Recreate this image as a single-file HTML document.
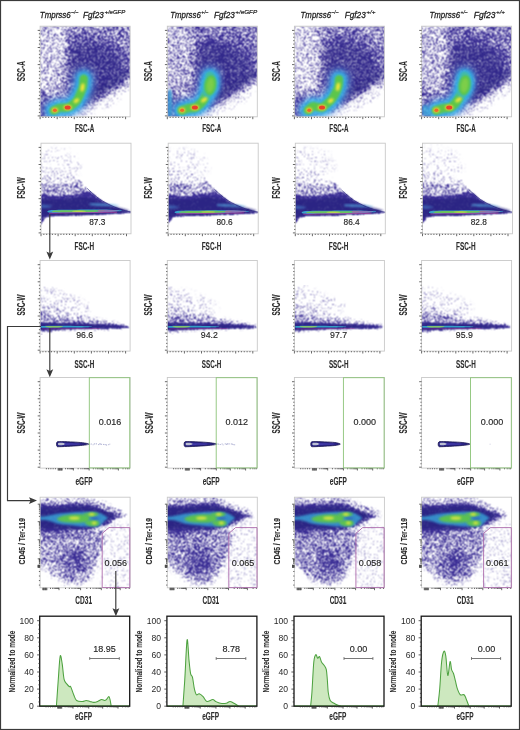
<!DOCTYPE html><html><head><meta charset="utf-8"><style>html,body{margin:0;padding:0;background:#fff;width:520px;height:730px;overflow:hidden}svg{display:block;will-change:transform}</style></head><body><svg width="520" height="730" viewBox="0 0 520 730"><defs><filter id="dz" x="-0.05" y="-0.05" width="1.1" height="1.1" color-interpolation-filters="sRGB">
<feTurbulence type="fractalNoise" baseFrequency="3.7" numOctaves="1" seed="5" result="n"/>
<feColorMatrix in="n" type="matrix" values="0 0 0 0 0 0 0 0 0 0 0 0 0 0 0 1 0 0 0 0" result="na"/>
<feComponentTransfer in="na" result="nu"><feFuncA type="table" tableValues="0 0 0 0 0 0 0 0 0.001 0.002 0.004 0.014 0.031 0.055 0.091 0.131 0.186 0.243 0.316 0.415 0.496 0.588 0.686 0.756 0.820 0.866 0.906 0.944 0.970 0.987 0.996 0.999 1 1 1 1 1 1 1 1 1"/></feComponentTransfer>
<feComposite in="SourceGraphic" in2="nu" operator="arithmetic" k1="0" k2="1" k3="-1" k4="0.5" result="d"/>
<feComponentTransfer in="d" result="t"><feFuncA type="linear" slope="4" intercept="-1.5"/></feComponentTransfer>
<feComponentTransfer in="SourceAlpha" result="m"><feFuncA type="linear" slope="40" intercept="0"/></feComponentTransfer>
<feComposite in="t" in2="m" operator="in" result="tm"/>
<feFlood flood-color="#3c2f96" result="col"/>
<feComposite in="col" in2="tm" operator="in" result="dots"/>
<feConvolveMatrix in="dots" order="3" kernelMatrix="1 2 1 2 4 2 1 2 1" preserveAlpha="false"/>
</filter><filter id="b0" x="-50%" y="-50%" width="200%" height="200%"><feGaussianBlur stdDeviation="1.50"/></filter><filter id="b1" x="-50%" y="-50%" width="200%" height="200%"><feGaussianBlur stdDeviation="3.00"/></filter><filter id="b2" x="-50%" y="-50%" width="200%" height="200%"><feGaussianBlur stdDeviation="4.00"/></filter><clipPath id="c0"><rect x="40.1" y="26.2" width="90" height="90.6"/></clipPath><filter id="b3" x="-50%" y="-50%" width="200%" height="200%"><feGaussianBlur stdDeviation="2.00"/></filter><filter id="b4" x="-50%" y="-50%" width="200%" height="200%"><feGaussianBlur stdDeviation="1.20"/></filter><filter id="b5" x="-50%" y="-50%" width="200%" height="200%"><feGaussianBlur stdDeviation="0.90"/></filter><filter id="b6" x="-50%" y="-50%" width="200%" height="200%"><feGaussianBlur stdDeviation="0.80"/></filter><filter id="b7" x="-50%" y="-50%" width="200%" height="200%"><feGaussianBlur stdDeviation="1.00"/></filter><clipPath id="c1"><rect x="40.1" y="26.2" width="90" height="90.6"/></clipPath><clipPath id="c2"><rect x="41" y="143.2" width="90" height="90.6"/></clipPath><clipPath id="c3"><rect x="41" y="143.2" width="90" height="90.6"/></clipPath><filter id="b8" x="-50%" y="-50%" width="200%" height="200%"><feGaussianBlur stdDeviation="1.30"/></filter><filter id="b9" x="-50%" y="-50%" width="200%" height="200%"><feGaussianBlur stdDeviation="0.60"/></filter><clipPath id="c4"><rect x="40.1" y="260.5" width="90" height="90.6"/></clipPath><filter id="b10" x="-50%" y="-50%" width="200%" height="200%"><feGaussianBlur stdDeviation="0.40"/></filter><filter id="b11" x="-50%" y="-50%" width="200%" height="200%"><feGaussianBlur stdDeviation="0.35"/></filter><clipPath id="c5"><rect x="40.1" y="260.5" width="90" height="90.6"/></clipPath><clipPath id="c6"><rect x="40.1" y="377.5" width="90" height="90.6"/></clipPath><filter id="b12" x="-50%" y="-50%" width="200%" height="200%"><feGaussianBlur stdDeviation="2.50"/></filter><filter id="b13" x="-50%" y="-50%" width="200%" height="200%"><feGaussianBlur stdDeviation="5.00"/></filter><clipPath id="c7"><rect x="40.1" y="497.2" width="90" height="90.6"/></clipPath><filter id="b14" x="-50%" y="-50%" width="200%" height="200%"><feGaussianBlur stdDeviation="1.80"/></filter><clipPath id="c8"><rect x="40.1" y="497.2" width="90" height="90.6"/></clipPath><clipPath id="c9"><rect x="167.3" y="26.2" width="90" height="90.6"/></clipPath><clipPath id="c10"><rect x="167.3" y="26.2" width="90" height="90.6"/></clipPath><clipPath id="c11"><rect x="168.2" y="143.2" width="90" height="90.6"/></clipPath><clipPath id="c12"><rect x="168.2" y="143.2" width="90" height="90.6"/></clipPath><clipPath id="c13"><rect x="167.3" y="260.5" width="90" height="90.6"/></clipPath><clipPath id="c14"><rect x="167.3" y="260.5" width="90" height="90.6"/></clipPath><clipPath id="c15"><rect x="167.3" y="377.5" width="90" height="90.6"/></clipPath><clipPath id="c16"><rect x="167.3" y="497.2" width="90" height="90.6"/></clipPath><clipPath id="c17"><rect x="167.3" y="497.2" width="90" height="90.6"/></clipPath><clipPath id="c18"><rect x="294.4" y="26.2" width="90" height="90.6"/></clipPath><clipPath id="c19"><rect x="294.4" y="26.2" width="90" height="90.6"/></clipPath><clipPath id="c20"><rect x="295.3" y="143.2" width="90" height="90.6"/></clipPath><clipPath id="c21"><rect x="295.3" y="143.2" width="90" height="90.6"/></clipPath><clipPath id="c22"><rect x="294.4" y="260.5" width="90" height="90.6"/></clipPath><clipPath id="c23"><rect x="294.4" y="260.5" width="90" height="90.6"/></clipPath><clipPath id="c24"><rect x="294.4" y="377.5" width="90" height="90.6"/></clipPath><clipPath id="c25"><rect x="294.4" y="497.2" width="90" height="90.6"/></clipPath><clipPath id="c26"><rect x="294.4" y="497.2" width="90" height="90.6"/></clipPath><clipPath id="c27"><rect x="421.6" y="26.2" width="90" height="90.6"/></clipPath><clipPath id="c28"><rect x="421.6" y="26.2" width="90" height="90.6"/></clipPath><clipPath id="c29"><rect x="422.5" y="143.2" width="90" height="90.6"/></clipPath><clipPath id="c30"><rect x="422.5" y="143.2" width="90" height="90.6"/></clipPath><clipPath id="c31"><rect x="421.6" y="260.5" width="90" height="90.6"/></clipPath><clipPath id="c32"><rect x="421.6" y="260.5" width="90" height="90.6"/></clipPath><clipPath id="c33"><rect x="421.6" y="377.5" width="90" height="90.6"/></clipPath><clipPath id="c34"><rect x="421.6" y="497.2" width="90" height="90.6"/></clipPath><clipPath id="c35"><rect x="421.6" y="497.2" width="90" height="90.6"/></clipPath></defs><rect x="0" y="0" width="520" height="730" fill="#fff"/>
<g font-family="Liberation Sans, sans-serif" font-style="italic" fill="#1e1e1e" stroke="#1e1e1e"><text x="39.8" y="17.8" font-size="9.3" stroke-width="0.3" textLength="30.9" lengthAdjust="spacingAndGlyphs">Tmprss6</text><text x="71.2" y="14.1" font-size="5.9" stroke-width="0.2" textLength="7" lengthAdjust="spacingAndGlyphs">–/–</text><text x="83.1" y="17.8" font-size="9.3" stroke-width="0.3" textLength="20.8" lengthAdjust="spacingAndGlyphs">Fgf23</text><text x="104.4" y="14.1" font-size="5.9" stroke-width="0.2" textLength="20.9" lengthAdjust="spacingAndGlyphs">+/eGFP</text></g>
<g font-family="Liberation Sans, sans-serif" font-style="italic" fill="#1e1e1e" stroke="#1e1e1e"><text x="170.3" y="17.8" font-size="9.3" stroke-width="0.3" textLength="30.5" lengthAdjust="spacingAndGlyphs">Tmprss6</text><text x="201.3" y="14.1" font-size="5.9" stroke-width="0.2" textLength="7" lengthAdjust="spacingAndGlyphs">+/–</text><text x="214" y="17.8" font-size="9.3" stroke-width="0.3" textLength="20.8" lengthAdjust="spacingAndGlyphs">Fgf23</text><text x="235.3" y="14.1" font-size="5.9" stroke-width="0.2" textLength="21.8" lengthAdjust="spacingAndGlyphs">+/eGFP</text></g>
<g font-family="Liberation Sans, sans-serif" font-style="italic" fill="#1e1e1e" stroke="#1e1e1e"><text x="300.6" y="17.8" font-size="9.3" stroke-width="0.3" textLength="30.4" lengthAdjust="spacingAndGlyphs">Tmprss6</text><text x="331.5" y="14.1" font-size="5.9" stroke-width="0.2" textLength="7" lengthAdjust="spacingAndGlyphs">–/–</text><text x="344.8" y="17.8" font-size="9.3" stroke-width="0.3" textLength="20.9" lengthAdjust="spacingAndGlyphs">Fgf23</text><text x="366.2" y="14.1" font-size="5.9" stroke-width="0.2" textLength="9.3" lengthAdjust="spacingAndGlyphs">+/+</text></g>
<g font-family="Liberation Sans, sans-serif" font-style="italic" fill="#1e1e1e" stroke="#1e1e1e"><text x="429.5" y="17.8" font-size="9.3" stroke-width="0.3" textLength="30.5" lengthAdjust="spacingAndGlyphs">Tmprss6</text><text x="460.5" y="14.1" font-size="5.9" stroke-width="0.2" textLength="7" lengthAdjust="spacingAndGlyphs">+/–</text><text x="473.7" y="17.8" font-size="9.3" stroke-width="0.3" textLength="21.8" lengthAdjust="spacingAndGlyphs">Fgf23</text><text x="496" y="14.1" font-size="5.9" stroke-width="0.2" textLength="9" lengthAdjust="spacingAndGlyphs">+/+</text></g>
<g clip-path="url(#c0)"><g filter="url(#dz)"><path d="M37.1,23.2C53.1,7.2 117.1,13.03 133.1,23.2C149.1,33.37 133.67,73.45 133.1,84.2C132.53,94.95 130.83,86.2 129.7,87.7C128.57,89.2 127.83,91.33 126.3,93.2C124.77,95.07 122.75,96.98 120.5,98.9C118.25,100.82 115.68,102.93 112.8,104.7C109.92,106.47 106.4,108.07 103.2,109.5C100,110.93 96.8,112.27 93.6,113.3C90.4,114.33 86.58,114.72 84,115.7C81.42,116.68 85.92,118.62 78.1,119.2C70.28,119.78 43.93,135.2 37.1,119.2C30.27,103.2 21.1,39.2 37.1,23.2Z" fill="#000" opacity="0.05" filter="url(#b0)"/><path d="M37.1,23.2C53.1,7.2 117.1,14.37 133.1,23.2C149.1,32.03 133.98,66.73 133.1,76.2C132.22,85.67 130.12,78.17 127.8,80C125.48,81.83 122.57,84.8 119.2,87.2C115.83,89.6 111.7,92 107.6,94.4C103.5,96.8 98.93,99.18 94.6,101.6C90.27,104.02 85.92,106.97 81.6,108.9C77.28,110.83 72.28,112.07 68.7,113.2C65.12,114.33 63.2,114.7 60.1,115.7C57,116.7 53.93,118.62 50.1,119.2C46.27,119.78 39.27,135.2 37.1,119.2C34.93,103.2 21.1,39.2 37.1,23.2Z" fill="#000" opacity="0.22"/><path d="M67.1,23.2C77.93,19.37 122.1,14.03 133.1,23.2C144.1,32.37 135.27,67.53 133.1,78.2C130.93,88.87 124.27,84.53 120.1,87.2C115.93,89.87 112.77,91.53 108.1,94.2C103.43,96.87 96.77,100.7 92.1,103.2C87.43,105.7 84.6,107.37 80.1,109.2C75.6,111.03 72.27,112.7 65.1,114.2C57.93,115.7 41.77,119.87 37.1,118.2C32.43,116.53 34.93,107.53 37.1,104.2C39.27,100.87 46.27,101.2 50.1,98.2C53.93,95.2 57.43,91.2 60.1,86.2C62.77,81.2 64.77,74.87 66.1,68.2C67.43,61.53 67.93,53.7 68.1,46.2C68.27,38.7 56.27,27.03 67.1,23.2Z" fill="#000" opacity="0.36" filter="url(#b1)"/><path d="M70.1,40.2C73.43,34.03 81.43,34.53 88.1,34.2C94.77,33.87 103.77,34.87 110.1,38.2C116.43,41.53 123.1,48.7 126.1,54.2C129.1,59.7 129.77,66.2 128.1,71.2C126.43,76.2 120.77,80.37 116.1,84.2C111.43,88.03 105.77,90.53 100.1,94.2C94.43,97.87 87.1,105.2 82.1,106.2C77.1,107.2 72.43,106.03 70.1,100.2C67.77,94.37 68.1,81.2 68.1,71.2C68.1,61.2 66.77,46.37 70.1,40.2Z" fill="#000" opacity="0.55" filter="url(#b2)"/><path d="M37.1,88.2C38.93,83.87 45.27,89.87 48.1,92.2C50.93,94.53 53.77,98.53 54.1,102.2C54.43,105.87 52.93,111.53 50.1,114.2C47.27,116.87 39.27,122.53 37.1,118.2C34.93,113.87 35.27,92.53 37.1,88.2Z" fill="#000" opacity="0.5" filter="url(#b1)"/></g></g>
<g clip-path="url(#c1)"><path d="M72.1,48.2C76.1,42.87 87.43,42.87 95.1,44.2C102.77,45.53 113.6,51.2 118.1,56.2C122.6,61.2 123.77,68.53 122.1,74.2C120.43,79.87 113.43,85.87 108.1,90.2C102.77,94.53 95.43,98.87 90.1,100.2C84.77,101.53 79.27,102.2 76.1,98.2C72.93,94.2 71.77,84.53 71.1,76.2C70.43,67.87 68.1,53.53 72.1,48.2Z" fill="#26227e" opacity="0.42" filter="url(#b2)"/><path d="M90.1,92.2C94.1,88.87 104.1,84.87 110.1,81.2C116.1,77.53 122.93,71.2 126.1,70.2C129.27,69.2 130.6,73.03 129.1,75.2C127.6,77.37 121.77,80.37 117.1,83.2C112.43,86.03 106.27,89.2 101.1,92.2C95.93,95.2 87.93,101.2 86.1,101.2C84.27,101.2 86.1,95.53 90.1,92.2Z" fill="#26227e" opacity="0.5" filter="url(#b3)"/><path d="M53.6,110.4C54.65,109.97 57.6,108.28 59.9,107.8C62.2,107.32 65.2,108.1 67.4,107.5C69.6,106.9 71.53,105.35 73.1,104.2C74.67,103.05 75.63,102.27 76.8,100.6C77.97,98.93 79.08,96.48 80.1,94.2C81.12,91.92 82.3,89.48 82.9,86.9C83.5,84.32 83.57,80.07 83.7,78.7" fill="none" stroke="#6a9ae2" stroke-width="25" stroke-linecap="round" stroke-linejoin="round" opacity="0.5" filter="url(#b1)"/><path d="M53.6,110.4C54.65,109.97 57.6,108.28 59.9,107.8C62.2,107.32 65.2,108.1 67.4,107.5C69.6,106.9 71.53,105.35 73.1,104.2C74.67,103.05 75.63,102.27 76.8,100.6C77.97,98.93 79.08,96.48 80.1,94.2C81.12,91.92 82.3,89.48 82.9,86.9C83.5,84.32 83.57,80.07 83.7,78.7" fill="none" stroke="#30b2ea" stroke-width="16" stroke-linecap="round" stroke-linejoin="round" opacity="0.95" filter="url(#b3)"/><path d="M53.6,110.4C54.65,109.97 57.6,108.28 59.9,107.8C62.2,107.32 65.2,108.1 67.4,107.5C69.6,106.9 71.53,105.35 73.1,104.2C74.67,103.05 75.63,102.27 76.8,100.6C77.97,98.93 79.08,96.48 80.1,94.2C81.12,91.92 82.3,89.48 82.9,86.9C83.5,84.32 83.57,80.07 83.7,78.7" fill="none" stroke="#5cc64c" stroke-width="8.5" stroke-linecap="round" stroke-linejoin="round" filter="url(#b4)"/><ellipse cx="82.5" cy="87.4" rx="1.9" ry="4.2" fill="#f0e63a" filter="url(#b5)" transform="rotate(10 82.5 87.4)"/><ellipse cx="76.4" cy="100.7" rx="3" ry="1.9" fill="#f0e63a" filter="url(#b6)" transform="rotate(-35 76.4 100.7)"/><ellipse cx="67.7" cy="107.5" rx="4.2" ry="2.8" fill="#f2c830" filter="url(#b7)"/><ellipse cx="67.7" cy="107.5" rx="3" ry="2" fill="#e8402a"/><ellipse cx="54.9" cy="110" rx="3.2" ry="2.6" fill="#f2c830" filter="url(#b7)"/><ellipse cx="54.9" cy="110.2" rx="2" ry="1.7" fill="#ec6a2a"/></g>
<rect x="40.1" y="26.2" width="90" height="90.6" fill="none" stroke="#c8c8c8" stroke-width="0.9"/>
<path d="M40.1,116.8v2.4M42.95,116.8v1.2M45.8,116.8v1.2M48.65,116.8v1.2M51.5,116.8v1.2M54.35,116.8v1.2M57.2,116.8v2.4M60.05,116.8v1.2M62.9,116.8v1.2M65.75,116.8v1.2M68.6,116.8v1.2M71.45,116.8v1.2M74.3,116.8v2.4M77.15,116.8v1.2M80,116.8v1.2M82.85,116.8v1.2M85.7,116.8v1.2M88.55,116.8v1.2M91.4,116.8v2.4M94.25,116.8v1.2M97.1,116.8v1.2M99.95,116.8v1.2M102.8,116.8v1.2M105.65,116.8v1.2M108.5,116.8v2.4M111.35,116.8v1.2M114.2,116.8v1.2M117.05,116.8v1.2M119.9,116.8v1.2M122.75,116.8v1.2M125.6,116.8v2.4M40.1,30.4h-2.4M40.1,33.82h-1.2M40.1,37.24h-1.2M40.1,40.66h-1.2M40.1,44.08h-1.2M40.1,47.5h-2.4M40.1,50.92h-1.2M40.1,54.34h-1.2M40.1,57.76h-1.2M40.1,61.18h-1.2M40.1,64.6h-2.4M40.1,68.02h-1.2M40.1,71.44h-1.2M40.1,74.86h-1.2M40.1,78.28h-1.2M40.1,81.7h-2.4M40.1,85.12h-1.2M40.1,88.54h-1.2M40.1,91.96h-1.2M40.1,95.38h-1.2M40.1,98.8h-2.4M40.1,102.22h-1.2M40.1,105.64h-1.2M40.1,109.06h-1.2M40.1,112.48h-1.2M40.1,115.9h-2.4" stroke="#444" stroke-width="0.8" fill="none"/>
<text x="84.6" y="131.7" font-size="10.5" font-family="Liberation Sans, sans-serif" fill="#2b2b2b" text-anchor="middle" font-weight="bold" textLength="19.2" lengthAdjust="spacingAndGlyphs" stroke="#2b2b2b" stroke-width="0.1">FSC-A</text>
<text x="25.3" y="71.2" font-size="10.5" font-family="Liberation Sans, sans-serif" fill="#2b2b2b" text-anchor="middle" font-weight="bold" textLength="20" lengthAdjust="spacingAndGlyphs" transform="rotate(-90 25.3 71.2)" stroke="#2b2b2b" stroke-width="0.1">SSC-A</text>
<g clip-path="url(#c2)"><g filter="url(#dz)"><path d="M38,173.2C39.83,164.53 45.17,171.37 49,171.2C52.83,171.03 57.5,171.62 61,172.2C64.5,172.78 67.5,174.12 70,174.7C72.5,175.28 74.28,174.6 76,175.7C77.72,176.8 78.43,179.19 80.3,181.31C82.17,183.43 85.08,186.34 87.2,188.42C89.32,190.5 91.07,192.1 93,193.79C94.93,195.48 96.88,197.16 98.8,198.56C100.72,199.97 102.58,201.13 104.5,202.23C106.42,203.34 108.37,204.3 110.3,205.21C112.23,206.12 114.18,206.94 116.1,207.68C118.02,208.42 119.7,209.01 121.8,209.65C123.9,210.3 126.92,211.12 128.7,211.56C130.48,212 131.87,212.07 132.5,212.27C133.13,212.48 135.8,212.51 132.5,212.8C129.2,213.09 122.4,213.53 112.7,214C103,214.47 85.2,215.12 74.3,215.6C63.4,216.08 52.43,216.03 47.3,216.9C42.17,217.77 45.05,219.75 43.5,220.8C41.95,221.85 38.92,231.13 38,223.2C37.08,215.27 36.17,181.87 38,173.2Z" fill="#000" opacity="0.1"/><path d="M38,151.2C41.83,147.2 54.67,148.53 61,149.2C67.33,149.87 72.67,151.53 76,155.2C79.33,158.87 81.83,167.87 81,171.2C80.17,174.53 76,174.87 71,175.2C66,175.53 56.5,173.53 51,173.2C45.5,172.87 40.17,176.87 38,173.2C35.83,169.53 34.17,155.2 38,151.2Z" fill="#000" opacity="0.03" filter="url(#b1)"/><path d="M38,186.2C40.5,179.7 48.33,184.53 53,184.2C57.67,183.87 62.33,184.78 66,184.2C69.67,183.62 72.62,181.18 75,180.7C77.38,180.22 78.27,180.02 80.3,181.31C82.33,182.59 85.08,186.34 87.2,188.42C89.32,190.5 91.07,192.1 93,193.79C94.93,195.48 96.88,197.16 98.8,198.56C100.72,199.97 102.58,201.13 104.5,202.23C106.42,203.34 108.37,204.3 110.3,205.21C112.23,206.12 114.18,206.94 116.1,207.68C118.02,208.42 119.7,209.01 121.8,209.65C123.9,210.3 126.92,211.12 128.7,211.56C130.48,212 131.87,212.07 132.5,212.27C133.13,212.48 135.8,212.51 132.5,212.8C129.2,213.09 122.4,213.53 112.7,214C103,214.47 85.2,215.12 74.3,215.6C63.4,216.08 52.43,216.03 47.3,216.9C42.17,217.77 45.05,219.75 43.5,220.8C41.95,221.85 38.92,228.97 38,223.2C37.08,217.43 35.5,192.7 38,186.2Z" fill="#000" opacity="0.32"/><path d="M38,197.2C40.83,192.7 49.5,196.62 55,196.2C60.5,195.78 66.67,195.2 71,194.7C75.33,194.2 78.33,193.7 81,193.2C83.67,192.7 85,191.6 87,191.7C89,191.8 91.03,192.65 93,193.79C94.97,194.93 96.88,197.16 98.8,198.56C100.72,199.97 102.58,201.13 104.5,202.23C106.42,203.34 108.37,204.3 110.3,205.21C112.23,206.12 114.18,206.94 116.1,207.68C118.02,208.42 119.7,209.01 121.8,209.65C123.9,210.3 126.92,211.12 128.7,211.56C130.48,212 131.87,212.07 132.5,212.27C133.13,212.48 135.8,212.51 132.5,212.8C129.2,213.09 122.4,213.53 112.7,214C103,214.47 85.2,215.12 74.3,215.6C63.4,216.08 52.43,216.03 47.3,216.9C42.17,217.77 45.05,219.75 43.5,220.8C41.95,221.85 38.92,227.13 38,223.2C37.08,219.27 35.17,201.7 38,197.2Z" fill="#000" opacity="0.97"/></g></g>
<g clip-path="url(#c3)"><path d="M38,200.2C41.83,197.2 53.83,199.7 61,199.2C68.17,198.7 75.67,197.28 81,197.2C86.33,197.12 89.33,197.78 93,198.7C96.67,199.62 99.67,201.45 103,202.7C106.33,203.95 108.67,204.87 113,206.2C117.33,207.53 129,209.53 129,210.7C129,211.87 121,212.53 113,213.2C105,213.87 91.33,214.37 81,214.7C70.67,215.03 58.17,214.78 51,215.2C43.83,215.62 40.17,219.7 38,217.2C35.83,214.7 34.17,203.2 38,200.2Z" fill="#26227e" opacity="0.75" filter="url(#b4)"/><path d="M41.5,204.7C42.42,204.25 45.25,204.72 47,205C48.75,205.28 52,205.93 52,206.4C52,206.87 48.75,207.58 47,207.8C45.25,208.02 42.42,208.22 41.5,207.7C40.58,207.18 40.58,205.15 41.5,204.7Z" fill="#4a8ad0" opacity="0.55" filter="url(#b5)"/><path d="M50,210.2C53.5,209.7 62.5,209.82 71,209.7C79.5,209.58 93.33,209.43 101,209.5C108.67,209.57 113.67,209.87 117,210.1C120.33,210.33 123.67,210.52 121,210.9C118.33,211.28 109.33,212.1 101,212.4C92.67,212.7 79.5,212.65 71,212.7C62.5,212.75 53.5,213.12 50,212.7C46.5,212.28 46.5,210.7 50,210.2Z" fill="#3aaed0" opacity="0.9"/><path d="M54,210.7C56.83,210.4 64.83,210.38 71,210.3C77.17,210.22 85.33,210.13 91,210.2C96.67,210.27 105,210.4 105,210.7C105,211 96.67,211.75 91,212C85.33,212.25 77.17,212.18 71,212.2C64.83,212.22 56.83,212.35 54,212.1C51.17,211.85 51.17,211 54,210.7Z" fill="#72c652" opacity="0.9"/><ellipse cx="79" cy="211.2" rx="7" ry="0.7" fill="#c8dc4c" opacity="0.8"/><path d="M99,209.8C101,209.45 107.67,209.75 111,209.9C114.33,210.05 119,210.38 119,210.7C119,211.02 114.33,211.58 111,211.8C107.67,212.02 101,212.33 99,212C97,211.67 97,210.15 99,209.8Z" fill="#b85aa8" opacity="0.6"/><path d="M49,213.2L117,212.2" stroke="#c03a98" stroke-width="0.9" opacity="0.75"/><path d="M91,203.6C93,203.33 99.33,203.53 103,203.7C106.67,203.87 110.33,204.25 113,204.6C115.67,204.95 119.33,205.55 119,205.8C118.67,206.05 114,206.1 111,206.1C108,206.1 104.33,205.93 101,205.8C97.67,205.67 92.67,205.67 91,205.3C89.33,204.93 89,203.87 91,203.6Z" fill="#58b2e6" opacity="0.8" filter="url(#b6)"/><path d="M87.2,188.42C88.17,189.31 91.07,192.1 93,193.79C94.93,195.48 96.88,197.16 98.8,198.56C100.72,199.97 102.58,201.13 104.5,202.23C106.42,203.34 108.37,204.3 110.3,205.21C112.23,206.12 114.18,206.94 116.1,207.68C118.02,208.42 119.7,209.01 121.8,209.65C123.9,210.3 126.92,211.12 128.7,211.56C130.48,212 131.87,212.16 132.5,212.27" fill="none" stroke="#22207a" stroke-width="0.9" opacity="0.75"/></g>
<rect x="41" y="143.2" width="90" height="90.6" fill="none" stroke="#c8c8c8" stroke-width="0.9"/>
<path d="M41,233.8v2.4M43.85,233.8v1.2M46.7,233.8v1.2M49.55,233.8v1.2M52.4,233.8v1.2M55.25,233.8v1.2M58.1,233.8v2.4M60.95,233.8v1.2M63.8,233.8v1.2M66.65,233.8v1.2M69.5,233.8v1.2M72.35,233.8v1.2M75.2,233.8v2.4M78.05,233.8v1.2M80.9,233.8v1.2M83.75,233.8v1.2M86.6,233.8v1.2M89.45,233.8v1.2M92.3,233.8v2.4M95.15,233.8v1.2M98,233.8v1.2M100.85,233.8v1.2M103.7,233.8v1.2M106.55,233.8v1.2M109.4,233.8v2.4M112.25,233.8v1.2M115.1,233.8v1.2M117.95,233.8v1.2M120.8,233.8v1.2M123.65,233.8v1.2M126.5,233.8v2.4M41,147.4h-2.4M41,150.82h-1.2M41,154.24h-1.2M41,157.66h-1.2M41,161.08h-1.2M41,164.5h-2.4M41,167.92h-1.2M41,171.34h-1.2M41,174.76h-1.2M41,178.18h-1.2M41,181.6h-2.4M41,185.02h-1.2M41,188.44h-1.2M41,191.86h-1.2M41,195.28h-1.2M41,198.7h-2.4M41,202.12h-1.2M41,205.54h-1.2M41,208.96h-1.2M41,212.38h-1.2M41,215.8h-2.4M41,219.22h-1.2M41,222.64h-1.2M41,226.06h-1.2M41,229.48h-1.2M41,232.9h-2.4" stroke="#444" stroke-width="0.8" fill="none"/>
<text x="97.3" y="225.4" font-size="9" font-family="Liberation Sans, sans-serif" fill="#262626" text-anchor="middle" textLength="16.2" lengthAdjust="spacingAndGlyphs" stroke="#262626" stroke-width="0.15">87.3</text>
<text x="84.3" y="249.8" font-size="10.5" font-family="Liberation Sans, sans-serif" fill="#2b2b2b" text-anchor="middle" font-weight="bold" textLength="19.6" lengthAdjust="spacingAndGlyphs" stroke="#2b2b2b" stroke-width="0.1">FSC-H</text>
<text x="25.3" y="188.1" font-size="10.5" font-family="Liberation Sans, sans-serif" fill="#2b2b2b" text-anchor="middle" font-weight="bold" textLength="21.5" lengthAdjust="spacingAndGlyphs" transform="rotate(-90 25.3 188.1)" stroke="#2b2b2b" stroke-width="0.1">FSC-W</text>
<g clip-path="url(#c4)"><g filter="url(#dz)"><path d="M37.1,302.5C37.87,298.08 39.53,303.33 41.7,304C43.87,304.67 47.03,305.58 50.1,306.5C53.17,307.42 56.05,308.33 60.1,309.5C64.15,310.67 68.82,312.08 74.4,313.5C79.98,314.92 87.2,316.58 93.6,318C100,319.42 106.97,320.62 112.8,322C118.63,323.38 128.6,325.22 128.6,326.3C128.6,327.38 121.83,328.03 112.8,328.5C103.77,328.97 87.02,328.77 74.4,329.1C61.78,329.43 43.32,334.93 37.1,330.5C30.88,326.07 36.33,306.92 37.1,302.5Z" fill="#000" opacity="0.16" filter="url(#b8)"/><path d="M37.1,288.5C40.1,285.83 48.77,288.83 55.1,290.5C61.43,292.17 69.27,295.83 75.1,298.5C80.93,301.17 89.27,304.17 90.1,306.5C90.93,308.83 85.93,312.17 80.1,312.5C74.27,312.83 62.27,309.5 55.1,308.5C47.93,307.5 40.1,309.83 37.1,306.5C34.1,303.17 34.1,291.17 37.1,288.5Z" fill="#000" opacity="0.07" filter="url(#b1)"/><path d="M37.1,312.5C40.1,310 48.88,314.5 55.1,315.5C61.32,316.5 67.98,317.58 74.4,318.5C80.82,319.42 87.2,320.17 93.6,321C100,321.83 106.97,322.58 112.8,323.5C118.63,324.42 128.6,325.67 128.6,326.5C128.6,327.33 121.83,328.07 112.8,328.5C103.77,328.93 87.02,328.77 74.4,329.1C61.78,329.43 43.32,333.27 37.1,330.5C30.88,327.73 34.1,315 37.1,312.5Z" fill="#000" opacity="0.35" filter="url(#b7)"/><path d="M37.1,323.3C43.32,322.17 64.98,323.13 74.4,323.3C83.82,323.47 87.2,324.1 93.6,324.3C100,324.5 106.87,324.02 112.8,324.5C118.73,324.98 129.2,326.53 129.2,327.2C129.2,327.87 121.93,328.18 112.8,328.5C103.67,328.82 87.02,328.83 74.4,329.1C61.78,329.37 43.32,331.07 37.1,330.1C30.88,329.13 30.88,324.43 37.1,323.3Z" fill="#000" filter="url(#b9)"/></g></g>
<g clip-path="url(#c5)"><path d="M37.1,324C43.32,323.1 63.9,323.93 74.4,324.1C84.9,324.27 91.48,324.5 100.1,325C108.72,325.5 126.1,326.58 126.1,327.1C126.1,327.62 108.72,327.82 100.1,328.1C91.48,328.38 84.9,328.57 74.4,328.8C63.9,329.03 43.32,330.3 37.1,329.5C30.88,328.7 30.88,324.9 37.1,324Z" fill="#26227e" opacity="0.7" filter="url(#b6)"/><path d="M42.1,326C45.1,325.67 53.77,325.7 60.1,325.7C66.43,325.7 74.77,325.83 80.1,326C85.43,326.17 92.1,326.47 92.1,326.7C92.1,326.93 85.43,327.25 80.1,327.4C74.77,327.55 66.43,327.55 60.1,327.6C53.77,327.65 45.1,327.97 42.1,327.7C39.1,327.43 39.1,326.33 42.1,326Z" fill="#36aacc" opacity="0.9" filter="url(#b10)"/><ellipse cx="54.1" cy="326.8" rx="9" ry="0.65" fill="#a8d448" opacity="0.9" filter="url(#b11)"/><path d="M42.1,328.8L100.1,328.3" stroke="#b02890" stroke-width="0.6" opacity="0.6"/></g>
<rect x="40.1" y="260.5" width="90" height="90.6" fill="none" stroke="#c8c8c8" stroke-width="0.9"/>
<path d="M40.1,351.1v2.4M42.95,351.1v1.2M45.8,351.1v1.2M48.65,351.1v1.2M51.5,351.1v1.2M54.35,351.1v1.2M57.2,351.1v2.4M60.05,351.1v1.2M62.9,351.1v1.2M65.75,351.1v1.2M68.6,351.1v1.2M71.45,351.1v1.2M74.3,351.1v2.4M77.15,351.1v1.2M80,351.1v1.2M82.85,351.1v1.2M85.7,351.1v1.2M88.55,351.1v1.2M91.4,351.1v2.4M94.25,351.1v1.2M97.1,351.1v1.2M99.95,351.1v1.2M102.8,351.1v1.2M105.65,351.1v1.2M108.5,351.1v2.4M111.35,351.1v1.2M114.2,351.1v1.2M117.05,351.1v1.2M119.9,351.1v1.2M122.75,351.1v1.2M125.6,351.1v2.4M40.1,264.7h-2.4M40.1,268.12h-1.2M40.1,271.54h-1.2M40.1,274.96h-1.2M40.1,278.38h-1.2M40.1,281.8h-2.4M40.1,285.22h-1.2M40.1,288.64h-1.2M40.1,292.06h-1.2M40.1,295.48h-1.2M40.1,298.9h-2.4M40.1,302.32h-1.2M40.1,305.74h-1.2M40.1,309.16h-1.2M40.1,312.58h-1.2M40.1,316h-2.4M40.1,319.42h-1.2M40.1,322.84h-1.2M40.1,326.26h-1.2M40.1,329.68h-1.2M40.1,333.1h-2.4M40.1,336.52h-1.2M40.1,339.94h-1.2M40.1,343.36h-1.2M40.1,346.78h-1.2M40.1,350.2h-2.4" stroke="#444" stroke-width="0.8" fill="none"/>
<text x="84.7" y="337.8" font-size="9" font-family="Liberation Sans, sans-serif" fill="#262626" text-anchor="middle" textLength="17" lengthAdjust="spacingAndGlyphs" stroke="#262626" stroke-width="0.15">96.6</text>
<text x="84.4" y="368" font-size="10.5" font-family="Liberation Sans, sans-serif" fill="#2b2b2b" text-anchor="middle" font-weight="bold" textLength="19.6" lengthAdjust="spacingAndGlyphs" stroke="#2b2b2b" stroke-width="0.1">SSC-H</text>
<text x="25.3" y="305.1" font-size="10.5" font-family="Liberation Sans, sans-serif" fill="#2b2b2b" text-anchor="middle" font-weight="bold" textLength="21" lengthAdjust="spacingAndGlyphs" transform="rotate(-90 25.3 305.1)" stroke="#2b2b2b" stroke-width="0.1">SSC-W</text>
<g clip-path="url(#c6)"><path d="M56.5,444.2C56.5,443.47 56.6,442.43 57.1,442C57.6,441.57 57.27,441.62 59.5,441.6C61.73,441.58 67,441.75 70.5,441.9C74,442.05 77.63,442.22 80.5,442.5C83.37,442.78 86.37,443.33 87.7,443.6C89.03,443.87 88.5,443.93 88.5,444.1C88.5,444.27 89.03,444.37 87.7,444.6C86.37,444.83 83.37,445.23 80.5,445.5C77.63,445.77 74,446 70.5,446.2C67,446.4 61.73,446.67 59.5,446.7C57.27,446.73 57.6,446.82 57.1,446.4C56.6,445.98 56.5,444.93 56.5,444.2Z" fill="#2a2486"/><path d="M56.5,444.2C56.5,443.47 56.6,442.43 57.1,442C57.6,441.57 57.27,441.62 59.5,441.6C61.73,441.58 67,441.75 70.5,441.9C74,442.05 77.63,442.22 80.5,442.5C83.37,442.78 86.37,443.33 87.7,443.6C89.03,443.87 88.5,443.93 88.5,444.1C88.5,444.27 89.03,444.37 87.7,444.6C86.37,444.83 83.37,445.23 80.5,445.5C77.63,445.77 74,446 70.5,446.2C67,446.4 61.73,446.67 59.5,446.7C57.27,446.73 57.6,446.82 57.1,446.4C56.6,445.98 56.5,444.93 56.5,444.2Z" fill="none" stroke="#1c1850" stroke-width="0.8"/><path d="M58,444C58,443.6 58.08,442.98 59,442.8C59.92,442.62 62.42,442.73 63.5,442.9C64.58,443.07 65.5,443.45 65.5,443.8C65.5,444.15 64.58,444.77 63.5,445C62.42,445.23 59.92,445.37 59,445.2C58.08,445.03 58,444.4 58,444Z" fill="#c4c8d6" opacity="0.95"/><path d="M65.5,443.3C67.67,443.08 76.33,443.38 78.5,443.6C80.67,443.82 80.67,444.38 78.5,444.6C76.33,444.82 67.67,445.12 65.5,444.9C63.33,444.68 63.33,443.52 65.5,443.3Z" fill="#4840b0" opacity="0.8"/><rect x="86.7" y="443.84" width="1.2" height="1" fill="#9a9cc8" opacity="0.72"/><rect x="88.98" y="443.86" width="1.2" height="1" fill="#9a9cc8" opacity="0.7"/><rect x="90.72" y="443.52" width="1.2" height="1" fill="#9a9cc8" opacity="0.7"/><rect x="92.53" y="444.25" width="1.2" height="1" fill="#9a9cc8" opacity="0.54"/><rect x="93.81" y="443.41" width="1.2" height="1" fill="#9a9cc8" opacity="0.82"/><rect x="95.72" y="443.35" width="1.2" height="1" fill="#9a9cc8" opacity="0.89"/><rect x="98.06" y="444.08" width="1.2" height="1" fill="#9a9cc8" opacity="0.75"/><rect x="99.12" y="443.32" width="1.2" height="1" fill="#9a9cc8" opacity="0.71"/><rect x="100.01" y="443.53" width="1.2" height="1" fill="#9a9cc8" opacity="0.6"/><rect x="100.86" y="443.86" width="1.2" height="1" fill="#9a9cc8" opacity="0.68"/><rect x="103.01" y="443.92" width="1.2" height="1" fill="#9a9cc8" opacity="0.76"/><rect x="104.61" y="444.09" width="1.2" height="1" fill="#9a9cc8" opacity="0.68"/><rect x="105.85" y="444.5" width="1.2" height="1" fill="#9a9cc8" opacity="0.9"/><rect x="108" y="444.15" width="1.2" height="1" fill="#9a9cc8" opacity="0.63"/><rect x="109.16" y="443.65" width="1.2" height="1" fill="#9a9cc8" opacity="0.53"/></g>
<rect x="40.1" y="377.5" width="90" height="90.6" fill="none" stroke="#c8c8c8" stroke-width="0.9"/>
<path d="M73.4,468.1v2.4M89.15,468.1v2.4M103.1,468.1v2.4M118.4,468.1v2.4M46.4,468.1v1.2M48.65,468.1v1.2M50.9,468.1v1.2M53.15,468.1v1.2M55.4,468.1v1.2M65.54,468.1v1.2M67.52,468.1v1.2M68.92,468.1v1.2M70.01,468.1v1.2M70.9,468.1v1.2M71.66,468.1v1.2M72.31,468.1v1.2M72.89,468.1v1.2M78.14,468.1v1.2M80.91,468.1v1.2M82.88,468.1v1.2M84.41,468.1v1.2M85.66,468.1v1.2M86.71,468.1v1.2M87.62,468.1v1.2M88.43,468.1v1.2M93.35,468.1v1.2M95.81,468.1v1.2M97.55,468.1v1.2M98.9,468.1v1.2M100.01,468.1v1.2M100.94,468.1v1.2M101.75,468.1v1.2M102.46,468.1v1.2M107.71,468.1v1.2M110.4,468.1v1.2M112.31,468.1v1.2M113.79,468.1v1.2M115.01,468.1v1.2M116.03,468.1v1.2M116.92,468.1v1.2M117.7,468.1v1.2M123.01,468.1v1.2M125.7,468.1v1.2M127.61,468.1v1.2M129.09,468.1v1.2M58.1,468.1v2.4M58.78,468.1v2.4M59.45,468.1v2.4M60.12,468.1v2.4M60.8,468.1v2.4M61.48,468.1v2.4M62.15,468.1v2.4M40.1,381.7h-2.4M40.1,385.12h-1.2M40.1,388.54h-1.2M40.1,391.96h-1.2M40.1,395.38h-1.2M40.1,398.8h-2.4M40.1,402.22h-1.2M40.1,405.64h-1.2M40.1,409.06h-1.2M40.1,412.48h-1.2M40.1,415.9h-2.4M40.1,419.32h-1.2M40.1,422.74h-1.2M40.1,426.16h-1.2M40.1,429.58h-1.2M40.1,433h-2.4M40.1,436.42h-1.2M40.1,439.84h-1.2M40.1,443.26h-1.2M40.1,446.68h-1.2M40.1,450.1h-2.4M40.1,453.52h-1.2M40.1,456.94h-1.2M40.1,460.36h-1.2M40.1,463.78h-1.2M40.1,467.2h-2.4" stroke="#444" stroke-width="0.8" fill="none"/>
<rect x="89.3" y="377.7" width="40.5" height="90.2" fill="none" stroke="#8cc478" stroke-width="0.9"/>
<text x="109.9" y="425.1" font-size="9" font-family="Liberation Sans, sans-serif" fill="#262626" text-anchor="middle" stroke="#262626" stroke-width="0.15">0.016</text>
<text x="84" y="485" font-size="10.5" font-family="Liberation Sans, sans-serif" fill="#2b2b2b" text-anchor="middle" font-weight="bold" textLength="17" lengthAdjust="spacingAndGlyphs" stroke="#2b2b2b" stroke-width="0.1">eGFP</text>
<text x="25.3" y="423" font-size="10.5" font-family="Liberation Sans, sans-serif" fill="#2b2b2b" text-anchor="middle" font-weight="bold" textLength="21" lengthAdjust="spacingAndGlyphs" transform="rotate(-90 25.3 423)" stroke="#2b2b2b" stroke-width="0.1">SSC-W</text>
<g clip-path="url(#c7)"><g filter="url(#dz)"><path d="M37.1,527.2C42.6,522.53 59.43,528.7 70.1,529.2C80.77,529.7 95.68,528.03 101.1,530.2C106.52,532.37 102.93,537.7 102.6,542.2C102.27,546.7 100.68,552.7 99.1,557.2C97.52,561.7 95.1,565.7 93.1,569.2C91.1,572.7 89.6,575.95 87.1,578.2C84.6,580.45 81.27,581.95 78.1,582.7C74.93,583.45 71.43,583.45 68.1,582.7C64.77,581.95 61.43,580.28 58.1,578.2C54.77,576.12 51.1,572.87 48.1,570.2C45.1,567.53 41.93,564.37 40.1,562.2C38.27,560.03 37.6,563.03 37.1,557.2C36.6,551.37 31.6,531.87 37.1,527.2Z" fill="#000" opacity="0.44" filter="url(#b12)"/><ellipse cx="77.1" cy="561.2" rx="12" ry="14" fill="#000" opacity="0.6" filter="url(#b13)"/><path d="M37.1,531.2C40.93,530.2 52.93,531.03 60.1,531.2C67.27,531.37 74.27,531.87 80.1,532.2C85.93,532.53 95.1,532.37 95.1,533.2C95.1,534.03 85.93,536.53 80.1,537.2C74.27,537.87 67.27,537.2 60.1,537.2C52.93,537.2 40.93,538.2 37.1,537.2C33.27,536.2 33.27,532.2 37.1,531.2Z" fill="#000" opacity="0.35" filter="url(#b3)"/><path d="M104.1,531.2C108.77,520.87 127.43,517.53 132.1,527.2C136.77,536.87 136.77,578.87 132.1,589.2C127.43,599.53 108.77,598.87 104.1,589.2C99.43,579.53 99.43,541.53 104.1,531.2Z" fill="#000" opacity="0.04" filter="url(#b1)"/><path d="M37.1,500.2C40.1,494.78 48.88,499.2 55.1,498.7C61.32,498.2 68.57,497.37 74.4,497.2C80.23,497.03 85.48,496.87 90.1,497.7C94.72,498.53 97.93,500.45 102.1,502.2C106.27,503.95 111.1,506.12 115.1,508.2C119.1,510.28 126.1,512.7 126.1,514.7C126.1,516.7 119.43,518.12 115.1,520.2C110.77,522.28 113.1,525.37 100.1,527.2C87.1,529.03 47.6,535.7 37.1,531.2C26.6,526.7 34.1,505.62 37.1,500.2Z" fill="#000" opacity="0.3" filter="url(#b0)"/><path d="M37.1,506.7C40.1,502.45 48.88,505.28 55.1,504.7C61.32,504.12 69.27,503.45 74.4,503.2C79.53,502.95 82.07,502.62 85.9,503.2C89.73,503.78 93.55,505.28 97.4,506.7C101.25,508.12 105.15,510.32 109,511.7C112.85,513.08 118.23,514.32 120.5,515C122.77,515.68 122.6,515.5 122.6,515.8C122.6,516.1 122.77,515.78 120.5,516.8C118.23,517.82 112.85,520.1 109,521.9C105.15,523.7 101.57,526.3 97.4,527.6C93.23,528.9 89.45,529.18 84,529.7C78.55,530.22 72.52,530.62 64.7,530.7C56.88,530.78 41.7,534.2 37.1,530.2C32.5,526.2 34.1,510.95 37.1,506.7Z" fill="#000" opacity="0.95" filter="url(#b7)"/></g></g>
<g clip-path="url(#c8)"><path d="M37.1,509.2C40.93,505.87 52.1,507.7 60.1,507.2C68.1,506.7 78.43,505.78 85.1,506.2C91.77,506.62 95.27,508.2 100.1,509.7C104.93,511.2 114.1,512.95 114.1,515.2C114.1,517.45 104.93,521.2 100.1,523.2C95.27,525.2 91.77,526.37 85.1,527.2C78.43,528.03 68.1,528.2 60.1,528.2C52.1,528.2 40.93,530.37 37.1,527.2C33.27,524.03 33.27,512.53 37.1,509.2Z" fill="#26227e" opacity="0.75" filter="url(#b14)"/><path d="M37.1,516.7C38.43,516.12 42.6,516.53 45.1,516.2C47.6,515.87 49.82,515.17 52.1,514.7C54.38,514.23 55.8,513.78 58.8,513.4C61.8,513.02 66.35,512.67 70.1,512.4C73.85,512.13 77.63,511.87 81.3,511.8C84.97,511.73 89.22,511.85 92.1,512C94.98,512.15 96.6,512.17 98.6,512.7C100.6,513.23 102.6,514.33 104.1,515.2C105.6,516.07 107.6,516.9 107.6,517.9C107.6,518.9 105.6,519.82 104.1,521.2C102.6,522.58 100.93,525.32 98.6,526.2C96.27,527.08 92.98,526.47 90.1,526.5C87.22,526.53 84.63,526.62 81.3,526.4C77.97,526.18 73.85,525.6 70.1,525.2C66.35,524.8 61.8,524.58 58.8,524C55.8,523.42 54.38,522.37 52.1,521.7C49.82,521.03 47.6,520.33 45.1,520C42.6,519.67 38.43,520.25 37.1,519.7C35.77,519.15 35.77,517.28 37.1,516.7Z" fill="#3aaee0" opacity="0.75" filter="url(#b7)"/><path d="M57.1,518.7C57.43,517.67 61.27,516.22 64.1,515.5C66.93,514.78 70.77,514.53 74.1,514.4C77.43,514.27 81.6,514.32 84.1,514.7C86.6,515.08 88.43,515.62 89.1,516.7C89.77,517.78 89.6,520.2 88.1,521.2C86.6,522.2 83.1,522.48 80.1,522.7C77.1,522.92 73.1,522.67 70.1,522.5C67.1,522.33 64.27,522.33 62.1,521.7C59.93,521.07 56.77,519.73 57.1,518.7Z" fill="#5ec44c" opacity="0.95" filter="url(#b6)"/><path d="M83.1,514.4C83.1,513.7 87.1,512.93 89.1,512.6C91.1,512.27 93.52,512.2 95.1,512.4C96.68,512.6 98.43,513.2 98.6,513.8C98.77,514.4 97.68,515.5 96.1,516C94.52,516.5 91.27,517.07 89.1,516.8C86.93,516.53 83.1,515.1 83.1,514.4Z" fill="#5ec44c" opacity="0.95" filter="url(#b6)"/><path d="M85.1,521.7C85.93,521 89.1,520.22 91.1,520C93.1,519.78 95.68,519.9 97.1,520.4C98.52,520.9 99.6,522.1 99.6,523C99.6,523.9 98.68,525.3 97.1,525.8C95.52,526.3 91.93,526.27 90.1,526C88.27,525.73 86.93,524.92 86.1,524.2C85.27,523.48 84.27,522.4 85.1,521.7Z" fill="#5ec44c" opacity="0.95" filter="url(#b6)"/><ellipse cx="95.1" cy="518.4" rx="3.6" ry="1.1" fill="#2f58b8" opacity="0.7" filter="url(#b6)"/><ellipse cx="74.3" cy="518.1" rx="5.4" ry="1.7" fill="#d4e444" filter="url(#b6)"/><ellipse cx="91.6" cy="514.4" rx="3" ry="1.3" fill="#d4e444" filter="url(#b6)"/><ellipse cx="94.2" cy="523.1" rx="2.6" ry="1.5" fill="#d4e444" filter="url(#b6)"/></g>
<rect x="40.1" y="497.2" width="90" height="90.6" fill="none" stroke="#c8c8c8" stroke-width="0.9"/>
<path d="M59,587.8v2.4M80.6,587.8v2.4M101.3,587.8v2.4M120.2,587.8v2.4M50.51,587.8v1.2M52.65,587.8v1.2M54.17,587.8v1.2M55.34,587.8v1.2M56.3,587.8v1.2M57.12,587.8v1.2M57.82,587.8v1.2M58.44,587.8v1.2M65.5,587.8v1.2M69.31,587.8v1.2M72,587.8v1.2M74.1,587.8v1.2M75.81,587.8v1.2M77.25,587.8v1.2M78.51,587.8v1.2M79.61,587.8v1.2M86.83,587.8v1.2M90.48,587.8v1.2M93.06,587.8v1.2M95.07,587.8v1.2M96.71,587.8v1.2M98.09,587.8v1.2M99.29,587.8v1.2M100.35,587.8v1.2M106.99,587.8v1.2M110.32,587.8v1.2M112.68,587.8v1.2M114.51,587.8v1.2M116.01,587.8v1.2M117.27,587.8v1.2M118.37,587.8v1.2M119.34,587.8v1.2M125.89,587.8v1.2M129.22,587.8v1.2M42.8,587.8v2.4M43.48,587.8v2.4M44.15,587.8v2.4M44.83,587.8v2.4M45.5,587.8v2.4M46.18,587.8v2.4M46.85,587.8v2.4M40.1,504.18h-2.4M40.1,521.66h-2.4M40.1,539.78h-2.4M40.1,558.81h-2.4M40.1,516.4h-1.2M40.1,513.32h-1.2M40.1,511.13h-1.2M40.1,509.44h-1.2M40.1,508.06h-1.2M40.1,506.88h-1.2M40.1,505.87h-1.2M40.1,504.98h-1.2M40.1,534.33h-1.2M40.1,531.14h-1.2M40.1,528.87h-1.2M40.1,527.12h-1.2M40.1,525.68h-1.2M40.1,524.47h-1.2M40.1,523.42h-1.2M40.1,522.49h-1.2M40.1,553.08h-1.2M40.1,549.73h-1.2M40.1,547.35h-1.2M40.1,545.51h-1.2M40.1,544h-1.2M40.1,542.73h-1.2M40.1,541.63h-1.2M40.1,540.65h-1.2M40.1,563.56h-1.2M40.1,562.36h-1.2M40.1,561.51h-1.2M40.1,560.85h-1.2M40.1,560.32h-1.2M40.1,559.86h-1.2M40.1,559.47h-1.2M40.1,559.12h-1.2M40.1,565.15h-2.4M40.1,565.53h-2.4M40.1,565.9h-2.4M40.1,566.28h-2.4M40.1,566.66h-2.4M40.1,567.04h-2.4M40.1,567.41h-2.4M40.1,571.49h-1.2M40.1,576.02h-1.2M40.1,580.55h-1.2M40.1,585.08h-1.2" stroke="#444" stroke-width="0.8" fill="none"/>
<path d="M102.2,533.4 109,527.6 129.8,527.6 129.8,587.6 102.2,587.6Z" fill="none" stroke="#a862a6" stroke-width="0.85"/>
<text x="115.7" y="565.8" font-size="9" font-family="Liberation Sans, sans-serif" fill="#262626" text-anchor="middle" stroke="#262626" stroke-width="0.15">0.056</text>
<text x="83.7" y="604.4" font-size="10.5" font-family="Liberation Sans, sans-serif" fill="#2b2b2b" text-anchor="middle" font-weight="bold" textLength="16.7" lengthAdjust="spacingAndGlyphs" stroke="#2b2b2b" stroke-width="0.1">CD31</text>
<text x="25.3" y="541.2" font-size="9.6" font-family="Liberation Sans, sans-serif" fill="#2b2b2b" text-anchor="middle" font-weight="bold" textLength="46.5" lengthAdjust="spacingAndGlyphs" transform="rotate(-90 25.3 541.2)" stroke="#2b2b2b" stroke-width="0.1">CD45 / Ter-119</text>
<path d="M56.4,706.2C56.72,701.71 57.67,687.6 58.3,679.27C58.93,670.93 59.55,658.75 60.2,656.18C60.85,653.62 61.55,660.03 62.2,663.88C62.85,667.73 63.3,675.89 64.1,679.27C64.9,682.64 66.15,682.93 67,684.14C67.85,685.35 68.57,686.06 69.2,686.54C69.83,687.01 70.05,685.59 70.8,686.96C71.55,688.33 72.73,692.49 73.7,694.74C74.67,696.99 75.15,699.36 76.6,700.47C78.05,701.58 80.8,701.41 82.4,701.41C84,701.41 84.93,700.47 86.2,700.47C87.47,700.47 88.72,701.1 90,701.41C91.28,701.73 92.62,702.35 93.9,702.35C95.18,702.35 96.42,701.88 97.7,701.41C98.98,700.94 100.47,699.69 101.6,699.53C102.73,699.37 103.7,700.47 104.5,700.47C105.3,700.47 105.67,700.17 106.4,699.53C107.13,698.89 108.27,696.47 108.9,696.62C109.53,696.78 109.82,698.88 110.2,700.47C110.58,702.07 111.03,705.25 111.2,706.2L111.2,706.2L56.4,706.2Z" fill="#cde8bf"/>
<path d="M56.4,706.2C56.72,701.71 57.67,687.6 58.3,679.27C58.93,670.93 59.55,658.75 60.2,656.18C60.85,653.62 61.55,660.03 62.2,663.88C62.85,667.73 63.3,675.89 64.1,679.27C64.9,682.64 66.15,682.93 67,684.14C67.85,685.35 68.57,686.06 69.2,686.54C69.83,687.01 70.05,685.59 70.8,686.96C71.55,688.33 72.73,692.49 73.7,694.74C74.67,696.99 75.15,699.36 76.6,700.47C78.05,701.58 80.8,701.41 82.4,701.41C84,701.41 84.93,700.47 86.2,700.47C87.47,700.47 88.72,701.1 90,701.41C91.28,701.73 92.62,702.35 93.9,702.35C95.18,702.35 96.42,701.88 97.7,701.41C98.98,700.94 100.47,699.69 101.6,699.53C102.73,699.37 103.7,700.47 104.5,700.47C105.3,700.47 105.67,700.17 106.4,699.53C107.13,698.89 108.27,696.47 108.9,696.62C109.53,696.78 109.82,698.88 110.2,700.47C110.58,702.07 111.03,705.25 111.2,706.2" fill="none" stroke="#4ea240" stroke-width="1.05" stroke-linejoin="round"/>
<path d="M39.7,705.8H129.7" stroke="#56ad46" stroke-width="0.9"/>
<rect x="39.7" y="616.2" width="90" height="90" fill="none" stroke="#161616" stroke-width="1.3"/>
<path d="M73,706.2v2.4M88.75,706.2v2.4M102.7,706.2v2.4M118,706.2v2.4M46,706.2v1.2M48.25,706.2v1.2M50.5,706.2v1.2M52.75,706.2v1.2M55,706.2v1.2M65.14,706.2v1.2M67.12,706.2v1.2M68.52,706.2v1.2M69.61,706.2v1.2M70.5,706.2v1.2M71.26,706.2v1.2M71.91,706.2v1.2M72.49,706.2v1.2M77.74,706.2v1.2M80.51,706.2v1.2M82.48,706.2v1.2M84.01,706.2v1.2M85.26,706.2v1.2M86.31,706.2v1.2M87.22,706.2v1.2M88.03,706.2v1.2M92.95,706.2v1.2M95.41,706.2v1.2M97.15,706.2v1.2M98.5,706.2v1.2M99.61,706.2v1.2M100.54,706.2v1.2M101.35,706.2v1.2M102.06,706.2v1.2M107.31,706.2v1.2M110,706.2v1.2M111.91,706.2v1.2M113.39,706.2v1.2M114.61,706.2v1.2M115.63,706.2v1.2M116.52,706.2v1.2M117.3,706.2v1.2M122.61,706.2v1.2M125.3,706.2v1.2M127.21,706.2v1.2M128.69,706.2v1.2M57.7,706.2v2.4M58.38,706.2v2.4M59.05,706.2v2.4M59.73,706.2v2.4M60.4,706.2v2.4M61.08,706.2v2.4M61.75,706.2v2.4M39.7,620.7h-2.6M39.7,624.98h-1.3M39.7,629.25h-1.3M39.7,633.53h-1.3M39.7,637.8h-2.6M39.7,642.08h-1.3M39.7,646.35h-1.3M39.7,650.63h-1.3M39.7,654.9h-2.6M39.7,659.18h-1.3M39.7,663.45h-1.3M39.7,667.73h-1.3M39.7,672h-2.6M39.7,676.27h-1.3M39.7,680.55h-1.3M39.7,684.83h-1.3M39.7,689.1h-2.6M39.7,693.38h-1.3M39.7,697.65h-1.3M39.7,701.93h-1.3M39.7,706.2h-2.6" stroke="#333" stroke-width="0.8" fill="none"/>
<text x="33.8" y="623.7" font-size="8.6" font-family="Liberation Sans, sans-serif" fill="#2a2a2a" text-anchor="end">100</text>
<text x="33.8" y="640.8" font-size="8.6" font-family="Liberation Sans, sans-serif" fill="#2a2a2a" text-anchor="end">80</text>
<text x="33.8" y="657.9" font-size="8.6" font-family="Liberation Sans, sans-serif" fill="#2a2a2a" text-anchor="end">60</text>
<text x="33.8" y="675" font-size="8.6" font-family="Liberation Sans, sans-serif" fill="#2a2a2a" text-anchor="end">40</text>
<text x="33.8" y="692.1" font-size="8.6" font-family="Liberation Sans, sans-serif" fill="#2a2a2a" text-anchor="end">20</text>
<text x="33.8" y="709.2" font-size="8.6" font-family="Liberation Sans, sans-serif" fill="#2a2a2a" text-anchor="end">0</text>
<path d="M89.7,658.5H119.3M89.7,657.1v2.8M119.3,657.1v2.8" stroke="#6a6a6a" stroke-width="0.9" fill="none"/>
<text x="104.5" y="651.9" font-size="9" font-family="Liberation Sans, sans-serif" fill="#262626" text-anchor="middle" stroke="#262626" stroke-width="0.15">18.95</text>
<text x="83.5" y="719.6" font-size="10.5" font-family="Liberation Sans, sans-serif" fill="#2b2b2b" text-anchor="middle" font-weight="bold" textLength="17" lengthAdjust="spacingAndGlyphs" stroke="#2b2b2b" stroke-width="0.1">eGFP</text>
<text x="14.6" y="661.5" font-size="9.5" font-family="Liberation Sans, sans-serif" fill="#2b2b2b" text-anchor="middle" font-weight="bold" textLength="61.8" lengthAdjust="spacingAndGlyphs" transform="rotate(-90 14.6 661.5)" stroke="#2b2b2b" stroke-width="0.1">Normalized to mode</text>
<g clip-path="url(#c9)"><g filter="url(#dz)"><path d="M164.3,23.2C180.3,7.2 244.3,13.03 260.3,23.2C276.3,33.37 260.87,73.45 260.3,84.2C259.73,94.95 258.03,86.2 256.9,87.7C255.77,89.2 255.03,91.33 253.5,93.2C251.97,95.07 249.95,96.98 247.7,98.9C245.45,100.82 242.88,102.93 240,104.7C237.12,106.47 233.6,108.07 230.4,109.5C227.2,110.93 224,112.27 220.8,113.3C217.6,114.33 213.78,114.72 211.2,115.7C208.62,116.68 213.12,118.62 205.3,119.2C197.48,119.78 171.13,135.2 164.3,119.2C157.47,103.2 148.3,39.2 164.3,23.2Z" fill="#000" opacity="0.05" filter="url(#b0)"/><path d="M164.3,23.2C180.3,7.2 244.3,14.37 260.3,23.2C276.3,32.03 261.18,66.73 260.3,76.2C259.42,85.67 257.32,78.17 255,80C252.68,81.83 249.77,84.8 246.4,87.2C243.03,89.6 238.9,92 234.8,94.4C230.7,96.8 226.13,99.18 221.8,101.6C217.47,104.02 213.12,106.97 208.8,108.9C204.48,110.83 199.48,112.07 195.9,113.2C192.32,114.33 190.4,114.7 187.3,115.7C184.2,116.7 181.13,118.62 177.3,119.2C173.47,119.78 166.47,135.2 164.3,119.2C162.13,103.2 148.3,39.2 164.3,23.2Z" fill="#000" opacity="0.32"/><path d="M194.3,23.2C205.13,19.37 249.3,14.03 260.3,23.2C271.3,32.37 262.47,67.53 260.3,78.2C258.13,88.87 251.47,84.53 247.3,87.2C243.13,89.87 239.97,91.53 235.3,94.2C230.63,96.87 223.97,100.7 219.3,103.2C214.63,105.7 211.8,107.37 207.3,109.2C202.8,111.03 199.47,112.7 192.3,114.2C185.13,115.7 168.97,119.87 164.3,118.2C159.63,116.53 162.13,107.53 164.3,104.2C166.47,100.87 173.47,101.2 177.3,98.2C181.13,95.2 184.63,91.2 187.3,86.2C189.97,81.2 191.97,74.87 193.3,68.2C194.63,61.53 195.13,53.7 195.3,46.2C195.47,38.7 183.47,27.03 194.3,23.2Z" fill="#000" opacity="0.36" filter="url(#b1)"/><path d="M197.3,40.2C200.63,34.03 208.63,34.53 215.3,34.2C221.97,33.87 230.97,34.87 237.3,38.2C243.63,41.53 250.3,48.7 253.3,54.2C256.3,59.7 256.97,66.2 255.3,71.2C253.63,76.2 247.97,80.37 243.3,84.2C238.63,88.03 232.97,90.53 227.3,94.2C221.63,97.87 214.3,105.2 209.3,106.2C204.3,107.2 199.63,106.03 197.3,100.2C194.97,94.37 195.3,81.2 195.3,71.2C195.3,61.2 193.97,46.37 197.3,40.2Z" fill="#000" opacity="0.55" filter="url(#b2)"/><path d="M164.3,88.2C166.13,83.87 172.47,89.87 175.3,92.2C178.13,94.53 180.97,98.53 181.3,102.2C181.63,105.87 180.13,111.53 177.3,114.2C174.47,116.87 166.47,122.53 164.3,118.2C162.13,113.87 162.47,92.53 164.3,88.2Z" fill="#000" opacity="0.5" filter="url(#b1)"/></g></g>
<g clip-path="url(#c10)"><path d="M199.3,48.2C203.3,42.87 214.63,42.87 222.3,44.2C229.97,45.53 240.8,51.2 245.3,56.2C249.8,61.2 250.97,68.53 249.3,74.2C247.63,79.87 240.63,85.87 235.3,90.2C229.97,94.53 222.63,98.87 217.3,100.2C211.97,101.53 206.47,102.2 203.3,98.2C200.13,94.2 198.97,84.53 198.3,76.2C197.63,67.87 195.3,53.53 199.3,48.2Z" fill="#26227e" opacity="0.42" filter="url(#b2)"/><path d="M217.3,92.2C221.3,88.87 231.3,84.87 237.3,81.2C243.3,77.53 250.13,71.2 253.3,70.2C256.47,69.2 257.8,73.03 256.3,75.2C254.8,77.37 248.97,80.37 244.3,83.2C239.63,86.03 233.47,89.2 228.3,92.2C223.13,95.2 215.13,101.2 213.3,101.2C211.47,101.2 213.3,95.53 217.3,92.2Z" fill="#26227e" opacity="0.5" filter="url(#b3)"/><path d="M181.8,110.4C182.88,110.07 186.08,108.88 188.3,108.4C190.52,107.92 193.1,108.23 195.1,107.5C197.1,106.77 198.77,105.47 200.3,104C201.83,102.53 203.05,100.92 204.3,98.7C205.55,96.48 206.88,93.45 207.8,90.7C208.72,87.95 209.42,84.53 209.8,82.2C210.18,79.87 210.05,77.62 210.1,76.7" fill="none" stroke="#6a9ae2" stroke-width="25" stroke-linecap="round" stroke-linejoin="round" opacity="0.5" filter="url(#b1)"/><path d="M181.8,110.4C182.88,110.07 186.08,108.88 188.3,108.4C190.52,107.92 193.1,108.23 195.1,107.5C197.1,106.77 198.77,105.47 200.3,104C201.83,102.53 203.05,100.92 204.3,98.7C205.55,96.48 206.88,93.45 207.8,90.7C208.72,87.95 209.42,84.53 209.8,82.2C210.18,79.87 210.05,77.62 210.1,76.7" fill="none" stroke="#30b2ea" stroke-width="16" stroke-linecap="round" stroke-linejoin="round" opacity="0.95" filter="url(#b3)"/><path d="M181.8,110.4C182.88,110.07 186.08,108.88 188.3,108.4C190.52,107.92 193.1,108.23 195.1,107.5C197.1,106.77 198.77,105.47 200.3,104C201.83,102.53 203.05,100.92 204.3,98.7C205.55,96.48 206.88,93.45 207.8,90.7C208.72,87.95 209.42,84.53 209.8,82.2C210.18,79.87 210.05,77.62 210.1,76.7" fill="none" stroke="#5cc64c" stroke-width="9" stroke-linecap="round" stroke-linejoin="round" filter="url(#b4)"/><ellipse cx="210.3" cy="85.2" rx="9" ry="13" fill="#30b2ea" opacity="0.9" filter="url(#b3)" transform="rotate(8 210.3 85.2)"/><ellipse cx="210.3" cy="85.2" rx="6.2" ry="10.5" fill="#5cc64c" filter="url(#b4)" transform="rotate(8 210.3 85.2)"/><ellipse cx="210.3" cy="85.2" rx="3.5" ry="7.5" fill="#86d04a" opacity="0.8" filter="url(#b7)" transform="rotate(8 210.3 85.2)"/><path d="M167.8,92.2C168.47,88.4 171.1,88.4 171.8,92.2C172.5,96 172.67,111.2 172,115C171.33,118.8 168.5,118.8 167.8,115C167.1,111.2 167.13,96 167.8,92.2Z" fill="#3ab0e0" opacity="0.7" filter="url(#b7)"/><ellipse cx="204.1" cy="99.8" rx="3.6" ry="1.9" fill="#f0e63a" filter="url(#b6)" transform="rotate(-35 204.1 99.8)"/><ellipse cx="194.9" cy="107.5" rx="4.2" ry="2.8" fill="#f2c830" filter="url(#b7)"/><ellipse cx="194.9" cy="107.5" rx="3" ry="2" fill="#e8402a"/><ellipse cx="182.1" cy="110" rx="3.2" ry="2.6" fill="#f2c830" filter="url(#b7)"/><ellipse cx="182.1" cy="110.2" rx="2" ry="1.7" fill="#ec6a2a"/></g>
<rect x="167.3" y="26.2" width="90" height="90.6" fill="none" stroke="#c8c8c8" stroke-width="0.9"/>
<path d="M167.3,116.8v2.4M170.15,116.8v1.2M173,116.8v1.2M175.85,116.8v1.2M178.7,116.8v1.2M181.55,116.8v1.2M184.4,116.8v2.4M187.25,116.8v1.2M190.1,116.8v1.2M192.95,116.8v1.2M195.8,116.8v1.2M198.65,116.8v1.2M201.5,116.8v2.4M204.35,116.8v1.2M207.2,116.8v1.2M210.05,116.8v1.2M212.9,116.8v1.2M215.75,116.8v1.2M218.6,116.8v2.4M221.45,116.8v1.2M224.3,116.8v1.2M227.15,116.8v1.2M230,116.8v1.2M232.85,116.8v1.2M235.7,116.8v2.4M238.55,116.8v1.2M241.4,116.8v1.2M244.25,116.8v1.2M247.1,116.8v1.2M249.95,116.8v1.2M252.8,116.8v2.4M167.3,30.4h-2.4M167.3,33.82h-1.2M167.3,37.24h-1.2M167.3,40.66h-1.2M167.3,44.08h-1.2M167.3,47.5h-2.4M167.3,50.92h-1.2M167.3,54.34h-1.2M167.3,57.76h-1.2M167.3,61.18h-1.2M167.3,64.6h-2.4M167.3,68.02h-1.2M167.3,71.44h-1.2M167.3,74.86h-1.2M167.3,78.28h-1.2M167.3,81.7h-2.4M167.3,85.12h-1.2M167.3,88.54h-1.2M167.3,91.96h-1.2M167.3,95.38h-1.2M167.3,98.8h-2.4M167.3,102.22h-1.2M167.3,105.64h-1.2M167.3,109.06h-1.2M167.3,112.48h-1.2M167.3,115.9h-2.4" stroke="#444" stroke-width="0.8" fill="none"/>
<text x="211.8" y="131.7" font-size="10.5" font-family="Liberation Sans, sans-serif" fill="#2b2b2b" text-anchor="middle" font-weight="bold" textLength="19.2" lengthAdjust="spacingAndGlyphs" stroke="#2b2b2b" stroke-width="0.1">FSC-A</text>
<text x="152.5" y="71.2" font-size="10.5" font-family="Liberation Sans, sans-serif" fill="#2b2b2b" text-anchor="middle" font-weight="bold" textLength="20" lengthAdjust="spacingAndGlyphs" transform="rotate(-90 152.5 71.2)" stroke="#2b2b2b" stroke-width="0.1">SSC-A</text>
<g clip-path="url(#c11)"><g filter="url(#dz)"><path d="M165.2,173.2C167.03,164.53 172.37,171.37 176.2,171.2C180.03,171.03 184.53,171.28 188.2,172.2C191.87,173.12 195.53,175.78 198.2,176.7C200.87,177.62 202.65,176.77 204.2,177.7C205.75,178.63 205.8,180.37 207.5,182.3C209.2,184.24 212.28,187.25 214.4,189.3C216.52,191.34 218.27,192.91 220.2,194.57C222.13,196.23 224.08,197.88 226,199.25C227.92,200.63 229.78,201.75 231.7,202.83C233.62,203.9 235.57,204.83 237.5,205.7C239.43,206.58 241.38,207.37 243.3,208.08C245.22,208.79 246.9,209.35 249,209.96C251.1,210.57 254.12,211.34 255.9,211.75C257.68,212.16 259.07,212.22 259.7,212.4C260.33,212.58 263,212.53 259.7,212.8C256.4,213.07 249.6,213.53 239.9,214C230.2,214.47 212.4,215.12 201.5,215.6C190.6,216.08 179.63,216.03 174.5,216.9C169.37,217.77 172.25,219.75 170.7,220.8C169.15,221.85 166.12,231.13 165.2,223.2C164.28,215.27 163.37,181.87 165.2,173.2Z" fill="#000" opacity="0.1"/><path d="M165.2,151.2C169.03,147.2 181.87,148.53 188.2,149.2C194.53,149.87 199.87,151.53 203.2,155.2C206.53,158.87 209.03,167.87 208.2,171.2C207.37,174.53 203.2,174.87 198.2,175.2C193.2,175.53 183.7,173.53 178.2,173.2C172.7,172.87 167.37,176.87 165.2,173.2C163.03,169.53 161.37,155.2 165.2,151.2Z" fill="#000" opacity="0.03" filter="url(#b1)"/><path d="M165.2,186.2C167.7,179.7 175.53,184.53 180.2,184.2C184.87,183.87 189.37,184.45 193.2,184.2C197.03,183.95 200.82,183.02 203.2,182.7C205.58,182.38 205.63,181.2 207.5,182.3C209.37,183.4 212.28,187.25 214.4,189.3C216.52,191.34 218.27,192.91 220.2,194.57C222.13,196.23 224.08,197.88 226,199.25C227.92,200.63 229.78,201.75 231.7,202.83C233.62,203.9 235.57,204.83 237.5,205.7C239.43,206.58 241.38,207.37 243.3,208.08C245.22,208.79 246.9,209.35 249,209.96C251.1,210.57 254.12,211.34 255.9,211.75C257.68,212.16 259.07,212.22 259.7,212.4C260.33,212.58 263,212.53 259.7,212.8C256.4,213.07 249.6,213.53 239.9,214C230.2,214.47 212.4,215.12 201.5,215.6C190.6,216.08 179.63,216.03 174.5,216.9C169.37,217.77 172.25,219.75 170.7,220.8C169.15,221.85 166.12,228.97 165.2,223.2C164.28,217.43 162.7,192.7 165.2,186.2Z" fill="#000" opacity="0.32"/><path d="M165.2,197.2C168.03,192.7 176.7,196.62 182.2,196.2C187.7,195.78 193.87,195.2 198.2,194.7C202.53,194.2 205.53,193.7 208.2,193.2C210.87,192.7 212.2,191.47 214.2,191.7C216.2,191.93 218.23,193.31 220.2,194.57C222.17,195.83 224.08,197.88 226,199.25C227.92,200.63 229.78,201.75 231.7,202.83C233.62,203.9 235.57,204.83 237.5,205.7C239.43,206.58 241.38,207.37 243.3,208.08C245.22,208.79 246.9,209.35 249,209.96C251.1,210.57 254.12,211.34 255.9,211.75C257.68,212.16 259.07,212.22 259.7,212.4C260.33,212.58 263,212.53 259.7,212.8C256.4,213.07 249.6,213.53 239.9,214C230.2,214.47 212.4,215.12 201.5,215.6C190.6,216.08 179.63,216.03 174.5,216.9C169.37,217.77 172.25,219.75 170.7,220.8C169.15,221.85 166.12,227.13 165.2,223.2C164.28,219.27 162.37,201.7 165.2,197.2Z" fill="#000" opacity="0.97"/></g></g>
<g clip-path="url(#c12)"><path d="M165.2,200.2C169.03,197.2 181.03,199.7 188.2,199.2C195.37,198.7 202.87,197.28 208.2,197.2C213.53,197.12 216.53,197.78 220.2,198.7C223.87,199.62 226.87,201.45 230.2,202.7C233.53,203.95 235.87,204.87 240.2,206.2C244.53,207.53 256.2,209.53 256.2,210.7C256.2,211.87 248.2,212.53 240.2,213.2C232.2,213.87 218.53,214.37 208.2,214.7C197.87,215.03 185.37,214.78 178.2,215.2C171.03,215.62 167.37,219.7 165.2,217.2C163.03,214.7 161.37,203.2 165.2,200.2Z" fill="#26227e" opacity="0.75" filter="url(#b4)"/><path d="M168.7,205.4C169.62,204.95 172.45,205.42 174.2,205.7C175.95,205.98 179.2,206.63 179.2,207.1C179.2,207.57 175.95,208.28 174.2,208.5C172.45,208.72 169.62,208.92 168.7,208.4C167.78,207.88 167.78,205.85 168.7,205.4Z" fill="#4a8ad0" opacity="0.55" filter="url(#b5)"/><path d="M177.2,210.9C180.7,210.4 189.7,210.52 198.2,210.4C206.7,210.28 220.53,210.13 228.2,210.2C235.87,210.27 240.87,210.57 244.2,210.8C247.53,211.03 250.87,211.22 248.2,211.6C245.53,211.98 236.53,212.8 228.2,213.1C219.87,213.4 206.7,213.35 198.2,213.4C189.7,213.45 180.7,213.82 177.2,213.4C173.7,212.98 173.7,211.4 177.2,210.9Z" fill="#3aaed0" opacity="0.9"/><path d="M181.2,211.4C184.03,211.1 192.03,211.08 198.2,211C204.37,210.92 212.53,210.83 218.2,210.9C223.87,210.97 232.2,211.1 232.2,211.4C232.2,211.7 223.87,212.45 218.2,212.7C212.53,212.95 204.37,212.88 198.2,212.9C192.03,212.92 184.03,213.05 181.2,212.8C178.37,212.55 178.37,211.7 181.2,211.4Z" fill="#72c652" opacity="0.9"/><ellipse cx="208.2" cy="211.9" rx="7" ry="0.7" fill="#c8dc4c" opacity="0.8"/><path d="M226.2,210.5C228.2,210.15 234.87,210.45 238.2,210.6C241.53,210.75 246.2,211.08 246.2,211.4C246.2,211.72 241.53,212.28 238.2,212.5C234.87,212.72 228.2,213.03 226.2,212.7C224.2,212.37 224.2,210.85 226.2,210.5Z" fill="#b85aa8" opacity="0.6"/><path d="M176.2,213.9L244.2,212.9" stroke="#c03a98" stroke-width="0.9" opacity="0.75"/><path d="M218.2,204.3C220.2,204.03 226.53,204.23 230.2,204.4C233.87,204.57 237.53,204.95 240.2,205.3C242.87,205.65 246.53,206.25 246.2,206.5C245.87,206.75 241.2,206.8 238.2,206.8C235.2,206.8 231.53,206.63 228.2,206.5C224.87,206.37 219.87,206.37 218.2,206C216.53,205.63 216.2,204.57 218.2,204.3Z" fill="#58b2e6" opacity="0.8" filter="url(#b6)"/><path d="M214.4,189.3C215.37,190.18 218.27,192.91 220.2,194.57C222.13,196.23 224.08,197.88 226,199.25C227.92,200.63 229.78,201.75 231.7,202.83C233.62,203.9 235.57,204.83 237.5,205.7C239.43,206.58 241.38,207.37 243.3,208.08C245.22,208.79 246.9,209.35 249,209.96C251.1,210.57 254.12,211.34 255.9,211.75C257.68,212.16 259.07,212.29 259.7,212.4" fill="none" stroke="#22207a" stroke-width="0.9" opacity="0.75"/></g>
<rect x="168.2" y="143.2" width="90" height="90.6" fill="none" stroke="#c8c8c8" stroke-width="0.9"/>
<path d="M168.2,233.8v2.4M171.05,233.8v1.2M173.9,233.8v1.2M176.75,233.8v1.2M179.6,233.8v1.2M182.45,233.8v1.2M185.3,233.8v2.4M188.15,233.8v1.2M191,233.8v1.2M193.85,233.8v1.2M196.7,233.8v1.2M199.55,233.8v1.2M202.4,233.8v2.4M205.25,233.8v1.2M208.1,233.8v1.2M210.95,233.8v1.2M213.8,233.8v1.2M216.65,233.8v1.2M219.5,233.8v2.4M222.35,233.8v1.2M225.2,233.8v1.2M228.05,233.8v1.2M230.9,233.8v1.2M233.75,233.8v1.2M236.6,233.8v2.4M239.45,233.8v1.2M242.3,233.8v1.2M245.15,233.8v1.2M248,233.8v1.2M250.85,233.8v1.2M253.7,233.8v2.4M168.2,147.4h-2.4M168.2,150.82h-1.2M168.2,154.24h-1.2M168.2,157.66h-1.2M168.2,161.08h-1.2M168.2,164.5h-2.4M168.2,167.92h-1.2M168.2,171.34h-1.2M168.2,174.76h-1.2M168.2,178.18h-1.2M168.2,181.6h-2.4M168.2,185.02h-1.2M168.2,188.44h-1.2M168.2,191.86h-1.2M168.2,195.28h-1.2M168.2,198.7h-2.4M168.2,202.12h-1.2M168.2,205.54h-1.2M168.2,208.96h-1.2M168.2,212.38h-1.2M168.2,215.8h-2.4M168.2,219.22h-1.2M168.2,222.64h-1.2M168.2,226.06h-1.2M168.2,229.48h-1.2M168.2,232.9h-2.4" stroke="#444" stroke-width="0.8" fill="none"/>
<text x="224.5" y="225.4" font-size="9" font-family="Liberation Sans, sans-serif" fill="#262626" text-anchor="middle" textLength="16.2" lengthAdjust="spacingAndGlyphs" stroke="#262626" stroke-width="0.15">80.6</text>
<text x="211.5" y="249.8" font-size="10.5" font-family="Liberation Sans, sans-serif" fill="#2b2b2b" text-anchor="middle" font-weight="bold" textLength="19.6" lengthAdjust="spacingAndGlyphs" stroke="#2b2b2b" stroke-width="0.1">FSC-H</text>
<text x="152.5" y="188.1" font-size="10.5" font-family="Liberation Sans, sans-serif" fill="#2b2b2b" text-anchor="middle" font-weight="bold" textLength="21.5" lengthAdjust="spacingAndGlyphs" transform="rotate(-90 152.5 188.1)" stroke="#2b2b2b" stroke-width="0.1">FSC-W</text>
<g clip-path="url(#c13)"><g filter="url(#dz)"><path d="M164.3,302.5C165.07,298.08 166.73,303.33 168.9,304C171.07,304.67 174.23,305.58 177.3,306.5C180.37,307.42 183.25,308.33 187.3,309.5C191.35,310.67 196.02,312.08 201.6,313.5C207.18,314.92 214.4,316.58 220.8,318C227.2,319.42 234.17,320.62 240,322C245.83,323.38 255.8,325.22 255.8,326.3C255.8,327.38 249.03,328.03 240,328.5C230.97,328.97 214.22,328.77 201.6,329.1C188.98,329.43 170.52,334.93 164.3,330.5C158.08,326.07 163.53,306.92 164.3,302.5Z" fill="#000" opacity="0.2" filter="url(#b8)"/><path d="M164.3,288.5C167.3,285.83 175.97,288.83 182.3,290.5C188.63,292.17 196.47,295.83 202.3,298.5C208.13,301.17 216.47,304.17 217.3,306.5C218.13,308.83 213.13,312.17 207.3,312.5C201.47,312.83 189.47,309.5 182.3,308.5C175.13,307.5 167.3,309.83 164.3,306.5C161.3,303.17 161.3,291.17 164.3,288.5Z" fill="#000" opacity="0.07" filter="url(#b1)"/><path d="M164.3,312.5C167.3,310 176.08,314.5 182.3,315.5C188.52,316.5 195.18,317.58 201.6,318.5C208.02,319.42 214.4,320.17 220.8,321C227.2,321.83 234.17,322.58 240,323.5C245.83,324.42 255.8,325.67 255.8,326.5C255.8,327.33 249.03,328.07 240,328.5C230.97,328.93 214.22,328.77 201.6,329.1C188.98,329.43 170.52,333.27 164.3,330.5C158.08,327.73 161.3,315 164.3,312.5Z" fill="#000" opacity="0.35" filter="url(#b7)"/><path d="M164.3,323.3C170.52,322.17 192.18,323.13 201.6,323.3C211.02,323.47 214.4,324.1 220.8,324.3C227.2,324.5 234.07,324.02 240,324.5C245.93,324.98 256.4,326.53 256.4,327.2C256.4,327.87 249.13,328.18 240,328.5C230.87,328.82 214.22,328.83 201.6,329.1C188.98,329.37 170.52,331.07 164.3,330.1C158.08,329.13 158.08,324.43 164.3,323.3Z" fill="#000" filter="url(#b9)"/></g></g>
<g clip-path="url(#c14)"><path d="M164.3,324C170.52,323.1 191.1,323.93 201.6,324.1C212.1,324.27 218.68,324.5 227.3,325C235.92,325.5 253.3,326.58 253.3,327.1C253.3,327.62 235.92,327.82 227.3,328.1C218.68,328.38 212.1,328.57 201.6,328.8C191.1,329.03 170.52,330.3 164.3,329.5C158.08,328.7 158.08,324.9 164.3,324Z" fill="#26227e" opacity="0.7" filter="url(#b6)"/><path d="M169.3,326C172.3,325.67 180.97,325.7 187.3,325.7C193.63,325.7 201.97,325.83 207.3,326C212.63,326.17 219.3,326.47 219.3,326.7C219.3,326.93 212.63,327.25 207.3,327.4C201.97,327.55 193.63,327.55 187.3,327.6C180.97,327.65 172.3,327.97 169.3,327.7C166.3,327.43 166.3,326.33 169.3,326Z" fill="#36aacc" opacity="0.9" filter="url(#b10)"/><ellipse cx="181.3" cy="326.8" rx="9" ry="0.65" fill="#a8d448" opacity="0.9" filter="url(#b11)"/><path d="M169.3,328.8L227.3,328.3" stroke="#b02890" stroke-width="0.6" opacity="0.6"/></g>
<rect x="167.3" y="260.5" width="90" height="90.6" fill="none" stroke="#c8c8c8" stroke-width="0.9"/>
<path d="M167.3,351.1v2.4M170.15,351.1v1.2M173,351.1v1.2M175.85,351.1v1.2M178.7,351.1v1.2M181.55,351.1v1.2M184.4,351.1v2.4M187.25,351.1v1.2M190.1,351.1v1.2M192.95,351.1v1.2M195.8,351.1v1.2M198.65,351.1v1.2M201.5,351.1v2.4M204.35,351.1v1.2M207.2,351.1v1.2M210.05,351.1v1.2M212.9,351.1v1.2M215.75,351.1v1.2M218.6,351.1v2.4M221.45,351.1v1.2M224.3,351.1v1.2M227.15,351.1v1.2M230,351.1v1.2M232.85,351.1v1.2M235.7,351.1v2.4M238.55,351.1v1.2M241.4,351.1v1.2M244.25,351.1v1.2M247.1,351.1v1.2M249.95,351.1v1.2M252.8,351.1v2.4M167.3,264.7h-2.4M167.3,268.12h-1.2M167.3,271.54h-1.2M167.3,274.96h-1.2M167.3,278.38h-1.2M167.3,281.8h-2.4M167.3,285.22h-1.2M167.3,288.64h-1.2M167.3,292.06h-1.2M167.3,295.48h-1.2M167.3,298.9h-2.4M167.3,302.32h-1.2M167.3,305.74h-1.2M167.3,309.16h-1.2M167.3,312.58h-1.2M167.3,316h-2.4M167.3,319.42h-1.2M167.3,322.84h-1.2M167.3,326.26h-1.2M167.3,329.68h-1.2M167.3,333.1h-2.4M167.3,336.52h-1.2M167.3,339.94h-1.2M167.3,343.36h-1.2M167.3,346.78h-1.2M167.3,350.2h-2.4" stroke="#444" stroke-width="0.8" fill="none"/>
<text x="209.3" y="337.8" font-size="9" font-family="Liberation Sans, sans-serif" fill="#262626" text-anchor="middle" textLength="17" lengthAdjust="spacingAndGlyphs" stroke="#262626" stroke-width="0.15">94.2</text>
<text x="211.6" y="368" font-size="10.5" font-family="Liberation Sans, sans-serif" fill="#2b2b2b" text-anchor="middle" font-weight="bold" textLength="19.6" lengthAdjust="spacingAndGlyphs" stroke="#2b2b2b" stroke-width="0.1">SSC-H</text>
<text x="152.5" y="305.1" font-size="10.5" font-family="Liberation Sans, sans-serif" fill="#2b2b2b" text-anchor="middle" font-weight="bold" textLength="21" lengthAdjust="spacingAndGlyphs" transform="rotate(-90 152.5 305.1)" stroke="#2b2b2b" stroke-width="0.1">SSC-W</text>
<g clip-path="url(#c15)"><path d="M184.1,444.2C184.1,443.47 184.2,442.43 184.7,442C185.2,441.57 184.87,441.62 187.1,441.6C189.33,441.58 194.6,441.75 198.1,441.9C201.6,442.05 205.2,442.22 208.1,442.5C211,442.78 214.13,443.33 215.5,443.6C216.87,443.87 216.3,443.93 216.3,444.1C216.3,444.27 216.87,444.37 215.5,444.6C214.13,444.83 211,445.23 208.1,445.5C205.2,445.77 201.6,446 198.1,446.2C194.6,446.4 189.33,446.67 187.1,446.7C184.87,446.73 185.2,446.82 184.7,446.4C184.2,445.98 184.1,444.93 184.1,444.2Z" fill="#2a2486"/><path d="M184.1,444.2C184.1,443.47 184.2,442.43 184.7,442C185.2,441.57 184.87,441.62 187.1,441.6C189.33,441.58 194.6,441.75 198.1,441.9C201.6,442.05 205.2,442.22 208.1,442.5C211,442.78 214.13,443.33 215.5,443.6C216.87,443.87 216.3,443.93 216.3,444.1C216.3,444.27 216.87,444.37 215.5,444.6C214.13,444.83 211,445.23 208.1,445.5C205.2,445.77 201.6,446 198.1,446.2C194.6,446.4 189.33,446.67 187.1,446.7C184.87,446.73 185.2,446.82 184.7,446.4C184.2,445.98 184.1,444.93 184.1,444.2Z" fill="none" stroke="#1c1850" stroke-width="0.8"/><path d="M185.6,444C185.6,443.6 185.68,442.98 186.6,442.8C187.52,442.62 190.02,442.73 191.1,442.9C192.18,443.07 193.1,443.45 193.1,443.8C193.1,444.15 192.18,444.77 191.1,445C190.02,445.23 187.52,445.37 186.6,445.2C185.68,445.03 185.6,444.4 185.6,444Z" fill="#c4c8d6" opacity="0.95"/><path d="M193.1,443.3C195.27,443.08 203.93,443.38 206.1,443.6C208.27,443.82 208.27,444.38 206.1,444.6C203.93,444.82 195.27,445.12 193.1,444.9C190.93,444.68 190.93,443.52 193.1,443.3Z" fill="#4840b0" opacity="0.8"/><rect x="214.5" y="443.87" width="1.2" height="1" fill="#9a9cc8" opacity="0.76"/><rect x="216.37" y="443.47" width="1.2" height="1" fill="#9a9cc8" opacity="0.5"/><rect x="217.77" y="443.63" width="1.2" height="1" fill="#9a9cc8" opacity="0.82"/><rect x="219.67" y="444.02" width="1.2" height="1" fill="#9a9cc8" opacity="0.72"/><rect x="221.53" y="443.47" width="1.2" height="1" fill="#9a9cc8" opacity="0.68"/><rect x="222.59" y="444.39" width="1.2" height="1" fill="#9a9cc8" opacity="0.52"/><rect x="224.7" y="443.39" width="1.2" height="1" fill="#9a9cc8" opacity="0.77"/><rect x="226.04" y="443.79" width="1.2" height="1" fill="#9a9cc8" opacity="0.84"/><rect x="226.87" y="443.37" width="1.2" height="1" fill="#9a9cc8" opacity="0.87"/><rect x="228.48" y="443.41" width="1.2" height="1" fill="#9a9cc8" opacity="0.89"/><rect x="230.8" y="443.44" width="1.2" height="1" fill="#9a9cc8" opacity="0.67"/><rect x="231.81" y="443.68" width="1.2" height="1" fill="#9a9cc8" opacity="0.75"/><rect x="232.87" y="444.14" width="1.2" height="1" fill="#9a9cc8" opacity="0.52"/><rect x="233.95" y="444.28" width="1.2" height="1" fill="#9a9cc8" opacity="0.66"/></g>
<rect x="167.3" y="377.5" width="90" height="90.6" fill="none" stroke="#c8c8c8" stroke-width="0.9"/>
<path d="M200.6,468.1v2.4M216.35,468.1v2.4M230.3,468.1v2.4M245.6,468.1v2.4M173.6,468.1v1.2M175.85,468.1v1.2M178.1,468.1v1.2M180.35,468.1v1.2M182.6,468.1v1.2M192.74,468.1v1.2M194.72,468.1v1.2M196.12,468.1v1.2M197.21,468.1v1.2M198.1,468.1v1.2M198.86,468.1v1.2M199.51,468.1v1.2M200.09,468.1v1.2M205.34,468.1v1.2M208.11,468.1v1.2M210.08,468.1v1.2M211.61,468.1v1.2M212.86,468.1v1.2M213.91,468.1v1.2M214.82,468.1v1.2M215.63,468.1v1.2M220.55,468.1v1.2M223.01,468.1v1.2M224.75,468.1v1.2M226.1,468.1v1.2M227.21,468.1v1.2M228.14,468.1v1.2M228.95,468.1v1.2M229.66,468.1v1.2M234.91,468.1v1.2M237.6,468.1v1.2M239.51,468.1v1.2M240.99,468.1v1.2M242.21,468.1v1.2M243.23,468.1v1.2M244.12,468.1v1.2M244.9,468.1v1.2M250.21,468.1v1.2M252.9,468.1v1.2M254.81,468.1v1.2M256.29,468.1v1.2M185.3,468.1v2.4M185.98,468.1v2.4M186.65,468.1v2.4M187.33,468.1v2.4M188,468.1v2.4M188.68,468.1v2.4M189.35,468.1v2.4M167.3,381.7h-2.4M167.3,385.12h-1.2M167.3,388.54h-1.2M167.3,391.96h-1.2M167.3,395.38h-1.2M167.3,398.8h-2.4M167.3,402.22h-1.2M167.3,405.64h-1.2M167.3,409.06h-1.2M167.3,412.48h-1.2M167.3,415.9h-2.4M167.3,419.32h-1.2M167.3,422.74h-1.2M167.3,426.16h-1.2M167.3,429.58h-1.2M167.3,433h-2.4M167.3,436.42h-1.2M167.3,439.84h-1.2M167.3,443.26h-1.2M167.3,446.68h-1.2M167.3,450.1h-2.4M167.3,453.52h-1.2M167.3,456.94h-1.2M167.3,460.36h-1.2M167.3,463.78h-1.2M167.3,467.2h-2.4" stroke="#444" stroke-width="0.8" fill="none"/>
<rect x="216.2" y="377.7" width="40.8" height="90.2" fill="none" stroke="#8cc478" stroke-width="0.9"/>
<text x="236.8" y="425.1" font-size="9" font-family="Liberation Sans, sans-serif" fill="#262626" text-anchor="middle" stroke="#262626" stroke-width="0.15">0.012</text>
<text x="211.2" y="485" font-size="10.5" font-family="Liberation Sans, sans-serif" fill="#2b2b2b" text-anchor="middle" font-weight="bold" textLength="17" lengthAdjust="spacingAndGlyphs" stroke="#2b2b2b" stroke-width="0.1">eGFP</text>
<text x="152.5" y="423" font-size="10.5" font-family="Liberation Sans, sans-serif" fill="#2b2b2b" text-anchor="middle" font-weight="bold" textLength="21" lengthAdjust="spacingAndGlyphs" transform="rotate(-90 152.5 423)" stroke="#2b2b2b" stroke-width="0.1">SSC-W</text>
<g clip-path="url(#c16)"><g filter="url(#dz)"><path d="M164.3,527.2C169.8,522.53 186.63,528.7 197.3,529.2C207.97,529.7 222.88,528.03 228.3,530.2C233.72,532.37 230.13,537.7 229.8,542.2C229.47,546.7 227.88,552.7 226.3,557.2C224.72,561.7 222.3,565.7 220.3,569.2C218.3,572.7 216.8,575.95 214.3,578.2C211.8,580.45 208.47,581.95 205.3,582.7C202.13,583.45 198.63,583.45 195.3,582.7C191.97,581.95 188.63,580.28 185.3,578.2C181.97,576.12 178.3,572.87 175.3,570.2C172.3,567.53 169.13,564.37 167.3,562.2C165.47,560.03 164.8,563.03 164.3,557.2C163.8,551.37 158.8,531.87 164.3,527.2Z" fill="#000" opacity="0.5" filter="url(#b12)"/><ellipse cx="199.3" cy="560.2" rx="12" ry="14" fill="#000" opacity="0.7" filter="url(#b13)"/><path d="M164.3,531.2C168.13,530.2 180.13,531.03 187.3,531.2C194.47,531.37 201.47,531.87 207.3,532.2C213.13,532.53 222.3,532.37 222.3,533.2C222.3,534.03 213.13,536.53 207.3,537.2C201.47,537.87 194.47,537.2 187.3,537.2C180.13,537.2 168.13,538.2 164.3,537.2C160.47,536.2 160.47,532.2 164.3,531.2Z" fill="#000" opacity="0.35" filter="url(#b3)"/><path d="M231.3,531.2C235.97,520.87 254.63,517.53 259.3,527.2C263.97,536.87 263.97,578.87 259.3,589.2C254.63,599.53 235.97,598.87 231.3,589.2C226.63,579.53 226.63,541.53 231.3,531.2Z" fill="#000" opacity="0.04" filter="url(#b1)"/><path d="M164.3,500.2C167.3,494.78 176.08,499.2 182.3,498.7C188.52,498.2 195.77,497.37 201.6,497.2C207.43,497.03 212.68,496.87 217.3,497.7C221.92,498.53 225.13,500.45 229.3,502.2C233.47,503.95 238.3,506.12 242.3,508.2C246.3,510.28 253.3,512.7 253.3,514.7C253.3,516.7 246.63,518.12 242.3,520.2C237.97,522.28 240.3,525.37 227.3,527.2C214.3,529.03 174.8,535.7 164.3,531.2C153.8,526.7 161.3,505.62 164.3,500.2Z" fill="#000" opacity="0.3" filter="url(#b0)"/><path d="M164.3,506.7C167.3,502.45 176.08,505.28 182.3,504.7C188.52,504.12 196.47,503.45 201.6,503.2C206.73,502.95 209.27,502.62 213.1,503.2C216.93,503.78 220.75,505.28 224.6,506.7C228.45,508.12 232.35,510.32 236.2,511.7C240.05,513.08 245.43,514.32 247.7,515C249.97,515.68 249.8,515.5 249.8,515.8C249.8,516.1 249.97,515.78 247.7,516.8C245.43,517.82 240.05,520.1 236.2,521.9C232.35,523.7 228.77,526.3 224.6,527.6C220.43,528.9 216.65,529.18 211.2,529.7C205.75,530.22 199.72,530.62 191.9,530.7C184.08,530.78 168.9,534.2 164.3,530.2C159.7,526.2 161.3,510.95 164.3,506.7Z" fill="#000" opacity="0.95" filter="url(#b7)"/></g></g>
<g clip-path="url(#c17)"><path d="M164.3,509.2C168.13,505.87 179.3,507.7 187.3,507.2C195.3,506.7 205.63,505.78 212.3,506.2C218.97,506.62 222.47,508.2 227.3,509.7C232.13,511.2 241.3,512.95 241.3,515.2C241.3,517.45 232.13,521.2 227.3,523.2C222.47,525.2 218.97,526.37 212.3,527.2C205.63,528.03 195.3,528.2 187.3,528.2C179.3,528.2 168.13,530.37 164.3,527.2C160.47,524.03 160.47,512.53 164.3,509.2Z" fill="#26227e" opacity="0.75" filter="url(#b14)"/><path d="M164.3,516.7C165.63,516.12 169.8,516.53 172.3,516.2C174.8,515.87 177.02,515.17 179.3,514.7C181.58,514.23 183,513.78 186,513.4C189,513.02 193.55,512.67 197.3,512.4C201.05,512.13 204.83,511.87 208.5,511.8C212.17,511.73 216.42,511.85 219.3,512C222.18,512.15 223.8,512.17 225.8,512.7C227.8,513.23 229.8,514.33 231.3,515.2C232.8,516.07 234.8,516.9 234.8,517.9C234.8,518.9 232.8,519.82 231.3,521.2C229.8,522.58 228.13,525.32 225.8,526.2C223.47,527.08 220.18,526.47 217.3,526.5C214.42,526.53 211.83,526.62 208.5,526.4C205.17,526.18 201.05,525.6 197.3,525.2C193.55,524.8 189,524.58 186,524C183,523.42 181.58,522.37 179.3,521.7C177.02,521.03 174.8,520.33 172.3,520C169.8,519.67 165.63,520.25 164.3,519.7C162.97,519.15 162.97,517.28 164.3,516.7Z" fill="#3aaee0" opacity="0.75" filter="url(#b7)"/><path d="M184.3,518.7C184.63,517.67 188.47,516.22 191.3,515.5C194.13,514.78 197.97,514.53 201.3,514.4C204.63,514.27 208.8,514.32 211.3,514.7C213.8,515.08 215.63,515.62 216.3,516.7C216.97,517.78 216.8,520.2 215.3,521.2C213.8,522.2 210.3,522.48 207.3,522.7C204.3,522.92 200.3,522.67 197.3,522.5C194.3,522.33 191.47,522.33 189.3,521.7C187.13,521.07 183.97,519.73 184.3,518.7Z" fill="#5ec44c" opacity="0.95" filter="url(#b6)"/><path d="M210.3,514.4C210.3,513.7 214.3,512.93 216.3,512.6C218.3,512.27 220.72,512.2 222.3,512.4C223.88,512.6 225.63,513.2 225.8,513.8C225.97,514.4 224.88,515.5 223.3,516C221.72,516.5 218.47,517.07 216.3,516.8C214.13,516.53 210.3,515.1 210.3,514.4Z" fill="#5ec44c" opacity="0.95" filter="url(#b6)"/><path d="M212.3,521.7C213.13,521 216.3,520.22 218.3,520C220.3,519.78 222.88,519.9 224.3,520.4C225.72,520.9 226.8,522.1 226.8,523C226.8,523.9 225.88,525.3 224.3,525.8C222.72,526.3 219.13,526.27 217.3,526C215.47,525.73 214.13,524.92 213.3,524.2C212.47,523.48 211.47,522.4 212.3,521.7Z" fill="#5ec44c" opacity="0.95" filter="url(#b6)"/><ellipse cx="222.3" cy="518.4" rx="3.6" ry="1.1" fill="#2f58b8" opacity="0.7" filter="url(#b6)"/><ellipse cx="201.5" cy="518.1" rx="5.4" ry="1.7" fill="#d4e444" filter="url(#b6)"/><ellipse cx="218.8" cy="514.4" rx="3" ry="1.3" fill="#d4e444" filter="url(#b6)"/><ellipse cx="221.4" cy="523.1" rx="2.6" ry="1.5" fill="#d4e444" filter="url(#b6)"/></g>
<rect x="167.3" y="497.2" width="90" height="90.6" fill="none" stroke="#c8c8c8" stroke-width="0.9"/>
<path d="M186.2,587.8v2.4M207.8,587.8v2.4M228.5,587.8v2.4M247.4,587.8v2.4M177.71,587.8v1.2M179.85,587.8v1.2M181.37,587.8v1.2M182.54,587.8v1.2M183.5,587.8v1.2M184.32,587.8v1.2M185.02,587.8v1.2M185.64,587.8v1.2M192.7,587.8v1.2M196.51,587.8v1.2M199.2,587.8v1.2M201.3,587.8v1.2M203.01,587.8v1.2M204.45,587.8v1.2M205.71,587.8v1.2M206.81,587.8v1.2M214.03,587.8v1.2M217.68,587.8v1.2M220.26,587.8v1.2M222.27,587.8v1.2M223.91,587.8v1.2M225.29,587.8v1.2M226.49,587.8v1.2M227.55,587.8v1.2M234.19,587.8v1.2M237.52,587.8v1.2M239.88,587.8v1.2M241.71,587.8v1.2M243.21,587.8v1.2M244.47,587.8v1.2M245.57,587.8v1.2M246.54,587.8v1.2M253.09,587.8v1.2M256.42,587.8v1.2M170,587.8v2.4M170.68,587.8v2.4M171.35,587.8v2.4M172.03,587.8v2.4M172.7,587.8v2.4M173.38,587.8v2.4M174.05,587.8v2.4M167.3,504.18h-2.4M167.3,521.66h-2.4M167.3,539.78h-2.4M167.3,558.81h-2.4M167.3,516.4h-1.2M167.3,513.32h-1.2M167.3,511.13h-1.2M167.3,509.44h-1.2M167.3,508.06h-1.2M167.3,506.88h-1.2M167.3,505.87h-1.2M167.3,504.98h-1.2M167.3,534.33h-1.2M167.3,531.14h-1.2M167.3,528.87h-1.2M167.3,527.12h-1.2M167.3,525.68h-1.2M167.3,524.47h-1.2M167.3,523.42h-1.2M167.3,522.49h-1.2M167.3,553.08h-1.2M167.3,549.73h-1.2M167.3,547.35h-1.2M167.3,545.51h-1.2M167.3,544h-1.2M167.3,542.73h-1.2M167.3,541.63h-1.2M167.3,540.65h-1.2M167.3,563.56h-1.2M167.3,562.36h-1.2M167.3,561.51h-1.2M167.3,560.85h-1.2M167.3,560.32h-1.2M167.3,559.86h-1.2M167.3,559.47h-1.2M167.3,559.12h-1.2M167.3,565.15h-2.4M167.3,565.53h-2.4M167.3,565.9h-2.4M167.3,566.28h-2.4M167.3,566.66h-2.4M167.3,567.04h-2.4M167.3,567.41h-2.4M167.3,571.49h-1.2M167.3,576.02h-1.2M167.3,580.55h-1.2M167.3,585.08h-1.2" stroke="#444" stroke-width="0.8" fill="none"/>
<path d="M228.8,533.4 235.6,527.6 257,527.6 257,587.6 228.8,587.6Z" fill="none" stroke="#a862a6" stroke-width="0.85"/>
<text x="242.9" y="565.8" font-size="9" font-family="Liberation Sans, sans-serif" fill="#262626" text-anchor="middle" stroke="#262626" stroke-width="0.15">0.065</text>
<text x="210.9" y="604.4" font-size="10.5" font-family="Liberation Sans, sans-serif" fill="#2b2b2b" text-anchor="middle" font-weight="bold" textLength="16.7" lengthAdjust="spacingAndGlyphs" stroke="#2b2b2b" stroke-width="0.1">CD31</text>
<text x="152.5" y="541.2" font-size="9.6" font-family="Liberation Sans, sans-serif" fill="#2b2b2b" text-anchor="middle" font-weight="bold" textLength="46.5" lengthAdjust="spacingAndGlyphs" transform="rotate(-90 152.5 541.2)" stroke="#2b2b2b" stroke-width="0.1">CD45 / Ter-119</text>
<path d="M182.9,706.2C183.22,701.71 184.1,690.31 184.8,679.27C185.5,668.22 186.4,643.13 187.1,639.94C187.8,636.75 188.42,654.52 189,660.12C189.58,665.72 190.02,670.66 190.6,673.54C191.18,676.42 191.87,674.82 192.5,677.39C193.13,679.95 193.75,686.04 194.4,688.93C195.05,691.82 195.6,693.95 196.4,694.74C197.2,695.54 198.08,693.4 199.2,693.72C200.32,694.03 201.82,695.34 203.1,696.62C204.38,697.91 205.3,700.93 206.9,701.41C208.5,701.9 211.25,699.53 212.7,699.53C214.15,699.53 214.32,700.79 215.6,701.41C216.88,702.04 218.63,702.98 220.4,703.29C222.17,703.61 224.6,703.61 226.2,703.29C227.8,702.98 228.72,701.41 230,701.41C231.28,701.41 232.45,702.5 233.9,703.29C235.35,704.09 237.9,705.72 238.7,706.2L238.7,706.2L182.9,706.2Z" fill="#cde8bf"/>
<path d="M182.9,706.2C183.22,701.71 184.1,690.31 184.8,679.27C185.5,668.22 186.4,643.13 187.1,639.94C187.8,636.75 188.42,654.52 189,660.12C189.58,665.72 190.02,670.66 190.6,673.54C191.18,676.42 191.87,674.82 192.5,677.39C193.13,679.95 193.75,686.04 194.4,688.93C195.05,691.82 195.6,693.95 196.4,694.74C197.2,695.54 198.08,693.4 199.2,693.72C200.32,694.03 201.82,695.34 203.1,696.62C204.38,697.91 205.3,700.93 206.9,701.41C208.5,701.9 211.25,699.53 212.7,699.53C214.15,699.53 214.32,700.79 215.6,701.41C216.88,702.04 218.63,702.98 220.4,703.29C222.17,703.61 224.6,703.61 226.2,703.29C227.8,702.98 228.72,701.41 230,701.41C231.28,701.41 232.45,702.5 233.9,703.29C235.35,704.09 237.9,705.72 238.7,706.2" fill="none" stroke="#4ea240" stroke-width="1.05" stroke-linejoin="round"/>
<path d="M166.9,705.8H256.9" stroke="#56ad46" stroke-width="0.9"/>
<rect x="166.9" y="616.2" width="90" height="90" fill="none" stroke="#161616" stroke-width="1.3"/>
<path d="M200.2,706.2v2.4M215.95,706.2v2.4M229.9,706.2v2.4M245.2,706.2v2.4M173.2,706.2v1.2M175.45,706.2v1.2M177.7,706.2v1.2M179.95,706.2v1.2M182.2,706.2v1.2M192.34,706.2v1.2M194.32,706.2v1.2M195.72,706.2v1.2M196.81,706.2v1.2M197.7,706.2v1.2M198.46,706.2v1.2M199.11,706.2v1.2M199.69,706.2v1.2M204.94,706.2v1.2M207.71,706.2v1.2M209.68,706.2v1.2M211.21,706.2v1.2M212.46,706.2v1.2M213.51,706.2v1.2M214.42,706.2v1.2M215.23,706.2v1.2M220.15,706.2v1.2M222.61,706.2v1.2M224.35,706.2v1.2M225.7,706.2v1.2M226.81,706.2v1.2M227.74,706.2v1.2M228.55,706.2v1.2M229.26,706.2v1.2M234.51,706.2v1.2M237.2,706.2v1.2M239.11,706.2v1.2M240.59,706.2v1.2M241.81,706.2v1.2M242.83,706.2v1.2M243.72,706.2v1.2M244.5,706.2v1.2M249.81,706.2v1.2M252.5,706.2v1.2M254.41,706.2v1.2M255.89,706.2v1.2M184.9,706.2v2.4M185.58,706.2v2.4M186.25,706.2v2.4M186.93,706.2v2.4M187.6,706.2v2.4M188.28,706.2v2.4M188.95,706.2v2.4M166.9,620.7h-2.6M166.9,624.98h-1.3M166.9,629.25h-1.3M166.9,633.53h-1.3M166.9,637.8h-2.6M166.9,642.08h-1.3M166.9,646.35h-1.3M166.9,650.63h-1.3M166.9,654.9h-2.6M166.9,659.18h-1.3M166.9,663.45h-1.3M166.9,667.73h-1.3M166.9,672h-2.6M166.9,676.27h-1.3M166.9,680.55h-1.3M166.9,684.83h-1.3M166.9,689.1h-2.6M166.9,693.38h-1.3M166.9,697.65h-1.3M166.9,701.93h-1.3M166.9,706.2h-2.6" stroke="#333" stroke-width="0.8" fill="none"/>
<text x="161" y="623.7" font-size="8.6" font-family="Liberation Sans, sans-serif" fill="#2a2a2a" text-anchor="end">100</text>
<text x="161" y="640.8" font-size="8.6" font-family="Liberation Sans, sans-serif" fill="#2a2a2a" text-anchor="end">80</text>
<text x="161" y="657.9" font-size="8.6" font-family="Liberation Sans, sans-serif" fill="#2a2a2a" text-anchor="end">60</text>
<text x="161" y="675" font-size="8.6" font-family="Liberation Sans, sans-serif" fill="#2a2a2a" text-anchor="end">40</text>
<text x="161" y="692.1" font-size="8.6" font-family="Liberation Sans, sans-serif" fill="#2a2a2a" text-anchor="end">20</text>
<text x="161" y="709.2" font-size="8.6" font-family="Liberation Sans, sans-serif" fill="#2a2a2a" text-anchor="end">0</text>
<path d="M216.2,658.5H245.8M216.2,657.1v2.8M245.8,657.1v2.8" stroke="#6a6a6a" stroke-width="0.9" fill="none"/>
<text x="231.2" y="651.9" font-size="9" font-family="Liberation Sans, sans-serif" fill="#262626" text-anchor="middle" stroke="#262626" stroke-width="0.15">8.78</text>
<text x="210.7" y="719.6" font-size="10.5" font-family="Liberation Sans, sans-serif" fill="#2b2b2b" text-anchor="middle" font-weight="bold" textLength="17" lengthAdjust="spacingAndGlyphs" stroke="#2b2b2b" stroke-width="0.1">eGFP</text>
<text x="141.8" y="661.5" font-size="9.5" font-family="Liberation Sans, sans-serif" fill="#2b2b2b" text-anchor="middle" font-weight="bold" textLength="61.8" lengthAdjust="spacingAndGlyphs" transform="rotate(-90 141.8 661.5)" stroke="#2b2b2b" stroke-width="0.1">Normalized to mode</text>
<g clip-path="url(#c18)"><g filter="url(#dz)"><path d="M291.4,23.2C307.4,7.2 371.4,13.03 387.4,23.2C403.4,33.37 387.97,73.45 387.4,84.2C386.83,94.95 385.13,86.2 384,87.7C382.87,89.2 382.13,91.33 380.6,93.2C379.07,95.07 377.05,96.98 374.8,98.9C372.55,100.82 369.98,102.93 367.1,104.7C364.22,106.47 360.7,108.07 357.5,109.5C354.3,110.93 351.1,112.27 347.9,113.3C344.7,114.33 340.88,114.72 338.3,115.7C335.72,116.68 340.22,118.62 332.4,119.2C324.58,119.78 298.23,135.2 291.4,119.2C284.57,103.2 275.4,39.2 291.4,23.2Z" fill="#000" opacity="0.05" filter="url(#b0)"/><path d="M291.4,23.2C307.4,7.2 371.4,14.37 387.4,23.2C403.4,32.03 388.28,66.73 387.4,76.2C386.52,85.67 384.42,78.17 382.1,80C379.78,81.83 376.87,84.8 373.5,87.2C370.13,89.6 366,92 361.9,94.4C357.8,96.8 353.23,99.18 348.9,101.6C344.57,104.02 340.22,106.97 335.9,108.9C331.58,110.83 326.58,112.07 323,113.2C319.42,114.33 317.5,114.7 314.4,115.7C311.3,116.7 308.23,118.62 304.4,119.2C300.57,119.78 293.57,135.2 291.4,119.2C289.23,103.2 275.4,39.2 291.4,23.2Z" fill="#000" opacity="0.18"/><path d="M321.4,23.2C332.23,19.37 376.4,14.03 387.4,23.2C398.4,32.37 389.57,67.53 387.4,78.2C385.23,88.87 378.57,84.53 374.4,87.2C370.23,89.87 367.07,91.53 362.4,94.2C357.73,96.87 351.07,100.7 346.4,103.2C341.73,105.7 338.9,107.37 334.4,109.2C329.9,111.03 326.57,112.7 319.4,114.2C312.23,115.7 296.07,119.87 291.4,118.2C286.73,116.53 289.23,107.53 291.4,104.2C293.57,100.87 300.57,101.2 304.4,98.2C308.23,95.2 311.73,91.2 314.4,86.2C317.07,81.2 319.07,74.87 320.4,68.2C321.73,61.53 322.23,53.7 322.4,46.2C322.57,38.7 310.57,27.03 321.4,23.2Z" fill="#000" opacity="0.36" filter="url(#b1)"/><path d="M324.4,40.2C327.73,34.03 335.73,34.53 342.4,34.2C349.07,33.87 358.07,34.87 364.4,38.2C370.73,41.53 377.4,48.7 380.4,54.2C383.4,59.7 384.07,66.2 382.4,71.2C380.73,76.2 375.07,80.37 370.4,84.2C365.73,88.03 360.07,90.53 354.4,94.2C348.73,97.87 341.4,105.2 336.4,106.2C331.4,107.2 326.73,106.03 324.4,100.2C322.07,94.37 322.4,81.2 322.4,71.2C322.4,61.2 321.07,46.37 324.4,40.2Z" fill="#000" opacity="0.55" filter="url(#b2)"/><path d="M291.4,88.2C293.23,83.87 299.57,89.87 302.4,92.2C305.23,94.53 308.07,98.53 308.4,102.2C308.73,105.87 307.23,111.53 304.4,114.2C301.57,116.87 293.57,122.53 291.4,118.2C289.23,113.87 289.57,92.53 291.4,88.2Z" fill="#000" opacity="0.5" filter="url(#b1)"/></g></g>
<g clip-path="url(#c19)"><path d="M326.4,48.2C330.4,42.87 341.73,42.87 349.4,44.2C357.07,45.53 367.9,51.2 372.4,56.2C376.9,61.2 378.07,68.53 376.4,74.2C374.73,79.87 367.73,85.87 362.4,90.2C357.07,94.53 349.73,98.87 344.4,100.2C339.07,101.53 333.57,102.2 330.4,98.2C327.23,94.2 326.07,84.53 325.4,76.2C324.73,67.87 322.4,53.53 326.4,48.2Z" fill="#26227e" opacity="0.42" filter="url(#b2)"/><path d="M344.4,92.2C348.4,88.87 358.4,84.87 364.4,81.2C370.4,77.53 377.23,71.2 380.4,70.2C383.57,69.2 384.9,73.03 383.4,75.2C381.9,77.37 376.07,80.37 371.4,83.2C366.73,86.03 360.57,89.2 355.4,92.2C350.23,95.2 342.23,101.2 340.4,101.2C338.57,101.2 340.4,95.53 344.4,92.2Z" fill="#26227e" opacity="0.5" filter="url(#b3)"/><path d="M307.9,110.2C308.72,109.57 311.15,106.92 312.8,106.4C314.45,105.88 316.25,106.92 317.8,107.1C319.35,107.28 320.43,108.17 322.1,107.5C323.77,106.83 326.13,104.55 327.8,103.1C329.47,101.65 330.75,100.57 332.1,98.8C333.45,97.03 334.85,94.6 335.9,92.5C336.95,90.4 337.88,88.42 338.4,86.2C338.92,83.98 338.9,80.37 339,79.2" fill="none" stroke="#6a9ae2" stroke-width="25" stroke-linecap="round" stroke-linejoin="round" opacity="0.5" filter="url(#b1)"/><path d="M307.9,110.2C308.72,109.57 311.15,106.92 312.8,106.4C314.45,105.88 316.25,106.92 317.8,107.1C319.35,107.28 320.43,108.17 322.1,107.5C323.77,106.83 326.13,104.55 327.8,103.1C329.47,101.65 330.75,100.57 332.1,98.8C333.45,97.03 334.85,94.6 335.9,92.5C336.95,90.4 337.88,88.42 338.4,86.2C338.92,83.98 338.9,80.37 339,79.2" fill="none" stroke="#30b2ea" stroke-width="16" stroke-linecap="round" stroke-linejoin="round" opacity="0.95" filter="url(#b3)"/><path d="M307.9,110.2C308.72,109.57 311.15,106.92 312.8,106.4C314.45,105.88 316.25,106.92 317.8,107.1C319.35,107.28 320.43,108.17 322.1,107.5C323.77,106.83 326.13,104.55 327.8,103.1C329.47,101.65 330.75,100.57 332.1,98.8C333.45,97.03 334.85,94.6 335.9,92.5C336.95,90.4 337.88,88.42 338.4,86.2C338.92,83.98 338.9,80.37 339,79.2" fill="none" stroke="#5cc64c" stroke-width="8.5" stroke-linecap="round" stroke-linejoin="round" filter="url(#b4)"/><ellipse cx="338" cy="86.7" rx="1.9" ry="4.2" fill="#f0e63a" filter="url(#b5)" transform="rotate(10 338 86.7)"/><ellipse cx="330.7" cy="100.7" rx="3" ry="1.9" fill="#f0e63a" filter="url(#b6)" transform="rotate(-35 330.7 100.7)"/><ellipse cx="322" cy="107.5" rx="4.2" ry="2.8" fill="#f2c830" filter="url(#b7)"/><ellipse cx="322" cy="107.5" rx="3" ry="2" fill="#e8402a"/><ellipse cx="309.2" cy="110" rx="3.2" ry="2.6" fill="#f2c830" filter="url(#b7)"/><ellipse cx="309.2" cy="110.2" rx="2" ry="1.7" fill="#ec6a2a"/></g>
<rect x="294.4" y="26.2" width="90" height="90.6" fill="none" stroke="#c8c8c8" stroke-width="0.9"/>
<path d="M294.4,116.8v2.4M297.25,116.8v1.2M300.1,116.8v1.2M302.95,116.8v1.2M305.8,116.8v1.2M308.65,116.8v1.2M311.5,116.8v2.4M314.35,116.8v1.2M317.2,116.8v1.2M320.05,116.8v1.2M322.9,116.8v1.2M325.75,116.8v1.2M328.6,116.8v2.4M331.45,116.8v1.2M334.3,116.8v1.2M337.15,116.8v1.2M340,116.8v1.2M342.85,116.8v1.2M345.7,116.8v2.4M348.55,116.8v1.2M351.4,116.8v1.2M354.25,116.8v1.2M357.1,116.8v1.2M359.95,116.8v1.2M362.8,116.8v2.4M365.65,116.8v1.2M368.5,116.8v1.2M371.35,116.8v1.2M374.2,116.8v1.2M377.05,116.8v1.2M379.9,116.8v2.4M294.4,30.4h-2.4M294.4,33.82h-1.2M294.4,37.24h-1.2M294.4,40.66h-1.2M294.4,44.08h-1.2M294.4,47.5h-2.4M294.4,50.92h-1.2M294.4,54.34h-1.2M294.4,57.76h-1.2M294.4,61.18h-1.2M294.4,64.6h-2.4M294.4,68.02h-1.2M294.4,71.44h-1.2M294.4,74.86h-1.2M294.4,78.28h-1.2M294.4,81.7h-2.4M294.4,85.12h-1.2M294.4,88.54h-1.2M294.4,91.96h-1.2M294.4,95.38h-1.2M294.4,98.8h-2.4M294.4,102.22h-1.2M294.4,105.64h-1.2M294.4,109.06h-1.2M294.4,112.48h-1.2M294.4,115.9h-2.4" stroke="#444" stroke-width="0.8" fill="none"/>
<text x="338.9" y="131.7" font-size="10.5" font-family="Liberation Sans, sans-serif" fill="#2b2b2b" text-anchor="middle" font-weight="bold" textLength="19.2" lengthAdjust="spacingAndGlyphs" stroke="#2b2b2b" stroke-width="0.1">FSC-A</text>
<text x="280.4" y="71.2" font-size="10.5" font-family="Liberation Sans, sans-serif" fill="#2b2b2b" text-anchor="middle" font-weight="bold" textLength="20" lengthAdjust="spacingAndGlyphs" transform="rotate(-90 280.4 71.2)" stroke="#2b2b2b" stroke-width="0.1">SSC-A</text>
<g clip-path="url(#c20)"><g filter="url(#dz)"><path d="M292.3,173.2C294.13,164.53 299.47,171.37 303.3,171.2C307.13,171.03 311.3,170.78 315.3,172.2C319.3,173.62 324.3,178.28 327.3,179.7C330.3,181.12 332.08,180.13 333.3,180.7C334.52,181.27 333.23,181.55 334.6,183.1C335.97,184.65 339.38,187.98 341.5,190C343.62,192.02 345.37,193.57 347.3,195.2C349.23,196.83 351.18,198.45 353.1,199.8C355.02,201.15 356.88,202.25 358.8,203.3C360.72,204.35 362.67,205.25 364.6,206.1C366.53,206.95 368.48,207.72 370.4,208.4C372.32,209.08 374,209.62 376.1,210.2C378.2,210.78 381.22,211.52 383,211.9C384.78,212.28 386.17,212.35 386.8,212.5C387.43,212.65 390.1,212.55 386.8,212.8C383.5,213.05 376.7,213.53 367,214C357.3,214.47 339.5,215.12 328.6,215.6C317.7,216.08 306.73,216.03 301.6,216.9C296.47,217.77 299.35,219.75 297.8,220.8C296.25,221.85 293.22,231.13 292.3,223.2C291.38,215.27 290.47,181.87 292.3,173.2Z" fill="#000" opacity="0.1"/><path d="M292.3,151.2C296.13,147.2 308.97,148.53 315.3,149.2C321.63,149.87 326.97,151.53 330.3,155.2C333.63,158.87 336.13,167.87 335.3,171.2C334.47,174.53 330.3,174.87 325.3,175.2C320.3,175.53 310.8,173.53 305.3,173.2C299.8,172.87 294.47,176.87 292.3,173.2C290.13,169.53 288.47,155.2 292.3,151.2Z" fill="#000" opacity="0.03" filter="url(#b1)"/><path d="M292.3,186.2C294.8,179.7 302.63,184.53 307.3,184.2C311.97,183.87 316.13,183.95 320.3,184.2C324.47,184.45 329.92,185.88 332.3,185.7C334.68,185.52 333.07,182.38 334.6,183.1C336.13,183.82 339.38,187.98 341.5,190C343.62,192.02 345.37,193.57 347.3,195.2C349.23,196.83 351.18,198.45 353.1,199.8C355.02,201.15 356.88,202.25 358.8,203.3C360.72,204.35 362.67,205.25 364.6,206.1C366.53,206.95 368.48,207.72 370.4,208.4C372.32,209.08 374,209.62 376.1,210.2C378.2,210.78 381.22,211.52 383,211.9C384.78,212.28 386.17,212.35 386.8,212.5C387.43,212.65 390.1,212.55 386.8,212.8C383.5,213.05 376.7,213.53 367,214C357.3,214.47 339.5,215.12 328.6,215.6C317.7,216.08 306.73,216.03 301.6,216.9C296.47,217.77 299.35,219.75 297.8,220.8C296.25,221.85 293.22,228.97 292.3,223.2C291.38,217.43 289.8,192.7 292.3,186.2Z" fill="#000" opacity="0.32"/><path d="M292.3,197.2C295.13,192.7 303.8,196.62 309.3,196.2C314.8,195.78 320.97,195.2 325.3,194.7C329.63,194.2 332.63,193.7 335.3,193.2C337.97,192.7 339.3,191.37 341.3,191.7C343.3,192.03 345.33,193.85 347.3,195.2C349.27,196.55 351.18,198.45 353.1,199.8C355.02,201.15 356.88,202.25 358.8,203.3C360.72,204.35 362.67,205.25 364.6,206.1C366.53,206.95 368.48,207.72 370.4,208.4C372.32,209.08 374,209.62 376.1,210.2C378.2,210.78 381.22,211.52 383,211.9C384.78,212.28 386.17,212.35 386.8,212.5C387.43,212.65 390.1,212.55 386.8,212.8C383.5,213.05 376.7,213.53 367,214C357.3,214.47 339.5,215.12 328.6,215.6C317.7,216.08 306.73,216.03 301.6,216.9C296.47,217.77 299.35,219.75 297.8,220.8C296.25,221.85 293.22,227.13 292.3,223.2C291.38,219.27 289.47,201.7 292.3,197.2Z" fill="#000" opacity="0.97"/></g></g>
<g clip-path="url(#c21)"><path d="M292.3,200.2C296.13,197.2 308.13,199.7 315.3,199.2C322.47,198.7 329.97,197.28 335.3,197.2C340.63,197.12 343.63,197.78 347.3,198.7C350.97,199.62 353.97,201.45 357.3,202.7C360.63,203.95 362.97,204.87 367.3,206.2C371.63,207.53 383.3,209.53 383.3,210.7C383.3,211.87 375.3,212.53 367.3,213.2C359.3,213.87 345.63,214.37 335.3,214.7C324.97,215.03 312.47,214.78 305.3,215.2C298.13,215.62 294.47,219.7 292.3,217.2C290.13,214.7 288.47,203.2 292.3,200.2Z" fill="#26227e" opacity="0.75" filter="url(#b4)"/><path d="M295.8,205.7C296.72,205.25 299.55,205.72 301.3,206C303.05,206.28 306.3,206.93 306.3,207.4C306.3,207.87 303.05,208.58 301.3,208.8C299.55,209.02 296.72,209.22 295.8,208.7C294.88,208.18 294.88,206.15 295.8,205.7Z" fill="#4a8ad0" opacity="0.55" filter="url(#b5)"/><path d="M304.3,211.2C307.8,210.7 316.8,210.82 325.3,210.7C333.8,210.58 347.63,210.43 355.3,210.5C362.97,210.57 367.97,210.87 371.3,211.1C374.63,211.33 377.97,211.52 375.3,211.9C372.63,212.28 363.63,213.1 355.3,213.4C346.97,213.7 333.8,213.65 325.3,213.7C316.8,213.75 307.8,214.12 304.3,213.7C300.8,213.28 300.8,211.7 304.3,211.2Z" fill="#3aaed0" opacity="0.9"/><path d="M308.3,211.7C311.13,211.4 319.13,211.38 325.3,211.3C331.47,211.22 339.63,211.13 345.3,211.2C350.97,211.27 359.3,211.4 359.3,211.7C359.3,212 350.97,212.75 345.3,213C339.63,213.25 331.47,213.18 325.3,213.2C319.13,213.22 311.13,213.35 308.3,213.1C305.47,212.85 305.47,212 308.3,211.7Z" fill="#72c652" opacity="0.9"/><ellipse cx="333.3" cy="212.2" rx="7" ry="0.7" fill="#c8dc4c" opacity="0.8"/><path d="M353.3,210.8C355.3,210.45 361.97,210.75 365.3,210.9C368.63,211.05 373.3,211.38 373.3,211.7C373.3,212.02 368.63,212.58 365.3,212.8C361.97,213.02 355.3,213.33 353.3,213C351.3,212.67 351.3,211.15 353.3,210.8Z" fill="#b85aa8" opacity="0.6"/><path d="M303.3,214.2L371.3,213.2" stroke="#c03a98" stroke-width="0.9" opacity="0.75"/><path d="M345.3,204.6C347.3,204.33 353.63,204.53 357.3,204.7C360.97,204.87 364.63,205.25 367.3,205.6C369.97,205.95 373.63,206.55 373.3,206.8C372.97,207.05 368.3,207.1 365.3,207.1C362.3,207.1 358.63,206.93 355.3,206.8C351.97,206.67 346.97,206.67 345.3,206.3C343.63,205.93 343.3,204.87 345.3,204.6Z" fill="#58b2e6" opacity="0.8" filter="url(#b6)"/><path d="M341.5,190C342.47,190.87 345.37,193.57 347.3,195.2C349.23,196.83 351.18,198.45 353.1,199.8C355.02,201.15 356.88,202.25 358.8,203.3C360.72,204.35 362.67,205.25 364.6,206.1C366.53,206.95 368.48,207.72 370.4,208.4C372.32,209.08 374,209.62 376.1,210.2C378.2,210.78 381.22,211.52 383,211.9C384.78,212.28 386.17,212.4 386.8,212.5" fill="none" stroke="#22207a" stroke-width="0.9" opacity="0.75"/></g>
<rect x="295.3" y="143.2" width="90" height="90.6" fill="none" stroke="#c8c8c8" stroke-width="0.9"/>
<path d="M295.3,233.8v2.4M298.15,233.8v1.2M301,233.8v1.2M303.85,233.8v1.2M306.7,233.8v1.2M309.55,233.8v1.2M312.4,233.8v2.4M315.25,233.8v1.2M318.1,233.8v1.2M320.95,233.8v1.2M323.8,233.8v1.2M326.65,233.8v1.2M329.5,233.8v2.4M332.35,233.8v1.2M335.2,233.8v1.2M338.05,233.8v1.2M340.9,233.8v1.2M343.75,233.8v1.2M346.6,233.8v2.4M349.45,233.8v1.2M352.3,233.8v1.2M355.15,233.8v1.2M358,233.8v1.2M360.85,233.8v1.2M363.7,233.8v2.4M366.55,233.8v1.2M369.4,233.8v1.2M372.25,233.8v1.2M375.1,233.8v1.2M377.95,233.8v1.2M380.8,233.8v2.4M295.3,147.4h-2.4M295.3,150.82h-1.2M295.3,154.24h-1.2M295.3,157.66h-1.2M295.3,161.08h-1.2M295.3,164.5h-2.4M295.3,167.92h-1.2M295.3,171.34h-1.2M295.3,174.76h-1.2M295.3,178.18h-1.2M295.3,181.6h-2.4M295.3,185.02h-1.2M295.3,188.44h-1.2M295.3,191.86h-1.2M295.3,195.28h-1.2M295.3,198.7h-2.4M295.3,202.12h-1.2M295.3,205.54h-1.2M295.3,208.96h-1.2M295.3,212.38h-1.2M295.3,215.8h-2.4M295.3,219.22h-1.2M295.3,222.64h-1.2M295.3,226.06h-1.2M295.3,229.48h-1.2M295.3,232.9h-2.4" stroke="#444" stroke-width="0.8" fill="none"/>
<text x="351.6" y="225.4" font-size="9" font-family="Liberation Sans, sans-serif" fill="#262626" text-anchor="middle" textLength="16.2" lengthAdjust="spacingAndGlyphs" stroke="#262626" stroke-width="0.15">86.4</text>
<text x="338.6" y="249.8" font-size="10.5" font-family="Liberation Sans, sans-serif" fill="#2b2b2b" text-anchor="middle" font-weight="bold" textLength="19.6" lengthAdjust="spacingAndGlyphs" stroke="#2b2b2b" stroke-width="0.1">FSC-H</text>
<text x="280.4" y="188.1" font-size="10.5" font-family="Liberation Sans, sans-serif" fill="#2b2b2b" text-anchor="middle" font-weight="bold" textLength="21.5" lengthAdjust="spacingAndGlyphs" transform="rotate(-90 280.4 188.1)" stroke="#2b2b2b" stroke-width="0.1">FSC-W</text>
<g clip-path="url(#c22)"><g filter="url(#dz)"><path d="M291.4,302.5C292.17,298.08 293.83,303.33 296,304C298.17,304.67 301.33,305.58 304.4,306.5C307.47,307.42 310.35,308.33 314.4,309.5C318.45,310.67 323.12,312.08 328.7,313.5C334.28,314.92 341.5,316.58 347.9,318C354.3,319.42 361.27,320.62 367.1,322C372.93,323.38 382.9,325.22 382.9,326.3C382.9,327.38 376.13,328.03 367.1,328.5C358.07,328.97 341.32,328.77 328.7,329.1C316.08,329.43 297.62,334.93 291.4,330.5C285.18,326.07 290.63,306.92 291.4,302.5Z" fill="#000" opacity="0.14" filter="url(#b8)"/><path d="M291.4,288.5C294.4,285.83 303.07,288.83 309.4,290.5C315.73,292.17 323.57,295.83 329.4,298.5C335.23,301.17 343.57,304.17 344.4,306.5C345.23,308.83 340.23,312.17 334.4,312.5C328.57,312.83 316.57,309.5 309.4,308.5C302.23,307.5 294.4,309.83 291.4,306.5C288.4,303.17 288.4,291.17 291.4,288.5Z" fill="#000" opacity="0.07" filter="url(#b1)"/><path d="M291.4,312.5C294.4,310 303.18,314.5 309.4,315.5C315.62,316.5 322.28,317.58 328.7,318.5C335.12,319.42 341.5,320.17 347.9,321C354.3,321.83 361.27,322.58 367.1,323.5C372.93,324.42 382.9,325.67 382.9,326.5C382.9,327.33 376.13,328.07 367.1,328.5C358.07,328.93 341.32,328.77 328.7,329.1C316.08,329.43 297.62,333.27 291.4,330.5C285.18,327.73 288.4,315 291.4,312.5Z" fill="#000" opacity="0.35" filter="url(#b7)"/><path d="M291.4,323.3C297.62,322.17 319.28,323.13 328.7,323.3C338.12,323.47 341.5,324.1 347.9,324.3C354.3,324.5 361.17,324.02 367.1,324.5C373.03,324.98 383.5,326.53 383.5,327.2C383.5,327.87 376.23,328.18 367.1,328.5C357.97,328.82 341.32,328.83 328.7,329.1C316.08,329.37 297.62,331.07 291.4,330.1C285.18,329.13 285.18,324.43 291.4,323.3Z" fill="#000" filter="url(#b9)"/></g></g>
<g clip-path="url(#c23)"><path d="M291.4,324C297.62,323.1 318.2,323.93 328.7,324.1C339.2,324.27 345.78,324.5 354.4,325C363.02,325.5 380.4,326.58 380.4,327.1C380.4,327.62 363.02,327.82 354.4,328.1C345.78,328.38 339.2,328.57 328.7,328.8C318.2,329.03 297.62,330.3 291.4,329.5C285.18,328.7 285.18,324.9 291.4,324Z" fill="#26227e" opacity="0.7" filter="url(#b6)"/><path d="M296.4,326C299.4,325.67 308.07,325.7 314.4,325.7C320.73,325.7 329.07,325.83 334.4,326C339.73,326.17 346.4,326.47 346.4,326.7C346.4,326.93 339.73,327.25 334.4,327.4C329.07,327.55 320.73,327.55 314.4,327.6C308.07,327.65 299.4,327.97 296.4,327.7C293.4,327.43 293.4,326.33 296.4,326Z" fill="#36aacc" opacity="0.9" filter="url(#b10)"/><ellipse cx="308.4" cy="326.8" rx="9" ry="0.65" fill="#a8d448" opacity="0.9" filter="url(#b11)"/><path d="M296.4,328.8L354.4,328.3" stroke="#b02890" stroke-width="0.6" opacity="0.6"/></g>
<rect x="294.4" y="260.5" width="90" height="90.6" fill="none" stroke="#c8c8c8" stroke-width="0.9"/>
<path d="M294.4,351.1v2.4M297.25,351.1v1.2M300.1,351.1v1.2M302.95,351.1v1.2M305.8,351.1v1.2M308.65,351.1v1.2M311.5,351.1v2.4M314.35,351.1v1.2M317.2,351.1v1.2M320.05,351.1v1.2M322.9,351.1v1.2M325.75,351.1v1.2M328.6,351.1v2.4M331.45,351.1v1.2M334.3,351.1v1.2M337.15,351.1v1.2M340,351.1v1.2M342.85,351.1v1.2M345.7,351.1v2.4M348.55,351.1v1.2M351.4,351.1v1.2M354.25,351.1v1.2M357.1,351.1v1.2M359.95,351.1v1.2M362.8,351.1v2.4M365.65,351.1v1.2M368.5,351.1v1.2M371.35,351.1v1.2M374.2,351.1v1.2M377.05,351.1v1.2M379.9,351.1v2.4M294.4,264.7h-2.4M294.4,268.12h-1.2M294.4,271.54h-1.2M294.4,274.96h-1.2M294.4,278.38h-1.2M294.4,281.8h-2.4M294.4,285.22h-1.2M294.4,288.64h-1.2M294.4,292.06h-1.2M294.4,295.48h-1.2M294.4,298.9h-2.4M294.4,302.32h-1.2M294.4,305.74h-1.2M294.4,309.16h-1.2M294.4,312.58h-1.2M294.4,316h-2.4M294.4,319.42h-1.2M294.4,322.84h-1.2M294.4,326.26h-1.2M294.4,329.68h-1.2M294.4,333.1h-2.4M294.4,336.52h-1.2M294.4,339.94h-1.2M294.4,343.36h-1.2M294.4,346.78h-1.2M294.4,350.2h-2.4" stroke="#444" stroke-width="0.8" fill="none"/>
<text x="338.6" y="337.8" font-size="9" font-family="Liberation Sans, sans-serif" fill="#262626" text-anchor="middle" textLength="17" lengthAdjust="spacingAndGlyphs" stroke="#262626" stroke-width="0.15">97.7</text>
<text x="338.7" y="368" font-size="10.5" font-family="Liberation Sans, sans-serif" fill="#2b2b2b" text-anchor="middle" font-weight="bold" textLength="19.6" lengthAdjust="spacingAndGlyphs" stroke="#2b2b2b" stroke-width="0.1">SSC-H</text>
<text x="280.4" y="305.1" font-size="10.5" font-family="Liberation Sans, sans-serif" fill="#2b2b2b" text-anchor="middle" font-weight="bold" textLength="21" lengthAdjust="spacingAndGlyphs" transform="rotate(-90 280.4 305.1)" stroke="#2b2b2b" stroke-width="0.1">SSC-W</text>
<g clip-path="url(#c24)"><path d="M310.8,444.2C310.8,443.47 310.9,442.43 311.4,442C311.9,441.57 311.57,441.62 313.8,441.6C316.03,441.58 321.3,441.75 324.8,441.9C328.3,442.05 332.37,442.22 334.8,442.5C337.23,442.78 338.5,443.33 339.4,443.6C340.3,443.87 340.2,443.93 340.2,444.1C340.2,444.27 340.3,444.37 339.4,444.6C338.5,444.83 337.23,445.23 334.8,445.5C332.37,445.77 328.3,446 324.8,446.2C321.3,446.4 316.03,446.67 313.8,446.7C311.57,446.73 311.9,446.82 311.4,446.4C310.9,445.98 310.8,444.93 310.8,444.2Z" fill="#2a2486"/><path d="M310.8,444.2C310.8,443.47 310.9,442.43 311.4,442C311.9,441.57 311.57,441.62 313.8,441.6C316.03,441.58 321.3,441.75 324.8,441.9C328.3,442.05 332.37,442.22 334.8,442.5C337.23,442.78 338.5,443.33 339.4,443.6C340.3,443.87 340.2,443.93 340.2,444.1C340.2,444.27 340.3,444.37 339.4,444.6C338.5,444.83 337.23,445.23 334.8,445.5C332.37,445.77 328.3,446 324.8,446.2C321.3,446.4 316.03,446.67 313.8,446.7C311.57,446.73 311.9,446.82 311.4,446.4C310.9,445.98 310.8,444.93 310.8,444.2Z" fill="none" stroke="#1c1850" stroke-width="0.8"/><path d="M312.3,444C312.3,443.6 312.38,442.98 313.3,442.8C314.22,442.62 316.72,442.73 317.8,442.9C318.88,443.07 319.8,443.45 319.8,443.8C319.8,444.15 318.88,444.77 317.8,445C316.72,445.23 314.22,445.37 313.3,445.2C312.38,445.03 312.3,444.4 312.3,444Z" fill="#c4c8d6" opacity="0.95"/><path d="M319.8,443.3C321.97,443.08 330.63,443.38 332.8,443.6C334.97,443.82 334.97,444.38 332.8,444.6C330.63,444.82 321.97,445.12 319.8,444.9C317.63,444.68 317.63,443.52 319.8,443.3Z" fill="#4840b0" opacity="0.8"/></g>
<rect x="294.4" y="377.5" width="90" height="90.6" fill="none" stroke="#c8c8c8" stroke-width="0.9"/>
<path d="M327.7,468.1v2.4M343.45,468.1v2.4M357.4,468.1v2.4M372.7,468.1v2.4M300.7,468.1v1.2M302.95,468.1v1.2M305.2,468.1v1.2M307.45,468.1v1.2M309.7,468.1v1.2M319.84,468.1v1.2M321.82,468.1v1.2M323.22,468.1v1.2M324.31,468.1v1.2M325.2,468.1v1.2M325.96,468.1v1.2M326.61,468.1v1.2M327.19,468.1v1.2M332.44,468.1v1.2M335.21,468.1v1.2M337.18,468.1v1.2M338.71,468.1v1.2M339.96,468.1v1.2M341.01,468.1v1.2M341.92,468.1v1.2M342.73,468.1v1.2M347.65,468.1v1.2M350.11,468.1v1.2M351.85,468.1v1.2M353.2,468.1v1.2M354.31,468.1v1.2M355.24,468.1v1.2M356.05,468.1v1.2M356.76,468.1v1.2M362.01,468.1v1.2M364.7,468.1v1.2M366.61,468.1v1.2M368.09,468.1v1.2M369.31,468.1v1.2M370.33,468.1v1.2M371.22,468.1v1.2M372,468.1v1.2M377.31,468.1v1.2M380,468.1v1.2M381.91,468.1v1.2M383.39,468.1v1.2M312.4,468.1v2.4M313.07,468.1v2.4M313.75,468.1v2.4M314.42,468.1v2.4M315.1,468.1v2.4M315.77,468.1v2.4M316.45,468.1v2.4M294.4,381.7h-2.4M294.4,385.12h-1.2M294.4,388.54h-1.2M294.4,391.96h-1.2M294.4,395.38h-1.2M294.4,398.8h-2.4M294.4,402.22h-1.2M294.4,405.64h-1.2M294.4,409.06h-1.2M294.4,412.48h-1.2M294.4,415.9h-2.4M294.4,419.32h-1.2M294.4,422.74h-1.2M294.4,426.16h-1.2M294.4,429.58h-1.2M294.4,433h-2.4M294.4,436.42h-1.2M294.4,439.84h-1.2M294.4,443.26h-1.2M294.4,446.68h-1.2M294.4,450.1h-2.4M294.4,453.52h-1.2M294.4,456.94h-1.2M294.4,460.36h-1.2M294.4,463.78h-1.2M294.4,467.2h-2.4" stroke="#444" stroke-width="0.8" fill="none"/>
<rect x="343.4" y="377.7" width="40.7" height="90.2" fill="none" stroke="#8cc478" stroke-width="0.9"/>
<text x="364.7" y="425.1" font-size="9" font-family="Liberation Sans, sans-serif" fill="#262626" text-anchor="middle" stroke="#262626" stroke-width="0.15">0.000</text>
<text x="338.3" y="485" font-size="10.5" font-family="Liberation Sans, sans-serif" fill="#2b2b2b" text-anchor="middle" font-weight="bold" textLength="17" lengthAdjust="spacingAndGlyphs" stroke="#2b2b2b" stroke-width="0.1">eGFP</text>
<text x="280.4" y="423" font-size="10.5" font-family="Liberation Sans, sans-serif" fill="#2b2b2b" text-anchor="middle" font-weight="bold" textLength="21" lengthAdjust="spacingAndGlyphs" transform="rotate(-90 280.4 423)" stroke="#2b2b2b" stroke-width="0.1">SSC-W</text>
<g clip-path="url(#c25)"><g filter="url(#dz)"><path d="M291.4,527.2C296.9,522.53 313.73,528.7 324.4,529.2C335.07,529.7 349.98,528.03 355.4,530.2C360.82,532.37 357.23,537.7 356.9,542.2C356.57,546.7 354.98,552.7 353.4,557.2C351.82,561.7 349.4,565.7 347.4,569.2C345.4,572.7 343.9,575.95 341.4,578.2C338.9,580.45 335.57,581.95 332.4,582.7C329.23,583.45 325.73,583.45 322.4,582.7C319.07,581.95 315.73,580.28 312.4,578.2C309.07,576.12 305.4,572.87 302.4,570.2C299.4,567.53 296.23,564.37 294.4,562.2C292.57,560.03 291.9,563.03 291.4,557.2C290.9,551.37 285.9,531.87 291.4,527.2Z" fill="#000" opacity="0.48" filter="url(#b12)"/><ellipse cx="329.4" cy="562.2" rx="12" ry="14" fill="#000" opacity="0.65" filter="url(#b13)"/><path d="M291.4,531.2C295.23,530.2 307.23,531.03 314.4,531.2C321.57,531.37 328.57,531.87 334.4,532.2C340.23,532.53 349.4,532.37 349.4,533.2C349.4,534.03 340.23,536.53 334.4,537.2C328.57,537.87 321.57,537.2 314.4,537.2C307.23,537.2 295.23,538.2 291.4,537.2C287.57,536.2 287.57,532.2 291.4,531.2Z" fill="#000" opacity="0.35" filter="url(#b3)"/><path d="M358.4,531.2C363.07,520.87 381.73,517.53 386.4,527.2C391.07,536.87 391.07,578.87 386.4,589.2C381.73,599.53 363.07,598.87 358.4,589.2C353.73,579.53 353.73,541.53 358.4,531.2Z" fill="#000" opacity="0.04" filter="url(#b1)"/><path d="M291.4,500.2C294.4,494.78 303.18,499.2 309.4,498.7C315.62,498.2 322.87,497.37 328.7,497.2C334.53,497.03 339.78,496.87 344.4,497.7C349.02,498.53 352.23,500.45 356.4,502.2C360.57,503.95 365.4,506.12 369.4,508.2C373.4,510.28 380.4,512.7 380.4,514.7C380.4,516.7 373.73,518.12 369.4,520.2C365.07,522.28 367.4,525.37 354.4,527.2C341.4,529.03 301.9,535.7 291.4,531.2C280.9,526.7 288.4,505.62 291.4,500.2Z" fill="#000" opacity="0.3" filter="url(#b0)"/><path d="M291.4,506.7C294.4,502.45 303.18,505.28 309.4,504.7C315.62,504.12 323.57,503.45 328.7,503.2C333.83,502.95 336.37,502.62 340.2,503.2C344.03,503.78 347.85,505.28 351.7,506.7C355.55,508.12 359.45,510.32 363.3,511.7C367.15,513.08 372.53,514.32 374.8,515C377.07,515.68 376.9,515.5 376.9,515.8C376.9,516.1 377.07,515.78 374.8,516.8C372.53,517.82 367.15,520.1 363.3,521.9C359.45,523.7 355.87,526.3 351.7,527.6C347.53,528.9 343.75,529.18 338.3,529.7C332.85,530.22 326.82,530.62 319,530.7C311.18,530.78 296,534.2 291.4,530.2C286.8,526.2 288.4,510.95 291.4,506.7Z" fill="#000" opacity="0.95" filter="url(#b7)"/></g></g>
<g clip-path="url(#c26)"><path d="M291.4,509.2C295.23,505.87 306.4,507.7 314.4,507.2C322.4,506.7 332.73,505.78 339.4,506.2C346.07,506.62 349.57,508.2 354.4,509.7C359.23,511.2 368.4,512.95 368.4,515.2C368.4,517.45 359.23,521.2 354.4,523.2C349.57,525.2 346.07,526.37 339.4,527.2C332.73,528.03 322.4,528.2 314.4,528.2C306.4,528.2 295.23,530.37 291.4,527.2C287.57,524.03 287.57,512.53 291.4,509.2Z" fill="#26227e" opacity="0.75" filter="url(#b14)"/><path d="M291.4,516.7C292.73,516.12 296.9,516.53 299.4,516.2C301.9,515.87 304.12,515.17 306.4,514.7C308.68,514.23 310.1,513.78 313.1,513.4C316.1,513.02 320.65,512.67 324.4,512.4C328.15,512.13 331.93,511.87 335.6,511.8C339.27,511.73 343.52,511.85 346.4,512C349.28,512.15 350.9,512.17 352.9,512.7C354.9,513.23 356.9,514.33 358.4,515.2C359.9,516.07 361.9,516.9 361.9,517.9C361.9,518.9 359.9,519.82 358.4,521.2C356.9,522.58 355.23,525.32 352.9,526.2C350.57,527.08 347.28,526.47 344.4,526.5C341.52,526.53 338.93,526.62 335.6,526.4C332.27,526.18 328.15,525.6 324.4,525.2C320.65,524.8 316.1,524.58 313.1,524C310.1,523.42 308.68,522.37 306.4,521.7C304.12,521.03 301.9,520.33 299.4,520C296.9,519.67 292.73,520.25 291.4,519.7C290.07,519.15 290.07,517.28 291.4,516.7Z" fill="#3aaee0" opacity="0.75" filter="url(#b7)"/><path d="M311.4,518.7C311.73,517.67 315.57,516.22 318.4,515.5C321.23,514.78 325.07,514.53 328.4,514.4C331.73,514.27 335.9,514.32 338.4,514.7C340.9,515.08 342.73,515.62 343.4,516.7C344.07,517.78 343.9,520.2 342.4,521.2C340.9,522.2 337.4,522.48 334.4,522.7C331.4,522.92 327.4,522.67 324.4,522.5C321.4,522.33 318.57,522.33 316.4,521.7C314.23,521.07 311.07,519.73 311.4,518.7Z" fill="#5ec44c" opacity="0.95" filter="url(#b6)"/><path d="M337.4,514.4C337.4,513.7 341.4,512.93 343.4,512.6C345.4,512.27 347.82,512.2 349.4,512.4C350.98,512.6 352.73,513.2 352.9,513.8C353.07,514.4 351.98,515.5 350.4,516C348.82,516.5 345.57,517.07 343.4,516.8C341.23,516.53 337.4,515.1 337.4,514.4Z" fill="#5ec44c" opacity="0.95" filter="url(#b6)"/><path d="M339.4,521.7C340.23,521 343.4,520.22 345.4,520C347.4,519.78 349.98,519.9 351.4,520.4C352.82,520.9 353.9,522.1 353.9,523C353.9,523.9 352.98,525.3 351.4,525.8C349.82,526.3 346.23,526.27 344.4,526C342.57,525.73 341.23,524.92 340.4,524.2C339.57,523.48 338.57,522.4 339.4,521.7Z" fill="#5ec44c" opacity="0.95" filter="url(#b6)"/><ellipse cx="349.4" cy="518.4" rx="3.6" ry="1.1" fill="#2f58b8" opacity="0.7" filter="url(#b6)"/><ellipse cx="328.6" cy="518.1" rx="5.4" ry="1.7" fill="#d4e444" filter="url(#b6)"/><ellipse cx="345.9" cy="514.4" rx="3" ry="1.3" fill="#d4e444" filter="url(#b6)"/><ellipse cx="348.5" cy="523.1" rx="2.6" ry="1.5" fill="#d4e444" filter="url(#b6)"/></g>
<rect x="294.4" y="497.2" width="90" height="90.6" fill="none" stroke="#c8c8c8" stroke-width="0.9"/>
<path d="M313.3,587.8v2.4M334.9,587.8v2.4M355.6,587.8v2.4M374.5,587.8v2.4M304.81,587.8v1.2M306.95,587.8v1.2M308.47,587.8v1.2M309.64,587.8v1.2M310.6,587.8v1.2M311.42,587.8v1.2M312.12,587.8v1.2M312.74,587.8v1.2M319.8,587.8v1.2M323.61,587.8v1.2M326.3,587.8v1.2M328.4,587.8v1.2M330.11,587.8v1.2M331.55,587.8v1.2M332.81,587.8v1.2M333.91,587.8v1.2M341.13,587.8v1.2M344.78,587.8v1.2M347.36,587.8v1.2M349.37,587.8v1.2M351.01,587.8v1.2M352.39,587.8v1.2M353.59,587.8v1.2M354.65,587.8v1.2M361.29,587.8v1.2M364.62,587.8v1.2M366.98,587.8v1.2M368.81,587.8v1.2M370.31,587.8v1.2M371.57,587.8v1.2M372.67,587.8v1.2M373.64,587.8v1.2M380.19,587.8v1.2M383.52,587.8v1.2M297.1,587.8v2.4M297.77,587.8v2.4M298.45,587.8v2.4M299.12,587.8v2.4M299.8,587.8v2.4M300.47,587.8v2.4M301.15,587.8v2.4M294.4,504.18h-2.4M294.4,521.66h-2.4M294.4,539.78h-2.4M294.4,558.81h-2.4M294.4,516.4h-1.2M294.4,513.32h-1.2M294.4,511.13h-1.2M294.4,509.44h-1.2M294.4,508.06h-1.2M294.4,506.88h-1.2M294.4,505.87h-1.2M294.4,504.98h-1.2M294.4,534.33h-1.2M294.4,531.14h-1.2M294.4,528.87h-1.2M294.4,527.12h-1.2M294.4,525.68h-1.2M294.4,524.47h-1.2M294.4,523.42h-1.2M294.4,522.49h-1.2M294.4,553.08h-1.2M294.4,549.73h-1.2M294.4,547.35h-1.2M294.4,545.51h-1.2M294.4,544h-1.2M294.4,542.73h-1.2M294.4,541.63h-1.2M294.4,540.65h-1.2M294.4,563.56h-1.2M294.4,562.36h-1.2M294.4,561.51h-1.2M294.4,560.85h-1.2M294.4,560.32h-1.2M294.4,559.86h-1.2M294.4,559.47h-1.2M294.4,559.12h-1.2M294.4,565.15h-2.4M294.4,565.53h-2.4M294.4,565.9h-2.4M294.4,566.28h-2.4M294.4,566.66h-2.4M294.4,567.04h-2.4M294.4,567.41h-2.4M294.4,571.49h-1.2M294.4,576.02h-1.2M294.4,580.55h-1.2M294.4,585.08h-1.2" stroke="#444" stroke-width="0.8" fill="none"/>
<path d="M355.9,533.4 362.7,527.6 384.1,527.6 384.1,587.6 355.9,587.6Z" fill="none" stroke="#a862a6" stroke-width="0.85"/>
<text x="370" y="565.8" font-size="9" font-family="Liberation Sans, sans-serif" fill="#262626" text-anchor="middle" stroke="#262626" stroke-width="0.15">0.058</text>
<text x="338" y="604.4" font-size="10.5" font-family="Liberation Sans, sans-serif" fill="#2b2b2b" text-anchor="middle" font-weight="bold" textLength="16.7" lengthAdjust="spacingAndGlyphs" stroke="#2b2b2b" stroke-width="0.1">CD31</text>
<text x="280.4" y="541.2" font-size="9.6" font-family="Liberation Sans, sans-serif" fill="#2b2b2b" text-anchor="middle" font-weight="bold" textLength="46.5" lengthAdjust="spacingAndGlyphs" transform="rotate(-90 280.4 541.2)" stroke="#2b2b2b" stroke-width="0.1">CD45 / Ter-119</text>
<path d="M310.6,706.2C310.82,703.96 311.37,700.14 311.9,692.78C312.43,685.41 313.15,668.34 313.8,662C314.45,655.66 315.15,655.36 315.8,654.73C316.45,654.1 317.07,657.92 317.7,658.23C318.33,658.55 318.97,655.98 319.6,656.61C320.23,657.24 320.7,660.47 321.5,662C322.3,663.52 323.6,664.48 324.4,665.76C325.2,667.04 325.82,667.44 326.3,669.69C326.78,671.94 326.97,675.42 327.3,679.27C327.63,683.12 327.82,689.24 328.3,692.78C328.78,696.31 329.25,698.72 330.2,700.47C331.15,702.22 332.72,702.5 334,703.29C335.28,704.09 336.77,704.77 337.9,705.26C339.03,705.74 340.32,706.04 340.8,706.2L340.8,706.2L310.6,706.2Z" fill="#cde8bf"/>
<path d="M310.6,706.2C310.82,703.96 311.37,700.14 311.9,692.78C312.43,685.41 313.15,668.34 313.8,662C314.45,655.66 315.15,655.36 315.8,654.73C316.45,654.1 317.07,657.92 317.7,658.23C318.33,658.55 318.97,655.98 319.6,656.61C320.23,657.24 320.7,660.47 321.5,662C322.3,663.52 323.6,664.48 324.4,665.76C325.2,667.04 325.82,667.44 326.3,669.69C326.78,671.94 326.97,675.42 327.3,679.27C327.63,683.12 327.82,689.24 328.3,692.78C328.78,696.31 329.25,698.72 330.2,700.47C331.15,702.22 332.72,702.5 334,703.29C335.28,704.09 336.77,704.77 337.9,705.26C339.03,705.74 340.32,706.04 340.8,706.2" fill="none" stroke="#4ea240" stroke-width="1.05" stroke-linejoin="round"/>
<path d="M294,705.8H384" stroke="#56ad46" stroke-width="0.9"/>
<rect x="294" y="616.2" width="90" height="90" fill="none" stroke="#161616" stroke-width="1.3"/>
<path d="M327.3,706.2v2.4M343.05,706.2v2.4M357,706.2v2.4M372.3,706.2v2.4M300.3,706.2v1.2M302.55,706.2v1.2M304.8,706.2v1.2M307.05,706.2v1.2M309.3,706.2v1.2M319.44,706.2v1.2M321.42,706.2v1.2M322.82,706.2v1.2M323.91,706.2v1.2M324.8,706.2v1.2M325.56,706.2v1.2M326.21,706.2v1.2M326.79,706.2v1.2M332.04,706.2v1.2M334.81,706.2v1.2M336.78,706.2v1.2M338.31,706.2v1.2M339.56,706.2v1.2M340.61,706.2v1.2M341.52,706.2v1.2M342.33,706.2v1.2M347.25,706.2v1.2M349.71,706.2v1.2M351.45,706.2v1.2M352.8,706.2v1.2M353.91,706.2v1.2M354.84,706.2v1.2M355.65,706.2v1.2M356.36,706.2v1.2M361.61,706.2v1.2M364.3,706.2v1.2M366.21,706.2v1.2M367.69,706.2v1.2M368.91,706.2v1.2M369.93,706.2v1.2M370.82,706.2v1.2M371.6,706.2v1.2M376.91,706.2v1.2M379.6,706.2v1.2M381.51,706.2v1.2M382.99,706.2v1.2M312,706.2v2.4M312.68,706.2v2.4M313.35,706.2v2.4M314.02,706.2v2.4M314.7,706.2v2.4M315.38,706.2v2.4M316.05,706.2v2.4M294,620.7h-2.6M294,624.98h-1.3M294,629.25h-1.3M294,633.53h-1.3M294,637.8h-2.6M294,642.08h-1.3M294,646.35h-1.3M294,650.63h-1.3M294,654.9h-2.6M294,659.18h-1.3M294,663.45h-1.3M294,667.73h-1.3M294,672h-2.6M294,676.27h-1.3M294,680.55h-1.3M294,684.83h-1.3M294,689.1h-2.6M294,693.38h-1.3M294,697.65h-1.3M294,701.93h-1.3M294,706.2h-2.6" stroke="#333" stroke-width="0.8" fill="none"/>
<text x="288.1" y="623.7" font-size="8.6" font-family="Liberation Sans, sans-serif" fill="#2a2a2a" text-anchor="end">100</text>
<text x="288.1" y="640.8" font-size="8.6" font-family="Liberation Sans, sans-serif" fill="#2a2a2a" text-anchor="end">80</text>
<text x="288.1" y="657.9" font-size="8.6" font-family="Liberation Sans, sans-serif" fill="#2a2a2a" text-anchor="end">60</text>
<text x="288.1" y="675" font-size="8.6" font-family="Liberation Sans, sans-serif" fill="#2a2a2a" text-anchor="end">40</text>
<text x="288.1" y="692.1" font-size="8.6" font-family="Liberation Sans, sans-serif" fill="#2a2a2a" text-anchor="end">20</text>
<text x="288.1" y="709.2" font-size="8.6" font-family="Liberation Sans, sans-serif" fill="#2a2a2a" text-anchor="end">0</text>
<path d="M344,658.5H372.9M344,657.1v2.8M372.9,657.1v2.8" stroke="#6a6a6a" stroke-width="0.9" fill="none"/>
<text x="358.6" y="651.9" font-size="9" font-family="Liberation Sans, sans-serif" fill="#262626" text-anchor="middle" stroke="#262626" stroke-width="0.15">0.00</text>
<text x="337.8" y="719.6" font-size="10.5" font-family="Liberation Sans, sans-serif" fill="#2b2b2b" text-anchor="middle" font-weight="bold" textLength="17" lengthAdjust="spacingAndGlyphs" stroke="#2b2b2b" stroke-width="0.1">eGFP</text>
<text x="268.9" y="661.5" font-size="9.5" font-family="Liberation Sans, sans-serif" fill="#2b2b2b" text-anchor="middle" font-weight="bold" textLength="61.8" lengthAdjust="spacingAndGlyphs" transform="rotate(-90 268.9 661.5)" stroke="#2b2b2b" stroke-width="0.1">Normalized to mode</text>
<g clip-path="url(#c27)"><g filter="url(#dz)"><path d="M418.6,23.2C434.6,7.2 498.6,13.03 514.6,23.2C530.6,33.37 515.17,73.45 514.6,84.2C514.03,94.95 512.33,86.2 511.2,87.7C510.07,89.2 509.33,91.33 507.8,93.2C506.27,95.07 504.25,96.98 502,98.9C499.75,100.82 497.18,102.93 494.3,104.7C491.42,106.47 487.9,108.07 484.7,109.5C481.5,110.93 478.3,112.27 475.1,113.3C471.9,114.33 468.08,114.72 465.5,115.7C462.92,116.68 467.42,118.62 459.6,119.2C451.78,119.78 425.43,135.2 418.6,119.2C411.77,103.2 402.6,39.2 418.6,23.2Z" fill="#000" opacity="0.05" filter="url(#b0)"/><path d="M418.6,23.2C434.6,7.2 498.6,14.37 514.6,23.2C530.6,32.03 515.48,66.73 514.6,76.2C513.72,85.67 511.62,78.17 509.3,80C506.98,81.83 504.07,84.8 500.7,87.2C497.33,89.6 493.2,92 489.1,94.4C485,96.8 480.43,99.18 476.1,101.6C471.77,104.02 467.42,106.97 463.1,108.9C458.78,110.83 453.78,112.07 450.2,113.2C446.62,114.33 444.7,114.7 441.6,115.7C438.5,116.7 435.43,118.62 431.6,119.2C427.77,119.78 420.77,135.2 418.6,119.2C416.43,103.2 402.6,39.2 418.6,23.2Z" fill="#000" opacity="0.29"/><path d="M448.6,23.2C459.43,19.37 503.6,14.03 514.6,23.2C525.6,32.37 516.77,67.53 514.6,78.2C512.43,88.87 505.77,84.53 501.6,87.2C497.43,89.87 494.27,91.53 489.6,94.2C484.93,96.87 478.27,100.7 473.6,103.2C468.93,105.7 466.1,107.37 461.6,109.2C457.1,111.03 453.77,112.7 446.6,114.2C439.43,115.7 423.27,119.87 418.6,118.2C413.93,116.53 416.43,107.53 418.6,104.2C420.77,100.87 427.77,101.2 431.6,98.2C435.43,95.2 438.93,91.2 441.6,86.2C444.27,81.2 446.27,74.87 447.6,68.2C448.93,61.53 449.43,53.7 449.6,46.2C449.77,38.7 437.77,27.03 448.6,23.2Z" fill="#000" opacity="0.36" filter="url(#b1)"/><path d="M451.6,40.2C454.93,34.03 462.93,34.53 469.6,34.2C476.27,33.87 485.27,34.87 491.6,38.2C497.93,41.53 504.6,48.7 507.6,54.2C510.6,59.7 511.27,66.2 509.6,71.2C507.93,76.2 502.27,80.37 497.6,84.2C492.93,88.03 487.27,90.53 481.6,94.2C475.93,97.87 468.6,105.2 463.6,106.2C458.6,107.2 453.93,106.03 451.6,100.2C449.27,94.37 449.6,81.2 449.6,71.2C449.6,61.2 448.27,46.37 451.6,40.2Z" fill="#000" opacity="0.55" filter="url(#b2)"/><path d="M418.6,88.2C420.43,83.87 426.77,89.87 429.6,92.2C432.43,94.53 435.27,98.53 435.6,102.2C435.93,105.87 434.43,111.53 431.6,114.2C428.77,116.87 420.77,122.53 418.6,118.2C416.43,113.87 416.77,92.53 418.6,88.2Z" fill="#000" opacity="0.5" filter="url(#b1)"/></g></g>
<g clip-path="url(#c28)"><path d="M453.6,48.2C457.6,42.87 468.93,42.87 476.6,44.2C484.27,45.53 495.1,51.2 499.6,56.2C504.1,61.2 505.27,68.53 503.6,74.2C501.93,79.87 494.93,85.87 489.6,90.2C484.27,94.53 476.93,98.87 471.6,100.2C466.27,101.53 460.77,102.2 457.6,98.2C454.43,94.2 453.27,84.53 452.6,76.2C451.93,67.87 449.6,53.53 453.6,48.2Z" fill="#26227e" opacity="0.42" filter="url(#b2)"/><path d="M471.6,92.2C475.6,88.87 485.6,84.87 491.6,81.2C497.6,77.53 504.43,71.2 507.6,70.2C510.77,69.2 512.1,73.03 510.6,75.2C509.1,77.37 503.27,80.37 498.6,83.2C493.93,86.03 487.77,89.2 482.6,92.2C477.43,95.2 469.43,101.2 467.6,101.2C465.77,101.2 467.6,95.53 471.6,92.2Z" fill="#26227e" opacity="0.5" filter="url(#b3)"/><path d="M436.1,110.4C437.18,110.07 440.32,108.88 442.6,108.4C444.88,107.92 447.8,108.23 449.8,107.5C451.8,106.77 453.13,105.47 454.6,104C456.07,102.53 457.27,100.92 458.6,98.7C459.93,96.48 461.6,93.45 462.6,90.7C463.6,87.95 464.23,84.53 464.6,82.2C464.97,79.87 464.77,77.62 464.8,76.7" fill="none" stroke="#6a9ae2" stroke-width="25" stroke-linecap="round" stroke-linejoin="round" opacity="0.5" filter="url(#b1)"/><path d="M436.1,110.4C437.18,110.07 440.32,108.88 442.6,108.4C444.88,107.92 447.8,108.23 449.8,107.5C451.8,106.77 453.13,105.47 454.6,104C456.07,102.53 457.27,100.92 458.6,98.7C459.93,96.48 461.6,93.45 462.6,90.7C463.6,87.95 464.23,84.53 464.6,82.2C464.97,79.87 464.77,77.62 464.8,76.7" fill="none" stroke="#30b2ea" stroke-width="16" stroke-linecap="round" stroke-linejoin="round" opacity="0.95" filter="url(#b3)"/><path d="M436.1,110.4C437.18,110.07 440.32,108.88 442.6,108.4C444.88,107.92 447.8,108.23 449.8,107.5C451.8,106.77 453.13,105.47 454.6,104C456.07,102.53 457.27,100.92 458.6,98.7C459.93,96.48 461.6,93.45 462.6,90.7C463.6,87.95 464.23,84.53 464.6,82.2C464.97,79.87 464.77,77.62 464.8,76.7" fill="none" stroke="#5cc64c" stroke-width="9" stroke-linecap="round" stroke-linejoin="round" filter="url(#b4)"/><ellipse cx="464.6" cy="85.2" rx="9" ry="13" fill="#30b2ea" opacity="0.9" filter="url(#b3)" transform="rotate(8 464.6 85.2)"/><ellipse cx="464.6" cy="85.2" rx="6.2" ry="10.5" fill="#5cc64c" filter="url(#b4)" transform="rotate(8 464.6 85.2)"/><ellipse cx="464.6" cy="85.2" rx="3.5" ry="7.5" fill="#86d04a" opacity="0.8" filter="url(#b7)" transform="rotate(8 464.6 85.2)"/><path d="M422.6,106.2C423.43,104.73 426.43,104.73 427.6,106.2C428.77,107.67 430.43,113.53 429.6,115C428.77,116.47 423.77,116.47 422.6,115C421.43,113.53 421.77,107.67 422.6,106.2Z" fill="#3ab0e0" opacity="0.7" filter="url(#b7)"/><ellipse cx="458.4" cy="99.8" rx="3.6" ry="1.9" fill="#f0e63a" filter="url(#b6)" transform="rotate(-35 458.4 99.8)"/><ellipse cx="449.2" cy="107.5" rx="4.2" ry="2.8" fill="#f2c830" filter="url(#b7)"/><ellipse cx="449.2" cy="107.5" rx="3" ry="2" fill="#e8402a"/><ellipse cx="436.4" cy="110" rx="3.2" ry="2.6" fill="#f2c830" filter="url(#b7)"/><ellipse cx="436.4" cy="110.2" rx="2" ry="1.7" fill="#ec6a2a"/></g>
<rect x="421.6" y="26.2" width="90" height="90.6" fill="none" stroke="#c8c8c8" stroke-width="0.9"/>
<path d="M421.6,116.8v2.4M424.45,116.8v1.2M427.3,116.8v1.2M430.15,116.8v1.2M433,116.8v1.2M435.85,116.8v1.2M438.7,116.8v2.4M441.55,116.8v1.2M444.4,116.8v1.2M447.25,116.8v1.2M450.1,116.8v1.2M452.95,116.8v1.2M455.8,116.8v2.4M458.65,116.8v1.2M461.5,116.8v1.2M464.35,116.8v1.2M467.2,116.8v1.2M470.05,116.8v1.2M472.9,116.8v2.4M475.75,116.8v1.2M478.6,116.8v1.2M481.45,116.8v1.2M484.3,116.8v1.2M487.15,116.8v1.2M490,116.8v2.4M492.85,116.8v1.2M495.7,116.8v1.2M498.55,116.8v1.2M501.4,116.8v1.2M504.25,116.8v1.2M507.1,116.8v2.4M421.6,30.4h-2.4M421.6,33.82h-1.2M421.6,37.24h-1.2M421.6,40.66h-1.2M421.6,44.08h-1.2M421.6,47.5h-2.4M421.6,50.92h-1.2M421.6,54.34h-1.2M421.6,57.76h-1.2M421.6,61.18h-1.2M421.6,64.6h-2.4M421.6,68.02h-1.2M421.6,71.44h-1.2M421.6,74.86h-1.2M421.6,78.28h-1.2M421.6,81.7h-2.4M421.6,85.12h-1.2M421.6,88.54h-1.2M421.6,91.96h-1.2M421.6,95.38h-1.2M421.6,98.8h-2.4M421.6,102.22h-1.2M421.6,105.64h-1.2M421.6,109.06h-1.2M421.6,112.48h-1.2M421.6,115.9h-2.4" stroke="#444" stroke-width="0.8" fill="none"/>
<text x="466.1" y="131.7" font-size="10.5" font-family="Liberation Sans, sans-serif" fill="#2b2b2b" text-anchor="middle" font-weight="bold" textLength="19.2" lengthAdjust="spacingAndGlyphs" stroke="#2b2b2b" stroke-width="0.1">FSC-A</text>
<text x="407.3" y="71.2" font-size="10.5" font-family="Liberation Sans, sans-serif" fill="#2b2b2b" text-anchor="middle" font-weight="bold" textLength="20" lengthAdjust="spacingAndGlyphs" transform="rotate(-90 407.3 71.2)" stroke="#2b2b2b" stroke-width="0.1">SSC-A</text>
<g clip-path="url(#c29)"><g filter="url(#dz)"><path d="M419.5,173.2C421.33,164.53 426.67,171.37 430.5,171.2C434.33,171.03 438.33,170.87 442.5,172.2C446.67,173.53 452.33,177.87 455.5,179.2C458.67,180.53 460.45,179.65 461.5,180.2C462.55,180.75 460.6,180.96 461.8,182.5C463,184.05 466.58,187.43 468.7,189.47C470.82,191.51 472.57,193.08 474.5,194.73C476.43,196.38 478.38,198.02 480.3,199.39C482.22,200.76 484.08,201.88 486,202.94C487.92,204.01 489.87,204.93 491.8,205.8C493.73,206.67 495.68,207.46 497.6,208.16C499.52,208.86 501.2,209.41 503.3,210.02C505.4,210.62 508.42,211.39 510.2,211.79C511.98,212.19 513.37,212.26 514,212.42C514.63,212.59 517.3,212.54 514,212.8C510.7,213.06 503.9,213.53 494.2,214C484.5,214.47 466.7,215.12 455.8,215.6C444.9,216.08 433.93,216.03 428.8,216.9C423.67,217.77 426.55,219.75 425,220.8C423.45,221.85 420.42,231.13 419.5,223.2C418.58,215.27 417.67,181.87 419.5,173.2Z" fill="#000" opacity="0.1"/><path d="M419.5,151.2C423.33,147.2 436.17,148.53 442.5,149.2C448.83,149.87 454.17,151.53 457.5,155.2C460.83,158.87 463.33,167.87 462.5,171.2C461.67,174.53 457.5,174.87 452.5,175.2C447.5,175.53 438,173.53 432.5,173.2C427,172.87 421.67,176.87 419.5,173.2C417.33,169.53 415.67,155.2 419.5,151.2Z" fill="#000" opacity="0.03" filter="url(#b1)"/><path d="M419.5,186.2C422,179.7 429.83,184.53 434.5,184.2C439.17,183.87 443.17,184.03 447.5,184.2C451.83,184.37 458.12,185.48 460.5,185.2C462.88,184.92 460.43,181.79 461.8,182.5C463.17,183.21 466.58,187.43 468.7,189.47C470.82,191.51 472.57,193.08 474.5,194.73C476.43,196.38 478.38,198.02 480.3,199.39C482.22,200.76 484.08,201.88 486,202.94C487.92,204.01 489.87,204.93 491.8,205.8C493.73,206.67 495.68,207.46 497.6,208.16C499.52,208.86 501.2,209.41 503.3,210.02C505.4,210.62 508.42,211.39 510.2,211.79C511.98,212.19 513.37,212.26 514,212.42C514.63,212.59 517.3,212.54 514,212.8C510.7,213.06 503.9,213.53 494.2,214C484.5,214.47 466.7,215.12 455.8,215.6C444.9,216.08 433.93,216.03 428.8,216.9C423.67,217.77 426.55,219.75 425,220.8C423.45,221.85 420.42,228.97 419.5,223.2C418.58,217.43 417,192.7 419.5,186.2Z" fill="#000" opacity="0.32"/><path d="M419.5,197.2C422.33,192.7 431,196.62 436.5,196.2C442,195.78 448.17,195.2 452.5,194.7C456.83,194.2 459.83,193.7 462.5,193.2C465.17,192.7 466.5,191.44 468.5,191.7C470.5,191.95 472.53,193.45 474.5,194.73C476.47,196.01 478.38,198.02 480.3,199.39C482.22,200.76 484.08,201.88 486,202.94C487.92,204.01 489.87,204.93 491.8,205.8C493.73,206.67 495.68,207.46 497.6,208.16C499.52,208.86 501.2,209.41 503.3,210.02C505.4,210.62 508.42,211.39 510.2,211.79C511.98,212.19 513.37,212.26 514,212.42C514.63,212.59 517.3,212.54 514,212.8C510.7,213.06 503.9,213.53 494.2,214C484.5,214.47 466.7,215.12 455.8,215.6C444.9,216.08 433.93,216.03 428.8,216.9C423.67,217.77 426.55,219.75 425,220.8C423.45,221.85 420.42,227.13 419.5,223.2C418.58,219.27 416.67,201.7 419.5,197.2Z" fill="#000" opacity="0.97"/></g></g>
<g clip-path="url(#c30)"><path d="M419.5,200.2C423.33,197.2 435.33,199.7 442.5,199.2C449.67,198.7 457.17,197.28 462.5,197.2C467.83,197.12 470.83,197.78 474.5,198.7C478.17,199.62 481.17,201.45 484.5,202.7C487.83,203.95 490.17,204.87 494.5,206.2C498.83,207.53 510.5,209.53 510.5,210.7C510.5,211.87 502.5,212.53 494.5,213.2C486.5,213.87 472.83,214.37 462.5,214.7C452.17,215.03 439.67,214.78 432.5,215.2C425.33,215.62 421.67,219.7 419.5,217.2C417.33,214.7 415.67,203.2 419.5,200.2Z" fill="#26227e" opacity="0.75" filter="url(#b4)"/><path d="M423,205.5C423.92,205.05 426.75,205.52 428.5,205.8C430.25,206.08 433.5,206.73 433.5,207.2C433.5,207.67 430.25,208.38 428.5,208.6C426.75,208.82 423.92,209.02 423,208.5C422.08,207.98 422.08,205.95 423,205.5Z" fill="#4a8ad0" opacity="0.55" filter="url(#b5)"/><path d="M431.5,211C435,210.5 444,210.62 452.5,210.5C461,210.38 474.83,210.23 482.5,210.3C490.17,210.37 495.17,210.67 498.5,210.9C501.83,211.13 505.17,211.32 502.5,211.7C499.83,212.08 490.83,212.9 482.5,213.2C474.17,213.5 461,213.45 452.5,213.5C444,213.55 435,213.92 431.5,213.5C428,213.08 428,211.5 431.5,211Z" fill="#3aaed0" opacity="0.9"/><path d="M435.5,211.5C438.33,211.2 446.33,211.18 452.5,211.1C458.67,211.02 466.83,210.93 472.5,211C478.17,211.07 486.5,211.2 486.5,211.5C486.5,211.8 478.17,212.55 472.5,212.8C466.83,213.05 458.67,212.98 452.5,213C446.33,213.02 438.33,213.15 435.5,212.9C432.67,212.65 432.67,211.8 435.5,211.5Z" fill="#72c652" opacity="0.9"/><ellipse cx="460.5" cy="212" rx="7" ry="0.7" fill="#c8dc4c" opacity="0.8"/><path d="M480.5,210.6C482.5,210.25 489.17,210.55 492.5,210.7C495.83,210.85 500.5,211.18 500.5,211.5C500.5,211.82 495.83,212.38 492.5,212.6C489.17,212.82 482.5,213.13 480.5,212.8C478.5,212.47 478.5,210.95 480.5,210.6Z" fill="#b85aa8" opacity="0.6"/><path d="M430.5,214L498.5,213" stroke="#c03a98" stroke-width="0.9" opacity="0.75"/><path d="M472.5,204.4C474.5,204.13 480.83,204.33 484.5,204.5C488.17,204.67 491.83,205.05 494.5,205.4C497.17,205.75 500.83,206.35 500.5,206.6C500.17,206.85 495.5,206.9 492.5,206.9C489.5,206.9 485.83,206.73 482.5,206.6C479.17,206.47 474.17,206.47 472.5,206.1C470.83,205.73 470.5,204.67 472.5,204.4Z" fill="#58b2e6" opacity="0.8" filter="url(#b6)"/><path d="M468.7,189.47C469.67,190.35 472.57,193.08 474.5,194.73C476.43,196.38 478.38,198.02 480.3,199.39C482.22,200.76 484.08,201.88 486,202.94C487.92,204.01 489.87,204.93 491.8,205.8C493.73,206.67 495.68,207.46 497.6,208.16C499.52,208.86 501.2,209.41 503.3,210.02C505.4,210.62 508.42,211.39 510.2,211.79C511.98,212.19 513.37,212.32 514,212.42" fill="none" stroke="#22207a" stroke-width="0.9" opacity="0.75"/></g>
<rect x="422.5" y="143.2" width="90" height="90.6" fill="none" stroke="#c8c8c8" stroke-width="0.9"/>
<path d="M422.5,233.8v2.4M425.35,233.8v1.2M428.2,233.8v1.2M431.05,233.8v1.2M433.9,233.8v1.2M436.75,233.8v1.2M439.6,233.8v2.4M442.45,233.8v1.2M445.3,233.8v1.2M448.15,233.8v1.2M451,233.8v1.2M453.85,233.8v1.2M456.7,233.8v2.4M459.55,233.8v1.2M462.4,233.8v1.2M465.25,233.8v1.2M468.1,233.8v1.2M470.95,233.8v1.2M473.8,233.8v2.4M476.65,233.8v1.2M479.5,233.8v1.2M482.35,233.8v1.2M485.2,233.8v1.2M488.05,233.8v1.2M490.9,233.8v2.4M493.75,233.8v1.2M496.6,233.8v1.2M499.45,233.8v1.2M502.3,233.8v1.2M505.15,233.8v1.2M508,233.8v2.4M422.5,147.4h-2.4M422.5,150.82h-1.2M422.5,154.24h-1.2M422.5,157.66h-1.2M422.5,161.08h-1.2M422.5,164.5h-2.4M422.5,167.92h-1.2M422.5,171.34h-1.2M422.5,174.76h-1.2M422.5,178.18h-1.2M422.5,181.6h-2.4M422.5,185.02h-1.2M422.5,188.44h-1.2M422.5,191.86h-1.2M422.5,195.28h-1.2M422.5,198.7h-2.4M422.5,202.12h-1.2M422.5,205.54h-1.2M422.5,208.96h-1.2M422.5,212.38h-1.2M422.5,215.8h-2.4M422.5,219.22h-1.2M422.5,222.64h-1.2M422.5,226.06h-1.2M422.5,229.48h-1.2M422.5,232.9h-2.4" stroke="#444" stroke-width="0.8" fill="none"/>
<text x="478.8" y="225.4" font-size="9" font-family="Liberation Sans, sans-serif" fill="#262626" text-anchor="middle" textLength="16.2" lengthAdjust="spacingAndGlyphs" stroke="#262626" stroke-width="0.15">82.8</text>
<text x="465.8" y="249.8" font-size="10.5" font-family="Liberation Sans, sans-serif" fill="#2b2b2b" text-anchor="middle" font-weight="bold" textLength="19.6" lengthAdjust="spacingAndGlyphs" stroke="#2b2b2b" stroke-width="0.1">FSC-H</text>
<text x="407.3" y="188.1" font-size="10.5" font-family="Liberation Sans, sans-serif" fill="#2b2b2b" text-anchor="middle" font-weight="bold" textLength="21.5" lengthAdjust="spacingAndGlyphs" transform="rotate(-90 407.3 188.1)" stroke="#2b2b2b" stroke-width="0.1">FSC-W</text>
<g clip-path="url(#c31)"><g filter="url(#dz)"><path d="M418.6,302.5C419.37,298.08 421.03,303.33 423.2,304C425.37,304.67 428.53,305.58 431.6,306.5C434.67,307.42 437.55,308.33 441.6,309.5C445.65,310.67 450.32,312.08 455.9,313.5C461.48,314.92 468.7,316.58 475.1,318C481.5,319.42 488.47,320.62 494.3,322C500.13,323.38 510.1,325.22 510.1,326.3C510.1,327.38 503.33,328.03 494.3,328.5C485.27,328.97 468.52,328.77 455.9,329.1C443.28,329.43 424.82,334.93 418.6,330.5C412.38,326.07 417.83,306.92 418.6,302.5Z" fill="#000" opacity="0.16" filter="url(#b8)"/><path d="M418.6,288.5C421.6,285.83 430.27,288.83 436.6,290.5C442.93,292.17 450.77,295.83 456.6,298.5C462.43,301.17 470.77,304.17 471.6,306.5C472.43,308.83 467.43,312.17 461.6,312.5C455.77,312.83 443.77,309.5 436.6,308.5C429.43,307.5 421.6,309.83 418.6,306.5C415.6,303.17 415.6,291.17 418.6,288.5Z" fill="#000" opacity="0.07" filter="url(#b1)"/><path d="M418.6,312.5C421.6,310 430.38,314.5 436.6,315.5C442.82,316.5 449.48,317.58 455.9,318.5C462.32,319.42 468.7,320.17 475.1,321C481.5,321.83 488.47,322.58 494.3,323.5C500.13,324.42 510.1,325.67 510.1,326.5C510.1,327.33 503.33,328.07 494.3,328.5C485.27,328.93 468.52,328.77 455.9,329.1C443.28,329.43 424.82,333.27 418.6,330.5C412.38,327.73 415.6,315 418.6,312.5Z" fill="#000" opacity="0.35" filter="url(#b7)"/><path d="M418.6,323.3C424.82,322.17 446.48,323.13 455.9,323.3C465.32,323.47 468.7,324.1 475.1,324.3C481.5,324.5 488.37,324.02 494.3,324.5C500.23,324.98 510.7,326.53 510.7,327.2C510.7,327.87 503.43,328.18 494.3,328.5C485.17,328.82 468.52,328.83 455.9,329.1C443.28,329.37 424.82,331.07 418.6,330.1C412.38,329.13 412.38,324.43 418.6,323.3Z" fill="#000" filter="url(#b9)"/></g></g>
<g clip-path="url(#c32)"><path d="M418.6,324C424.82,323.1 445.4,323.93 455.9,324.1C466.4,324.27 472.98,324.5 481.6,325C490.22,325.5 507.6,326.58 507.6,327.1C507.6,327.62 490.22,327.82 481.6,328.1C472.98,328.38 466.4,328.57 455.9,328.8C445.4,329.03 424.82,330.3 418.6,329.5C412.38,328.7 412.38,324.9 418.6,324Z" fill="#26227e" opacity="0.7" filter="url(#b6)"/><path d="M423.6,326C426.6,325.67 435.27,325.7 441.6,325.7C447.93,325.7 456.27,325.83 461.6,326C466.93,326.17 473.6,326.47 473.6,326.7C473.6,326.93 466.93,327.25 461.6,327.4C456.27,327.55 447.93,327.55 441.6,327.6C435.27,327.65 426.6,327.97 423.6,327.7C420.6,327.43 420.6,326.33 423.6,326Z" fill="#36aacc" opacity="0.9" filter="url(#b10)"/><ellipse cx="435.6" cy="326.8" rx="9" ry="0.65" fill="#a8d448" opacity="0.9" filter="url(#b11)"/><path d="M423.6,328.8L481.6,328.3" stroke="#b02890" stroke-width="0.6" opacity="0.6"/></g>
<rect x="421.6" y="260.5" width="90" height="90.6" fill="none" stroke="#c8c8c8" stroke-width="0.9"/>
<path d="M421.6,351.1v2.4M424.45,351.1v1.2M427.3,351.1v1.2M430.15,351.1v1.2M433,351.1v1.2M435.85,351.1v1.2M438.7,351.1v2.4M441.55,351.1v1.2M444.4,351.1v1.2M447.25,351.1v1.2M450.1,351.1v1.2M452.95,351.1v1.2M455.8,351.1v2.4M458.65,351.1v1.2M461.5,351.1v1.2M464.35,351.1v1.2M467.2,351.1v1.2M470.05,351.1v1.2M472.9,351.1v2.4M475.75,351.1v1.2M478.6,351.1v1.2M481.45,351.1v1.2M484.3,351.1v1.2M487.15,351.1v1.2M490,351.1v2.4M492.85,351.1v1.2M495.7,351.1v1.2M498.55,351.1v1.2M501.4,351.1v1.2M504.25,351.1v1.2M507.1,351.1v2.4M421.6,264.7h-2.4M421.6,268.12h-1.2M421.6,271.54h-1.2M421.6,274.96h-1.2M421.6,278.38h-1.2M421.6,281.8h-2.4M421.6,285.22h-1.2M421.6,288.64h-1.2M421.6,292.06h-1.2M421.6,295.48h-1.2M421.6,298.9h-2.4M421.6,302.32h-1.2M421.6,305.74h-1.2M421.6,309.16h-1.2M421.6,312.58h-1.2M421.6,316h-2.4M421.6,319.42h-1.2M421.6,322.84h-1.2M421.6,326.26h-1.2M421.6,329.68h-1.2M421.6,333.1h-2.4M421.6,336.52h-1.2M421.6,339.94h-1.2M421.6,343.36h-1.2M421.6,346.78h-1.2M421.6,350.2h-2.4" stroke="#444" stroke-width="0.8" fill="none"/>
<text x="464.3" y="337.8" font-size="9" font-family="Liberation Sans, sans-serif" fill="#262626" text-anchor="middle" textLength="17" lengthAdjust="spacingAndGlyphs" stroke="#262626" stroke-width="0.15">95.9</text>
<text x="465.9" y="368" font-size="10.5" font-family="Liberation Sans, sans-serif" fill="#2b2b2b" text-anchor="middle" font-weight="bold" textLength="19.6" lengthAdjust="spacingAndGlyphs" stroke="#2b2b2b" stroke-width="0.1">SSC-H</text>
<text x="407.3" y="305.1" font-size="10.5" font-family="Liberation Sans, sans-serif" fill="#2b2b2b" text-anchor="middle" font-weight="bold" textLength="21" lengthAdjust="spacingAndGlyphs" transform="rotate(-90 407.3 305.1)" stroke="#2b2b2b" stroke-width="0.1">SSC-W</text>
<g clip-path="url(#c33)"><path d="M438.2,444.2C438.2,443.47 438.3,442.43 438.8,442C439.3,441.57 438.97,441.62 441.2,441.6C443.43,441.58 448.7,441.75 452.2,441.9C455.7,442.05 459.43,442.22 462.2,442.5C464.97,442.78 467.57,443.33 468.8,443.6C470.03,443.87 469.6,443.93 469.6,444.1C469.6,444.27 470.03,444.37 468.8,444.6C467.57,444.83 464.97,445.23 462.2,445.5C459.43,445.77 455.7,446 452.2,446.2C448.7,446.4 443.43,446.67 441.2,446.7C438.97,446.73 439.3,446.82 438.8,446.4C438.3,445.98 438.2,444.93 438.2,444.2Z" fill="#2a2486"/><path d="M438.2,444.2C438.2,443.47 438.3,442.43 438.8,442C439.3,441.57 438.97,441.62 441.2,441.6C443.43,441.58 448.7,441.75 452.2,441.9C455.7,442.05 459.43,442.22 462.2,442.5C464.97,442.78 467.57,443.33 468.8,443.6C470.03,443.87 469.6,443.93 469.6,444.1C469.6,444.27 470.03,444.37 468.8,444.6C467.57,444.83 464.97,445.23 462.2,445.5C459.43,445.77 455.7,446 452.2,446.2C448.7,446.4 443.43,446.67 441.2,446.7C438.97,446.73 439.3,446.82 438.8,446.4C438.3,445.98 438.2,444.93 438.2,444.2Z" fill="none" stroke="#1c1850" stroke-width="0.8"/><path d="M439.7,444C439.7,443.6 439.78,442.98 440.7,442.8C441.62,442.62 444.12,442.73 445.2,442.9C446.28,443.07 447.2,443.45 447.2,443.8C447.2,444.15 446.28,444.77 445.2,445C444.12,445.23 441.62,445.37 440.7,445.2C439.78,445.03 439.7,444.4 439.7,444Z" fill="#c4c8d6" opacity="0.95"/><path d="M447.2,443.3C449.37,443.08 458.03,443.38 460.2,443.6C462.37,443.82 462.37,444.38 460.2,444.6C458.03,444.82 449.37,445.12 447.2,444.9C445.03,444.68 445.03,443.52 447.2,443.3Z" fill="#4840b0" opacity="0.8"/><rect x="489.6" y="443.7" width="1" height="1" fill="#b0b0d0" opacity="0.6"/></g>
<rect x="421.6" y="377.5" width="90" height="90.6" fill="none" stroke="#c8c8c8" stroke-width="0.9"/>
<path d="M454.9,468.1v2.4M470.65,468.1v2.4M484.6,468.1v2.4M499.9,468.1v2.4M427.9,468.1v1.2M430.15,468.1v1.2M432.4,468.1v1.2M434.65,468.1v1.2M436.9,468.1v1.2M447.04,468.1v1.2M449.02,468.1v1.2M450.42,468.1v1.2M451.51,468.1v1.2M452.4,468.1v1.2M453.16,468.1v1.2M453.81,468.1v1.2M454.39,468.1v1.2M459.64,468.1v1.2M462.41,468.1v1.2M464.38,468.1v1.2M465.91,468.1v1.2M467.16,468.1v1.2M468.21,468.1v1.2M469.12,468.1v1.2M469.93,468.1v1.2M474.85,468.1v1.2M477.31,468.1v1.2M479.05,468.1v1.2M480.4,468.1v1.2M481.51,468.1v1.2M482.44,468.1v1.2M483.25,468.1v1.2M483.96,468.1v1.2M489.21,468.1v1.2M491.9,468.1v1.2M493.81,468.1v1.2M495.29,468.1v1.2M496.51,468.1v1.2M497.53,468.1v1.2M498.42,468.1v1.2M499.2,468.1v1.2M504.51,468.1v1.2M507.2,468.1v1.2M509.11,468.1v1.2M510.59,468.1v1.2M439.6,468.1v2.4M440.28,468.1v2.4M440.95,468.1v2.4M441.62,468.1v2.4M442.3,468.1v2.4M442.98,468.1v2.4M443.65,468.1v2.4M421.6,381.7h-2.4M421.6,385.12h-1.2M421.6,388.54h-1.2M421.6,391.96h-1.2M421.6,395.38h-1.2M421.6,398.8h-2.4M421.6,402.22h-1.2M421.6,405.64h-1.2M421.6,409.06h-1.2M421.6,412.48h-1.2M421.6,415.9h-2.4M421.6,419.32h-1.2M421.6,422.74h-1.2M421.6,426.16h-1.2M421.6,429.58h-1.2M421.6,433h-2.4M421.6,436.42h-1.2M421.6,439.84h-1.2M421.6,443.26h-1.2M421.6,446.68h-1.2M421.6,450.1h-2.4M421.6,453.52h-1.2M421.6,456.94h-1.2M421.6,460.36h-1.2M421.6,463.78h-1.2M421.6,467.2h-2.4" stroke="#444" stroke-width="0.8" fill="none"/>
<rect x="470.5" y="377.7" width="40.8" height="90.2" fill="none" stroke="#8cc478" stroke-width="0.9"/>
<text x="491.9" y="425.1" font-size="9" font-family="Liberation Sans, sans-serif" fill="#262626" text-anchor="middle" stroke="#262626" stroke-width="0.15">0.000</text>
<text x="465.5" y="485" font-size="10.5" font-family="Liberation Sans, sans-serif" fill="#2b2b2b" text-anchor="middle" font-weight="bold" textLength="17" lengthAdjust="spacingAndGlyphs" stroke="#2b2b2b" stroke-width="0.1">eGFP</text>
<text x="407.3" y="423" font-size="10.5" font-family="Liberation Sans, sans-serif" fill="#2b2b2b" text-anchor="middle" font-weight="bold" textLength="21" lengthAdjust="spacingAndGlyphs" transform="rotate(-90 407.3 423)" stroke="#2b2b2b" stroke-width="0.1">SSC-W</text>
<g clip-path="url(#c34)"><g filter="url(#dz)"><path d="M418.6,527.2C424.1,522.53 440.93,528.7 451.6,529.2C462.27,529.7 477.18,528.03 482.6,530.2C488.02,532.37 484.43,537.7 484.1,542.2C483.77,546.7 482.18,552.7 480.6,557.2C479.02,561.7 476.6,565.7 474.6,569.2C472.6,572.7 471.1,575.95 468.6,578.2C466.1,580.45 462.77,581.95 459.6,582.7C456.43,583.45 452.93,583.45 449.6,582.7C446.27,581.95 442.93,580.28 439.6,578.2C436.27,576.12 432.6,572.87 429.6,570.2C426.6,567.53 423.43,564.37 421.6,562.2C419.77,560.03 419.1,563.03 418.6,557.2C418.1,551.37 413.1,531.87 418.6,527.2Z" fill="#000" opacity="0.48" filter="url(#b12)"/><ellipse cx="456.6" cy="562.2" rx="12" ry="14" fill="#000" opacity="0.65" filter="url(#b13)"/><path d="M418.6,531.2C422.43,530.2 434.43,531.03 441.6,531.2C448.77,531.37 455.77,531.87 461.6,532.2C467.43,532.53 476.6,532.37 476.6,533.2C476.6,534.03 467.43,536.53 461.6,537.2C455.77,537.87 448.77,537.2 441.6,537.2C434.43,537.2 422.43,538.2 418.6,537.2C414.77,536.2 414.77,532.2 418.6,531.2Z" fill="#000" opacity="0.35" filter="url(#b3)"/><path d="M485.6,531.2C490.27,520.87 508.93,517.53 513.6,527.2C518.27,536.87 518.27,578.87 513.6,589.2C508.93,599.53 490.27,598.87 485.6,589.2C480.93,579.53 480.93,541.53 485.6,531.2Z" fill="#000" opacity="0.04" filter="url(#b1)"/><path d="M418.6,500.2C421.6,494.78 430.38,499.2 436.6,498.7C442.82,498.2 450.07,497.37 455.9,497.2C461.73,497.03 466.98,496.87 471.6,497.7C476.22,498.53 479.43,500.45 483.6,502.2C487.77,503.95 492.6,506.12 496.6,508.2C500.6,510.28 507.6,512.7 507.6,514.7C507.6,516.7 500.93,518.12 496.6,520.2C492.27,522.28 494.6,525.37 481.6,527.2C468.6,529.03 429.1,535.7 418.6,531.2C408.1,526.7 415.6,505.62 418.6,500.2Z" fill="#000" opacity="0.3" filter="url(#b0)"/><path d="M418.6,506.7C421.6,502.45 430.38,505.28 436.6,504.7C442.82,504.12 450.77,503.45 455.9,503.2C461.03,502.95 463.57,502.62 467.4,503.2C471.23,503.78 475.05,505.28 478.9,506.7C482.75,508.12 486.65,510.32 490.5,511.7C494.35,513.08 499.73,514.32 502,515C504.27,515.68 504.1,515.5 504.1,515.8C504.1,516.1 504.27,515.78 502,516.8C499.73,517.82 494.35,520.1 490.5,521.9C486.65,523.7 483.07,526.3 478.9,527.6C474.73,528.9 470.95,529.18 465.5,529.7C460.05,530.22 454.02,530.62 446.2,530.7C438.38,530.78 423.2,534.2 418.6,530.2C414,526.2 415.6,510.95 418.6,506.7Z" fill="#000" opacity="0.95" filter="url(#b7)"/></g></g>
<g clip-path="url(#c35)"><path d="M418.6,509.2C422.43,505.87 433.6,507.7 441.6,507.2C449.6,506.7 459.93,505.78 466.6,506.2C473.27,506.62 476.77,508.2 481.6,509.7C486.43,511.2 495.6,512.95 495.6,515.2C495.6,517.45 486.43,521.2 481.6,523.2C476.77,525.2 473.27,526.37 466.6,527.2C459.93,528.03 449.6,528.2 441.6,528.2C433.6,528.2 422.43,530.37 418.6,527.2C414.77,524.03 414.77,512.53 418.6,509.2Z" fill="#26227e" opacity="0.75" filter="url(#b14)"/><path d="M418.6,516.7C419.93,516.12 424.1,516.53 426.6,516.2C429.1,515.87 431.32,515.17 433.6,514.7C435.88,514.23 437.3,513.78 440.3,513.4C443.3,513.02 447.85,512.67 451.6,512.4C455.35,512.13 459.13,511.87 462.8,511.8C466.47,511.73 470.72,511.85 473.6,512C476.48,512.15 478.1,512.17 480.1,512.7C482.1,513.23 484.1,514.33 485.6,515.2C487.1,516.07 489.1,516.9 489.1,517.9C489.1,518.9 487.1,519.82 485.6,521.2C484.1,522.58 482.43,525.32 480.1,526.2C477.77,527.08 474.48,526.47 471.6,526.5C468.72,526.53 466.13,526.62 462.8,526.4C459.47,526.18 455.35,525.6 451.6,525.2C447.85,524.8 443.3,524.58 440.3,524C437.3,523.42 435.88,522.37 433.6,521.7C431.32,521.03 429.1,520.33 426.6,520C424.1,519.67 419.93,520.25 418.6,519.7C417.27,519.15 417.27,517.28 418.6,516.7Z" fill="#3aaee0" opacity="0.75" filter="url(#b7)"/><path d="M438.6,518.7C438.93,517.67 442.77,516.22 445.6,515.5C448.43,514.78 452.27,514.53 455.6,514.4C458.93,514.27 463.1,514.32 465.6,514.7C468.1,515.08 469.93,515.62 470.6,516.7C471.27,517.78 471.1,520.2 469.6,521.2C468.1,522.2 464.6,522.48 461.6,522.7C458.6,522.92 454.6,522.67 451.6,522.5C448.6,522.33 445.77,522.33 443.6,521.7C441.43,521.07 438.27,519.73 438.6,518.7Z" fill="#5ec44c" opacity="0.95" filter="url(#b6)"/><path d="M464.6,514.4C464.6,513.7 468.6,512.93 470.6,512.6C472.6,512.27 475.02,512.2 476.6,512.4C478.18,512.6 479.93,513.2 480.1,513.8C480.27,514.4 479.18,515.5 477.6,516C476.02,516.5 472.77,517.07 470.6,516.8C468.43,516.53 464.6,515.1 464.6,514.4Z" fill="#5ec44c" opacity="0.95" filter="url(#b6)"/><path d="M466.6,521.7C467.43,521 470.6,520.22 472.6,520C474.6,519.78 477.18,519.9 478.6,520.4C480.02,520.9 481.1,522.1 481.1,523C481.1,523.9 480.18,525.3 478.6,525.8C477.02,526.3 473.43,526.27 471.6,526C469.77,525.73 468.43,524.92 467.6,524.2C466.77,523.48 465.77,522.4 466.6,521.7Z" fill="#5ec44c" opacity="0.95" filter="url(#b6)"/><ellipse cx="476.6" cy="518.4" rx="3.6" ry="1.1" fill="#2f58b8" opacity="0.7" filter="url(#b6)"/><ellipse cx="455.8" cy="518.1" rx="5.4" ry="1.7" fill="#d4e444" filter="url(#b6)"/><ellipse cx="473.1" cy="514.4" rx="3" ry="1.3" fill="#d4e444" filter="url(#b6)"/><ellipse cx="475.7" cy="523.1" rx="2.6" ry="1.5" fill="#d4e444" filter="url(#b6)"/></g>
<rect x="421.6" y="497.2" width="90" height="90.6" fill="none" stroke="#c8c8c8" stroke-width="0.9"/>
<path d="M440.5,587.8v2.4M462.1,587.8v2.4M482.8,587.8v2.4M501.7,587.8v2.4M432.01,587.8v1.2M434.15,587.8v1.2M435.67,587.8v1.2M436.84,587.8v1.2M437.8,587.8v1.2M438.62,587.8v1.2M439.32,587.8v1.2M439.94,587.8v1.2M447,587.8v1.2M450.81,587.8v1.2M453.5,587.8v1.2M455.6,587.8v1.2M457.31,587.8v1.2M458.75,587.8v1.2M460.01,587.8v1.2M461.11,587.8v1.2M468.33,587.8v1.2M471.98,587.8v1.2M474.56,587.8v1.2M476.57,587.8v1.2M478.21,587.8v1.2M479.59,587.8v1.2M480.79,587.8v1.2M481.85,587.8v1.2M488.49,587.8v1.2M491.82,587.8v1.2M494.18,587.8v1.2M496.01,587.8v1.2M497.51,587.8v1.2M498.77,587.8v1.2M499.87,587.8v1.2M500.84,587.8v1.2M507.39,587.8v1.2M510.72,587.8v1.2M424.3,587.8v2.4M424.98,587.8v2.4M425.65,587.8v2.4M426.33,587.8v2.4M427,587.8v2.4M427.68,587.8v2.4M428.35,587.8v2.4M421.6,504.18h-2.4M421.6,521.66h-2.4M421.6,539.78h-2.4M421.6,558.81h-2.4M421.6,516.4h-1.2M421.6,513.32h-1.2M421.6,511.13h-1.2M421.6,509.44h-1.2M421.6,508.06h-1.2M421.6,506.88h-1.2M421.6,505.87h-1.2M421.6,504.98h-1.2M421.6,534.33h-1.2M421.6,531.14h-1.2M421.6,528.87h-1.2M421.6,527.12h-1.2M421.6,525.68h-1.2M421.6,524.47h-1.2M421.6,523.42h-1.2M421.6,522.49h-1.2M421.6,553.08h-1.2M421.6,549.73h-1.2M421.6,547.35h-1.2M421.6,545.51h-1.2M421.6,544h-1.2M421.6,542.73h-1.2M421.6,541.63h-1.2M421.6,540.65h-1.2M421.6,563.56h-1.2M421.6,562.36h-1.2M421.6,561.51h-1.2M421.6,560.85h-1.2M421.6,560.32h-1.2M421.6,559.86h-1.2M421.6,559.47h-1.2M421.6,559.12h-1.2M421.6,565.15h-2.4M421.6,565.53h-2.4M421.6,565.9h-2.4M421.6,566.28h-2.4M421.6,566.66h-2.4M421.6,567.04h-2.4M421.6,567.41h-2.4M421.6,571.49h-1.2M421.6,576.02h-1.2M421.6,580.55h-1.2M421.6,585.08h-1.2" stroke="#444" stroke-width="0.8" fill="none"/>
<path d="M483.6,533.4 490.4,527.6 511.3,527.6 511.3,587.6 483.6,587.6Z" fill="none" stroke="#a862a6" stroke-width="0.85"/>
<text x="497.2" y="565.8" font-size="9" font-family="Liberation Sans, sans-serif" fill="#262626" text-anchor="middle" stroke="#262626" stroke-width="0.15">0.061</text>
<text x="465.2" y="604.4" font-size="10.5" font-family="Liberation Sans, sans-serif" fill="#2b2b2b" text-anchor="middle" font-weight="bold" textLength="16.7" lengthAdjust="spacingAndGlyphs" stroke="#2b2b2b" stroke-width="0.1">CD31</text>
<text x="407.3" y="541.2" font-size="9.6" font-family="Liberation Sans, sans-serif" fill="#2b2b2b" text-anchor="middle" font-weight="bold" textLength="46.5" lengthAdjust="spacingAndGlyphs" transform="rotate(-90 407.3 541.2)" stroke="#2b2b2b" stroke-width="0.1">CD45 / Ter-119</text>
<path d="M437.8,706.2C438.12,703.32 439.07,696.3 439.7,688.93C440.33,681.56 440.9,668.25 441.6,662C442.3,655.74 443.2,652.36 443.9,651.39C444.6,650.43 445.15,652.16 445.8,656.18C446.45,660.2 447.08,674.61 447.8,675.51C448.52,676.4 449.47,662.54 450.1,661.57C450.73,660.6 451.03,667.7 451.6,669.69C452.17,671.69 452.85,671.62 453.5,673.54C454.15,675.46 454.85,678.67 455.5,681.23C456.15,683.8 456.6,686.68 457.4,688.93C458.2,691.18 459.18,693.77 460.3,694.74C461.42,695.71 463.15,694.12 464.1,694.74C465.05,695.37 465.2,696.6 466,698.5C466.8,700.41 468.42,704.92 468.9,706.2L468.9,706.2L437.8,706.2Z" fill="#cde8bf"/>
<path d="M437.8,706.2C438.12,703.32 439.07,696.3 439.7,688.93C440.33,681.56 440.9,668.25 441.6,662C442.3,655.74 443.2,652.36 443.9,651.39C444.6,650.43 445.15,652.16 445.8,656.18C446.45,660.2 447.08,674.61 447.8,675.51C448.52,676.4 449.47,662.54 450.1,661.57C450.73,660.6 451.03,667.7 451.6,669.69C452.17,671.69 452.85,671.62 453.5,673.54C454.15,675.46 454.85,678.67 455.5,681.23C456.15,683.8 456.6,686.68 457.4,688.93C458.2,691.18 459.18,693.77 460.3,694.74C461.42,695.71 463.15,694.12 464.1,694.74C465.05,695.37 465.2,696.6 466,698.5C466.8,700.41 468.42,704.92 468.9,706.2" fill="none" stroke="#4ea240" stroke-width="1.05" stroke-linejoin="round"/>
<path d="M421.2,705.8H511.2" stroke="#56ad46" stroke-width="0.9"/>
<rect x="421.2" y="616.2" width="90" height="90" fill="none" stroke="#161616" stroke-width="1.3"/>
<path d="M454.5,706.2v2.4M470.25,706.2v2.4M484.2,706.2v2.4M499.5,706.2v2.4M427.5,706.2v1.2M429.75,706.2v1.2M432,706.2v1.2M434.25,706.2v1.2M436.5,706.2v1.2M446.64,706.2v1.2M448.62,706.2v1.2M450.02,706.2v1.2M451.11,706.2v1.2M452,706.2v1.2M452.76,706.2v1.2M453.41,706.2v1.2M453.99,706.2v1.2M459.24,706.2v1.2M462.01,706.2v1.2M463.98,706.2v1.2M465.51,706.2v1.2M466.76,706.2v1.2M467.81,706.2v1.2M468.72,706.2v1.2M469.53,706.2v1.2M474.45,706.2v1.2M476.91,706.2v1.2M478.65,706.2v1.2M480,706.2v1.2M481.11,706.2v1.2M482.04,706.2v1.2M482.85,706.2v1.2M483.56,706.2v1.2M488.81,706.2v1.2M491.5,706.2v1.2M493.41,706.2v1.2M494.89,706.2v1.2M496.11,706.2v1.2M497.13,706.2v1.2M498.02,706.2v1.2M498.8,706.2v1.2M504.11,706.2v1.2M506.8,706.2v1.2M508.71,706.2v1.2M510.19,706.2v1.2M439.2,706.2v2.4M439.88,706.2v2.4M440.55,706.2v2.4M441.23,706.2v2.4M441.9,706.2v2.4M442.58,706.2v2.4M443.25,706.2v2.4M421.2,620.7h-2.6M421.2,624.98h-1.3M421.2,629.25h-1.3M421.2,633.53h-1.3M421.2,637.8h-2.6M421.2,642.08h-1.3M421.2,646.35h-1.3M421.2,650.63h-1.3M421.2,654.9h-2.6M421.2,659.18h-1.3M421.2,663.45h-1.3M421.2,667.73h-1.3M421.2,672h-2.6M421.2,676.27h-1.3M421.2,680.55h-1.3M421.2,684.83h-1.3M421.2,689.1h-2.6M421.2,693.38h-1.3M421.2,697.65h-1.3M421.2,701.93h-1.3M421.2,706.2h-2.6" stroke="#333" stroke-width="0.8" fill="none"/>
<text x="415.3" y="623.7" font-size="8.6" font-family="Liberation Sans, sans-serif" fill="#2a2a2a" text-anchor="end">100</text>
<text x="415.3" y="640.8" font-size="8.6" font-family="Liberation Sans, sans-serif" fill="#2a2a2a" text-anchor="end">80</text>
<text x="415.3" y="657.9" font-size="8.6" font-family="Liberation Sans, sans-serif" fill="#2a2a2a" text-anchor="end">60</text>
<text x="415.3" y="675" font-size="8.6" font-family="Liberation Sans, sans-serif" fill="#2a2a2a" text-anchor="end">40</text>
<text x="415.3" y="692.1" font-size="8.6" font-family="Liberation Sans, sans-serif" fill="#2a2a2a" text-anchor="end">20</text>
<text x="415.3" y="709.2" font-size="8.6" font-family="Liberation Sans, sans-serif" fill="#2a2a2a" text-anchor="end">0</text>
<path d="M471.5,658.5H500.6M471.5,657.1v2.8M500.6,657.1v2.8" stroke="#6a6a6a" stroke-width="0.9" fill="none"/>
<text x="486.5" y="651.9" font-size="9" font-family="Liberation Sans, sans-serif" fill="#262626" text-anchor="middle" stroke="#262626" stroke-width="0.15">0.00</text>
<text x="465" y="719.6" font-size="10.5" font-family="Liberation Sans, sans-serif" fill="#2b2b2b" text-anchor="middle" font-weight="bold" textLength="17" lengthAdjust="spacingAndGlyphs" stroke="#2b2b2b" stroke-width="0.1">eGFP</text>
<text x="396.1" y="661.5" font-size="9.5" font-family="Liberation Sans, sans-serif" fill="#2b2b2b" text-anchor="middle" font-weight="bold" textLength="61.8" lengthAdjust="spacingAndGlyphs" transform="rotate(-90 396.1 661.5)" stroke="#2b2b2b" stroke-width="0.1">Normalized to mode</text>
<path d="M49.8,214.6V253M49.8,328.2V371M41,326.5H7.5V500.6H31M115.8,571V610" stroke="#3a3a3a" stroke-width="1.15" fill="none"/>
<path d="M49.8,259.6L46.4,251.6L49.8,253.2L53.2,251.6ZM49.8,377.3L46.4,369.3L49.8,370.9L53.2,369.3ZM37,500.6L29,497.2L30.6,500.6L29,504ZM115.9,616.2L112.5,608.2L115.9,609.8L119.3,608.2Z" fill="#3a3a3a"/>
<rect x="0.5" y="0.5" width="519" height="729" fill="none" stroke="#3a3a3a" stroke-width="1.2"/></svg></body></html>
